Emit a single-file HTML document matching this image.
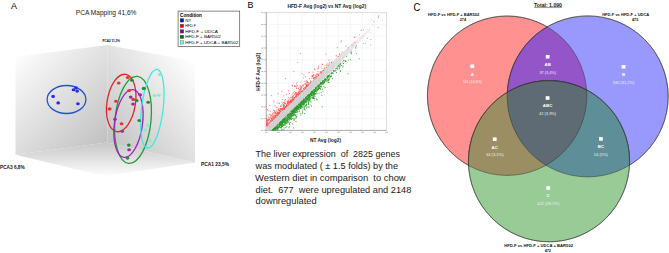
<!DOCTYPE html>
<html><head><meta charset="utf-8"><style>
html,body{margin:0;padding:0;background:#fff;width:669px;height:253px;overflow:hidden}
svg{display:block}
text{font-family:"Liberation Sans",sans-serif}
</style></head><body>
<svg width="669" height="253" viewBox="0 0 669 253" font-family="Liberation Sans, sans-serif">
<defs>
<linearGradient id="gl" x1="20" y1="50" x2="110" y2="140" gradientUnits="userSpaceOnUse"><stop offset="0" stop-color="#fefefe"/><stop offset="1" stop-color="#c1c1c1"/></linearGradient>
<linearGradient id="gr" x1="107" y1="142.5" x2="200.4" y2="68" gradientUnits="userSpaceOnUse"><stop offset="0" stop-color="#c3c3c3"/><stop offset="1" stop-color="#ffffff"/></linearGradient>
<linearGradient id="gf" x1="0" y1="142.5" x2="0" y2="176.3" gradientUnits="userSpaceOnUse"><stop offset="0" stop-color="#c6c6c6"/><stop offset="1" stop-color="#fefefe"/></linearGradient>
</defs>
<rect width="669" height="253" fill="#fff"/>
<text x="11" y="8.7" font-size="8.8" font-weight="normal" fill="#000" text-anchor="start" textLength="6.0" lengthAdjust="spacingAndGlyphs" >A</text>
<text x="75.8" y="14.9" font-size="7.5" font-weight="normal" fill="#222" text-anchor="start" textLength="60.6" lengthAdjust="spacingAndGlyphs" >PCA Mapping 41,6%</text>
<polygon points="15.5,57 107.3,45 107.3,142.5 15.5,154.7" fill="url(#gl)"/>
<polygon points="107.3,45 195,61.5 195,162.6 107.3,142.5" fill="url(#gr)"/>
<polygon points="15.5,154.7 107.3,142.5 195,162.6 105.3,176.3" fill="url(#gf)"/>
<text x="102.6" y="42.3" font-size="3.9" font-weight="bold" fill="#000" text-anchor="start" textLength="17.4" lengthAdjust="spacingAndGlyphs" >PCA2 11,3%</text>
<text x="201" y="166.2" font-size="5.4" font-weight="bold" fill="#111" text-anchor="start" textLength="28" lengthAdjust="spacingAndGlyphs" >PCA1 23,5%</text>
<text x="0" y="168.7" font-size="5.4" font-weight="bold" fill="#111" text-anchor="start" textLength="24.7" lengthAdjust="spacingAndGlyphs" >PCA3 6,8%</text>
<rect x="178.1" y="11.1" width="61.6" height="35.5" fill="#fff" stroke="#555" stroke-width="0.7"/>
<text x="180.1" y="16.6" font-size="4.6" font-weight="bold" fill="#000" text-anchor="start" textLength="21.9" lengthAdjust="spacingAndGlyphs" >Condition</text>
<rect x="180.2" y="18.70" width="3.5" height="3.4" fill="#0000ff" stroke="#333" stroke-width="0.3"/>
<text x="185.2" y="21.9" font-size="4.3" font-weight="normal" fill="#000" text-anchor="start" textLength="6.0" lengthAdjust="spacingAndGlyphs" >NT</text>
<rect x="180.2" y="24.20" width="3.5" height="3.4" fill="#ee0000" stroke="#333" stroke-width="0.3"/>
<text x="185.2" y="27.4" font-size="4.3" font-weight="normal" fill="#000" text-anchor="start" textLength="10.8" lengthAdjust="spacingAndGlyphs" >HFD-F</text>
<rect x="180.2" y="29.70" width="3.5" height="3.4" fill="#800080" stroke="#333" stroke-width="0.3"/>
<text x="185.2" y="32.9" font-size="4.3" font-weight="normal" fill="#000" text-anchor="start" textLength="32.6" lengthAdjust="spacingAndGlyphs" >HFD-F + UDCA</text>
<rect x="180.2" y="35.20" width="3.5" height="3.4" fill="#007000" stroke="#333" stroke-width="0.3"/>
<text x="185.2" y="38.400000000000006" font-size="4.3" font-weight="normal" fill="#000" text-anchor="start" textLength="35.7" lengthAdjust="spacingAndGlyphs" >HFD-F + BAR502</text>
<rect x="180.2" y="40.70" width="3.5" height="3.4" fill="#66ffd8" stroke="#333" stroke-width="0.3"/>
<text x="185.2" y="43.900000000000006" font-size="4.3" font-weight="normal" fill="#000" text-anchor="start" textLength="53" lengthAdjust="spacingAndGlyphs" >HFD-F + UDCA + BAR502</text>
<ellipse cx="66.5" cy="99.5" rx="19.4" ry="14.0" transform="rotate(0 66.5 99.5)" fill="none" stroke="#2255cc" stroke-width="1.3"/>
<ellipse cx="53.1" cy="96.4" rx="1.87" ry="1.53" fill="#2a2aee"/>
<ellipse cx="58.2" cy="102.9" rx="1.87" ry="1.53" fill="#2a2aee"/>
<ellipse cx="73.5" cy="89.8" rx="1.87" ry="1.53" fill="#2a2aee"/>
<ellipse cx="76" cy="87.9" rx="1.87" ry="1.53" fill="#2a2aee"/>
<ellipse cx="77.1" cy="91.1" rx="1.87" ry="1.53" fill="#2a2aee"/>
<ellipse cx="77.9" cy="103.7" rx="1.87" ry="1.53" fill="#2a2aee"/>
<ellipse cx="121.2" cy="103" rx="14.2" ry="29" transform="rotate(9 121.2 103)" fill="none" stroke="#ee2222" stroke-width="1.3"/>
<ellipse cx="133" cy="119.9" rx="18" ry="43.7" transform="rotate(5.7 133 119.9)" fill="none" stroke="#1e9e3e" stroke-width="1.3"/>
<ellipse cx="128.5" cy="123.5" rx="14" ry="34.1" transform="rotate(7.8 128.5 123.5)" fill="none" stroke="#a020c0" stroke-width="1.3"/>
<ellipse cx="152.3" cy="108.7" rx="10.8" ry="39.6" transform="rotate(7 152.3 108.7)" fill="none" stroke="#44e8e0" stroke-width="1.3"/>
<ellipse cx="118.7" cy="83" rx="1.87" ry="1.53" fill="#e83030"/>
<ellipse cx="127.7" cy="77.5" rx="1.87" ry="1.53" fill="#e83030"/>
<ellipse cx="129.1" cy="90.6" rx="1.87" ry="1.53" fill="#e83030"/>
<ellipse cx="133.2" cy="99.4" rx="1.87" ry="1.53" fill="#e83030"/>
<ellipse cx="109.7" cy="108.9" rx="1.87" ry="1.53" fill="#e83030"/>
<ellipse cx="121.5" cy="123.8" rx="1.87" ry="1.53" fill="#e83030"/>
<ellipse cx="115.9" cy="101.2" rx="1.87" ry="1.53" fill="#e83030"/>
<ellipse cx="131.9" cy="80.2" rx="1.87" ry="1.53" fill="#2a8a3a"/>
<ellipse cx="144" cy="88.5" rx="1.87" ry="1.53" fill="#2a8a3a"/>
<ellipse cx="143.6" cy="88.4" rx="1.87" ry="1.53" fill="#2a8a3a"/>
<ellipse cx="136.7" cy="100.5" rx="1.87" ry="1.53" fill="#2a8a3a"/>
<ellipse cx="139.2" cy="120.5" rx="1.87" ry="1.53" fill="#2a8a3a"/>
<ellipse cx="148.2" cy="102.2" rx="1.87" ry="1.53" fill="#2a8a3a"/>
<ellipse cx="128.8" cy="145.1" rx="1.87" ry="1.53" fill="#2a8a3a"/>
<ellipse cx="127.5" cy="158.1" rx="1.87" ry="1.53" fill="#2a8a3a"/>
<ellipse cx="130.7" cy="97.1" rx="1.87" ry="1.53" fill="#9a2aaa"/>
<ellipse cx="140.2" cy="94.8" rx="1.87" ry="1.53" fill="#9a2aaa"/>
<ellipse cx="133" cy="104" rx="1.87" ry="1.53" fill="#9a2aaa"/>
<ellipse cx="115" cy="119.2" rx="1.87" ry="1.53" fill="#9a2aaa"/>
<ellipse cx="122.2" cy="131.2" rx="1.87" ry="1.53" fill="#9a2aaa"/>
<ellipse cx="129.1" cy="149.7" rx="1.87" ry="1.53" fill="#9a2aaa"/>
<ellipse cx="159.7" cy="74.5" rx="1.87" ry="1.53" fill="#88eccc"/>
<ellipse cx="154.4" cy="95.5" rx="1.87" ry="1.53" fill="#88eccc"/>
<ellipse cx="158.8" cy="95.3" rx="1.87" ry="1.53" fill="#88eccc"/>
<ellipse cx="148.1" cy="125.4" rx="1.87" ry="1.53" fill="#88eccc"/>
<ellipse cx="145.4" cy="130" rx="1.87" ry="1.53" fill="#88eccc"/>
<ellipse cx="150.2" cy="140.6" rx="1.87" ry="1.53" fill="#88eccc"/>
<text x="247.5" y="8.0" font-size="9.4" font-weight="normal" fill="#000" text-anchor="start" textLength="5.9" lengthAdjust="spacingAndGlyphs" >B</text>
<line x1="266.10" y1="12.7" x2="266.10" y2="130.3" stroke="#efefef" stroke-width="0.5"/>
<line x1="266.1" y1="130.30" x2="386.6" y2="130.30" stroke="#efefef" stroke-width="0.5"/>
<line x1="278.15" y1="12.7" x2="278.15" y2="130.3" stroke="#efefef" stroke-width="0.5"/>
<line x1="266.1" y1="118.54" x2="386.6" y2="118.54" stroke="#efefef" stroke-width="0.5"/>
<line x1="290.20" y1="12.7" x2="290.20" y2="130.3" stroke="#efefef" stroke-width="0.5"/>
<line x1="266.1" y1="106.78" x2="386.6" y2="106.78" stroke="#efefef" stroke-width="0.5"/>
<line x1="302.25" y1="12.7" x2="302.25" y2="130.3" stroke="#efefef" stroke-width="0.5"/>
<line x1="266.1" y1="95.02" x2="386.6" y2="95.02" stroke="#efefef" stroke-width="0.5"/>
<line x1="314.30" y1="12.7" x2="314.30" y2="130.3" stroke="#efefef" stroke-width="0.5"/>
<line x1="266.1" y1="83.26" x2="386.6" y2="83.26" stroke="#efefef" stroke-width="0.5"/>
<line x1="326.35" y1="12.7" x2="326.35" y2="130.3" stroke="#efefef" stroke-width="0.5"/>
<line x1="266.1" y1="71.50" x2="386.6" y2="71.50" stroke="#efefef" stroke-width="0.5"/>
<line x1="338.40" y1="12.7" x2="338.40" y2="130.3" stroke="#efefef" stroke-width="0.5"/>
<line x1="266.1" y1="59.74" x2="386.6" y2="59.74" stroke="#efefef" stroke-width="0.5"/>
<line x1="350.45" y1="12.7" x2="350.45" y2="130.3" stroke="#efefef" stroke-width="0.5"/>
<line x1="266.1" y1="47.98" x2="386.6" y2="47.98" stroke="#efefef" stroke-width="0.5"/>
<line x1="362.50" y1="12.7" x2="362.50" y2="130.3" stroke="#efefef" stroke-width="0.5"/>
<line x1="266.1" y1="36.22" x2="386.6" y2="36.22" stroke="#efefef" stroke-width="0.5"/>
<line x1="374.55" y1="12.7" x2="374.55" y2="130.3" stroke="#efefef" stroke-width="0.5"/>
<line x1="266.1" y1="24.46" x2="386.6" y2="24.46" stroke="#efefef" stroke-width="0.5"/>
<line x1="386.60" y1="12.7" x2="386.60" y2="130.3" stroke="#efefef" stroke-width="0.5"/>
<line x1="266.1" y1="12.70" x2="386.6" y2="12.70" stroke="#efefef" stroke-width="0.5"/>
<rect x="266.1" y="12.7" width="120.50" height="117.60" fill="none" stroke="#d0d0d0" stroke-width="0.6"/>
<line x1="266.4" y1="12.7" x2="266.4" y2="130.4" stroke="#999" stroke-width="0.7"/>
<line x1="265.3" y1="130.4" x2="386.6" y2="130.4" stroke="#999" stroke-width="0.7"/>
<line x1="264.2" y1="130.40" x2="266.4" y2="130.40" stroke="#7a7a7a" stroke-width="0.5"/>
<rect x="261.4" y="129.90" width="2.0" height="1" fill="#b0b0b0"/>
<rect x="265.10" y="131.8" width="2.6" height="1" fill="#bcbcbc"/>
<line x1="264.2" y1="118.63" x2="266.4" y2="118.63" stroke="#7a7a7a" stroke-width="0.5"/>
<rect x="261.4" y="118.13" width="2.0" height="1" fill="#b0b0b0"/>
<rect x="277.12" y="131.8" width="2.6" height="1" fill="#bcbcbc"/>
<line x1="264.2" y1="106.86" x2="266.4" y2="106.86" stroke="#7a7a7a" stroke-width="0.5"/>
<rect x="261.4" y="106.36" width="2.0" height="1" fill="#b0b0b0"/>
<rect x="289.14" y="131.8" width="2.6" height="1" fill="#bcbcbc"/>
<line x1="264.2" y1="95.09" x2="266.4" y2="95.09" stroke="#7a7a7a" stroke-width="0.5"/>
<rect x="261.4" y="94.59" width="2.0" height="1" fill="#b0b0b0"/>
<rect x="301.16" y="131.8" width="2.6" height="1" fill="#bcbcbc"/>
<line x1="264.2" y1="83.32" x2="266.4" y2="83.32" stroke="#7a7a7a" stroke-width="0.5"/>
<rect x="261.4" y="82.82" width="2.0" height="1" fill="#b0b0b0"/>
<rect x="313.18" y="131.8" width="2.6" height="1" fill="#bcbcbc"/>
<line x1="264.2" y1="71.55" x2="266.4" y2="71.55" stroke="#7a7a7a" stroke-width="0.5"/>
<rect x="261.4" y="71.05" width="2.0" height="1" fill="#b0b0b0"/>
<rect x="325.20" y="131.8" width="2.6" height="1" fill="#bcbcbc"/>
<line x1="264.2" y1="59.78" x2="266.4" y2="59.78" stroke="#7a7a7a" stroke-width="0.5"/>
<rect x="261.4" y="59.28" width="2.0" height="1" fill="#b0b0b0"/>
<rect x="337.22" y="131.8" width="2.6" height="1" fill="#bcbcbc"/>
<line x1="264.2" y1="48.01" x2="266.4" y2="48.01" stroke="#7a7a7a" stroke-width="0.5"/>
<rect x="261.4" y="47.51" width="2.0" height="1" fill="#b0b0b0"/>
<rect x="349.24" y="131.8" width="2.6" height="1" fill="#bcbcbc"/>
<line x1="264.2" y1="36.24" x2="266.4" y2="36.24" stroke="#7a7a7a" stroke-width="0.5"/>
<rect x="261.4" y="35.74" width="2.0" height="1" fill="#b0b0b0"/>
<rect x="361.26" y="131.8" width="2.6" height="1" fill="#bcbcbc"/>
<line x1="264.2" y1="24.47" x2="266.4" y2="24.47" stroke="#7a7a7a" stroke-width="0.5"/>
<rect x="261.4" y="23.97" width="2.0" height="1" fill="#b0b0b0"/>
<rect x="373.28" y="131.8" width="2.6" height="1" fill="#bcbcbc"/>
<line x1="264.2" y1="12.70" x2="266.4" y2="12.70" stroke="#7a7a7a" stroke-width="0.5"/>
<rect x="261.4" y="12.20" width="2.0" height="1" fill="#b0b0b0"/>
<rect x="385.30" y="131.8" width="2.6" height="1" fill="#bcbcbc"/>
<clipPath id="pc"><rect x="266.1" y="12.7" width="120.50" height="117.60"/></clipPath>
<g clip-path="url(#pc)">
<linearGradient id="gb" gradientUnits="userSpaceOnUse" x1="316.9" y1="81.0" x2="360.2" y2="38.7"><stop offset="0" stop-color="#d2d2d2"/><stop offset="1" stop-color="#eeeeee"/></linearGradient>
<polygon points="260.29,131.64 261.89,130.07 263.49,128.51 265.10,126.95 266.70,125.39 268.30,123.82 269.90,122.26 271.50,120.70 273.10,119.14 274.70,117.57 276.30,116.01 277.90,114.45 279.50,112.89 281.11,111.32 282.71,109.76 284.31,108.20 285.91,106.64 287.51,105.08 289.11,103.51 290.71,101.95 292.31,100.39 293.91,98.83 295.51,97.26 297.11,95.70 298.72,94.14 300.32,92.58 301.92,91.01 303.52,89.45 305.12,87.89 306.72,86.33 308.32,84.76 309.92,83.20 311.52,81.64 313.12,80.08 314.72,78.51 316.33,76.95 317.93,75.39 319.53,73.83 321.13,72.26 322.73,70.70 324.33,69.14 325.93,67.58 327.53,66.02 329.13,64.45 330.76,62.91 332.42,61.42 334.09,59.92 335.76,58.42 337.42,56.92 339.09,55.43 340.75,53.93 342.42,52.43 344.09,50.94 345.75,49.44 347.42,47.94 349.09,46.45 350.75,44.95 352.42,43.45 354.08,41.95 355.75,40.46 357.42,38.96 359.09,37.47 360.85,36.06 362.61,34.66 364.37,33.26 366.13,31.86 367.89,30.45 369.65,29.05 371.41,27.65 373.09,26.16 374.69,24.60 374.69,24.60 373.09,26.16 371.57,27.81 370.13,29.53 368.69,31.25 367.24,32.97 365.80,34.69 364.36,36.42 362.92,38.14 361.48,39.86 359.95,41.49 358.41,43.12 356.88,44.75 355.34,46.37 353.81,48.00 352.27,49.63 350.73,51.26 349.20,52.89 347.66,54.51 346.13,56.14 344.59,57.77 343.06,59.40 341.52,61.02 339.98,62.65 338.45,64.28 336.91,65.91 335.38,67.53 333.80,69.12 332.20,70.68 330.60,72.24 329.00,73.81 327.40,75.37 325.80,76.93 324.19,78.49 322.59,80.06 320.99,81.62 319.39,83.18 317.79,84.74 316.19,86.31 314.59,87.87 312.99,89.43 311.39,90.99 309.79,92.56 308.18,94.12 306.58,95.68 304.98,97.24 303.38,98.81 301.78,100.37 300.18,101.93 298.58,103.49 296.98,105.05 295.38,106.62 293.78,108.18 292.18,109.74 290.57,111.30 288.97,112.87 287.37,114.43 285.77,115.99 284.17,117.55 282.57,119.12 280.97,120.68 279.37,122.24 277.77,123.80 276.17,125.37 274.57,126.93 272.96,128.49 271.36,130.05 269.76,131.62 268.16,133.18 266.56,134.74 264.96,136.30" fill="url(#gb)"/>
<rect x="299.05" y="93.29" width="0.85" height="0.85" fill="#ff5050"/>
<rect x="266.68" y="124.21" width="0.85" height="0.85" fill="#ff5050"/>
<rect x="266.85" y="121.56" width="0.85" height="0.85" fill="#ff5050"/>
<rect x="272.08" y="113.95" width="0.85" height="0.85" fill="#ff5050"/>
<rect x="275.88" y="112.88" width="0.85" height="0.85" fill="#ff5050"/>
<rect x="281.58" y="109.89" width="0.85" height="0.85" fill="#ff5050"/>
<rect x="326.05" y="66.98" width="0.85" height="0.85" fill="#ff5050"/>
<rect x="297.77" y="94.31" width="0.85" height="0.85" fill="#ff5050"/>
<rect x="287.50" y="100.72" width="0.85" height="0.85" fill="#ff5050"/>
<rect x="277.44" y="112.59" width="0.85" height="0.85" fill="#ff5050"/>
<rect x="262.33" y="119.22" width="0.85" height="0.85" fill="#ff5050"/>
<rect x="306.12" y="85.61" width="0.85" height="0.85" fill="#ff5050"/>
<rect x="278.99" y="110.32" width="0.85" height="0.85" fill="#ff5050"/>
<rect x="273.70" y="114.25" width="0.85" height="0.85" fill="#ff5050"/>
<rect x="267.72" y="119.88" width="0.85" height="0.85" fill="#ff5050"/>
<rect x="291.56" y="96.61" width="0.85" height="0.85" fill="#ff5050"/>
<rect x="280.82" y="110.21" width="0.85" height="0.85" fill="#ff5050"/>
<rect x="259.90" y="130.27" width="0.85" height="0.85" fill="#ff5050"/>
<rect x="336.90" y="47.24" width="0.85" height="0.85" fill="#ff5050"/>
<rect x="306.51" y="84.43" width="0.85" height="0.85" fill="#ff5050"/>
<rect x="267.61" y="124.13" width="0.85" height="0.85" fill="#ff5050"/>
<rect x="301.10" y="91.47" width="0.85" height="0.85" fill="#ff5050"/>
<rect x="270.32" y="117.50" width="0.85" height="0.85" fill="#ff5050"/>
<rect x="290.55" y="101.83" width="0.85" height="0.85" fill="#ff5050"/>
<rect x="270.32" y="121.21" width="0.85" height="0.85" fill="#ff5050"/>
<rect x="262.91" y="128.75" width="0.85" height="0.85" fill="#ff5050"/>
<rect x="321.67" y="63.69" width="0.85" height="0.85" fill="#ff5050"/>
<rect x="290.19" y="99.36" width="0.85" height="0.85" fill="#ff5050"/>
<rect x="285.19" y="78.04" width="0.85" height="0.85" fill="#ff5050"/>
<rect x="287.58" y="104.94" width="0.85" height="0.85" fill="#ff5050"/>
<rect x="262.41" y="127.10" width="0.85" height="0.85" fill="#ff5050"/>
<rect x="286.62" y="105.47" width="0.85" height="0.85" fill="#ff5050"/>
<rect x="265.12" y="116.28" width="0.85" height="0.85" fill="#ff5050"/>
<rect x="280.09" y="108.93" width="0.85" height="0.85" fill="#ff5050"/>
<rect x="269.79" y="110.89" width="0.85" height="0.85" fill="#ff5050"/>
<rect x="274.12" y="110.66" width="0.85" height="0.85" fill="#ff5050"/>
<rect x="302.50" y="90.41" width="0.85" height="0.85" fill="#ff5050"/>
<rect x="289.70" y="101.08" width="0.85" height="0.85" fill="#ff5050"/>
<rect x="288.99" y="98.58" width="0.85" height="0.85" fill="#ff5050"/>
<rect x="300.44" y="87.54" width="0.85" height="0.85" fill="#ff5050"/>
<rect x="323.16" y="69.86" width="0.85" height="0.85" fill="#ff5050"/>
<rect x="260.09" y="130.49" width="0.85" height="0.85" fill="#ff5050"/>
<rect x="297.95" y="91.67" width="0.85" height="0.85" fill="#ff5050"/>
<rect x="272.74" y="118.81" width="0.85" height="0.85" fill="#ff5050"/>
<rect x="274.66" y="117.04" width="0.85" height="0.85" fill="#ff5050"/>
<rect x="261.07" y="115.00" width="0.85" height="0.85" fill="#ff5050"/>
<rect x="278.36" y="112.93" width="0.85" height="0.85" fill="#ff5050"/>
<rect x="286.04" y="105.10" width="0.85" height="0.85" fill="#ff5050"/>
<rect x="279.31" y="112.21" width="0.85" height="0.85" fill="#ff5050"/>
<rect x="283.81" y="108.55" width="0.85" height="0.85" fill="#ff5050"/>
<rect x="261.71" y="128.75" width="0.85" height="0.85" fill="#ff5050"/>
<rect x="255.44" y="111.47" width="0.85" height="0.85" fill="#ff5050"/>
<rect x="271.32" y="117.71" width="0.85" height="0.85" fill="#ff5050"/>
<rect x="290.31" y="97.26" width="0.85" height="0.85" fill="#ff5050"/>
<rect x="277.01" y="112.79" width="0.85" height="0.85" fill="#ff5050"/>
<rect x="269.11" y="119.16" width="0.85" height="0.85" fill="#ff5050"/>
<rect x="267.30" y="121.40" width="0.85" height="0.85" fill="#ff5050"/>
<rect x="268.28" y="119.68" width="0.85" height="0.85" fill="#ff5050"/>
<rect x="312.20" y="75.50" width="0.85" height="0.85" fill="#ff5050"/>
<rect x="292.28" y="99.85" width="0.85" height="0.85" fill="#ff5050"/>
<rect x="273.24" y="118.53" width="0.85" height="0.85" fill="#ff5050"/>
<rect x="296.68" y="93.73" width="0.85" height="0.85" fill="#ff5050"/>
<rect x="320.53" y="72.81" width="0.85" height="0.85" fill="#ff5050"/>
<rect x="287.64" y="99.35" width="0.85" height="0.85" fill="#ff5050"/>
<rect x="282.73" y="108.96" width="0.85" height="0.85" fill="#ff5050"/>
<rect x="293.37" y="71.12" width="0.85" height="0.85" fill="#ff5050"/>
<rect x="298.02" y="87.76" width="0.85" height="0.85" fill="#ff5050"/>
<rect x="308.91" y="83.90" width="0.85" height="0.85" fill="#ff5050"/>
<rect x="268.63" y="123.13" width="0.85" height="0.85" fill="#ff5050"/>
<rect x="266.55" y="117.78" width="0.85" height="0.85" fill="#ff5050"/>
<rect x="293.61" y="97.83" width="0.85" height="0.85" fill="#ff5050"/>
<rect x="275.81" y="109.65" width="0.85" height="0.85" fill="#ff5050"/>
<rect x="289.28" y="102.42" width="0.85" height="0.85" fill="#ff5050"/>
<rect x="259.68" y="130.77" width="0.85" height="0.85" fill="#ff5050"/>
<rect x="284.19" y="107.68" width="0.85" height="0.85" fill="#ff5050"/>
<rect x="271.08" y="121.06" width="0.85" height="0.85" fill="#ff5050"/>
<rect x="296.16" y="95.06" width="0.85" height="0.85" fill="#ff5050"/>
<rect x="306.66" y="85.26" width="0.85" height="0.85" fill="#ff5050"/>
<rect x="262.08" y="123.00" width="0.85" height="0.85" fill="#ff5050"/>
<rect x="275.17" y="113.34" width="0.85" height="0.85" fill="#ff5050"/>
<rect x="287.53" y="104.12" width="0.85" height="0.85" fill="#ff5050"/>
<rect x="271.89" y="118.25" width="0.85" height="0.85" fill="#ff5050"/>
<rect x="314.38" y="69.22" width="0.85" height="0.85" fill="#ff5050"/>
<rect x="339.10" y="53.46" width="0.85" height="0.85" fill="#ff5050"/>
<rect x="268.45" y="122.07" width="0.85" height="0.85" fill="#ff5050"/>
<rect x="337.74" y="56.05" width="0.85" height="0.85" fill="#ff5050"/>
<rect x="328.38" y="64.54" width="0.85" height="0.85" fill="#ff5050"/>
<rect x="315.70" y="76.01" width="0.85" height="0.85" fill="#ff5050"/>
<rect x="250.22" y="117.40" width="0.85" height="0.85" fill="#ff5050"/>
<rect x="311.36" y="75.69" width="0.85" height="0.85" fill="#ff5050"/>
<rect x="284.90" y="106.07" width="0.85" height="0.85" fill="#ff5050"/>
<rect x="288.15" y="104.40" width="0.85" height="0.85" fill="#ff5050"/>
<rect x="260.34" y="130.83" width="0.85" height="0.85" fill="#ff5050"/>
<rect x="275.30" y="113.14" width="0.85" height="0.85" fill="#ff5050"/>
<rect x="260.05" y="130.98" width="0.85" height="0.85" fill="#ff5050"/>
<rect x="302.00" y="84.72" width="0.85" height="0.85" fill="#ff5050"/>
<rect x="303.71" y="89.16" width="0.85" height="0.85" fill="#ff5050"/>
<rect x="269.64" y="116.77" width="0.85" height="0.85" fill="#ff5050"/>
<rect x="290.11" y="102.09" width="0.85" height="0.85" fill="#ff5050"/>
<rect x="345.57" y="45.58" width="0.85" height="0.85" fill="#ff5050"/>
<rect x="294.30" y="97.50" width="0.85" height="0.85" fill="#ff5050"/>
<rect x="315.77" y="74.68" width="0.85" height="0.85" fill="#ff5050"/>
<rect x="277.95" y="109.45" width="0.85" height="0.85" fill="#ff5050"/>
<rect x="300.22" y="53.21" width="0.85" height="0.85" fill="#ff5050"/>
<rect x="314.41" y="78.62" width="0.85" height="0.85" fill="#ff5050"/>
<rect x="301.18" y="91.11" width="0.85" height="0.85" fill="#ff5050"/>
<rect x="309.73" y="82.53" width="0.85" height="0.85" fill="#ff5050"/>
<rect x="267.30" y="123.86" width="0.85" height="0.85" fill="#ff5050"/>
<rect x="292.32" y="99.14" width="0.85" height="0.85" fill="#ff5050"/>
<rect x="261.91" y="125.58" width="0.85" height="0.85" fill="#ff5050"/>
<rect x="328.31" y="59.85" width="0.85" height="0.85" fill="#ff5050"/>
<rect x="272.22" y="117.60" width="0.85" height="0.85" fill="#ff5050"/>
<rect x="262.38" y="124.31" width="0.85" height="0.85" fill="#ff5050"/>
<rect x="274.44" y="115.32" width="0.85" height="0.85" fill="#ff5050"/>
<rect x="272.88" y="117.52" width="0.85" height="0.85" fill="#ff5050"/>
<rect x="307.05" y="85.99" width="0.85" height="0.85" fill="#ff5050"/>
<rect x="292.97" y="92.52" width="0.85" height="0.85" fill="#ff5050"/>
<rect x="284.27" y="99.72" width="0.85" height="0.85" fill="#ff5050"/>
<rect x="296.14" y="94.30" width="0.85" height="0.85" fill="#ff5050"/>
<rect x="301.74" y="73.08" width="0.85" height="0.85" fill="#ff5050"/>
<rect x="287.04" y="104.39" width="0.85" height="0.85" fill="#ff5050"/>
<rect x="319.81" y="70.94" width="0.85" height="0.85" fill="#ff5050"/>
<rect x="283.76" y="102.38" width="0.85" height="0.85" fill="#ff5050"/>
<rect x="319.46" y="72.76" width="0.85" height="0.85" fill="#ff5050"/>
<rect x="274.06" y="110.55" width="0.85" height="0.85" fill="#ff5050"/>
<rect x="276.86" y="114.42" width="0.85" height="0.85" fill="#ff5050"/>
<rect x="282.53" y="109.71" width="0.85" height="0.85" fill="#ff5050"/>
<rect x="305.34" y="87.66" width="0.85" height="0.85" fill="#ff5050"/>
<rect x="293.54" y="98.26" width="0.85" height="0.85" fill="#ff5050"/>
<rect x="263.56" y="123.17" width="0.85" height="0.85" fill="#ff5050"/>
<rect x="283.44" y="108.83" width="0.85" height="0.85" fill="#ff5050"/>
<rect x="263.44" y="126.49" width="0.85" height="0.85" fill="#ff5050"/>
<rect x="297.76" y="88.37" width="0.85" height="0.85" fill="#ff5050"/>
<rect x="291.54" y="100.46" width="0.85" height="0.85" fill="#ff5050"/>
<rect x="257.19" y="127.64" width="0.85" height="0.85" fill="#ff5050"/>
<rect x="277.59" y="93.25" width="0.85" height="0.85" fill="#ff5050"/>
<rect x="306.15" y="85.46" width="0.85" height="0.85" fill="#ff5050"/>
<rect x="298.51" y="93.77" width="0.85" height="0.85" fill="#ff5050"/>
<rect x="284.00" y="108.36" width="0.85" height="0.85" fill="#ff5050"/>
<rect x="260.21" y="123.49" width="0.85" height="0.85" fill="#ff5050"/>
<rect x="291.48" y="99.75" width="0.85" height="0.85" fill="#ff5050"/>
<rect x="287.32" y="102.91" width="0.85" height="0.85" fill="#ff5050"/>
<rect x="287.82" y="100.25" width="0.85" height="0.85" fill="#ff5050"/>
<rect x="317.68" y="68.23" width="0.85" height="0.85" fill="#ff5050"/>
<rect x="264.93" y="126.67" width="0.85" height="0.85" fill="#ff5050"/>
<rect x="291.22" y="100.67" width="0.85" height="0.85" fill="#ff5050"/>
<rect x="286.28" y="105.80" width="0.85" height="0.85" fill="#ff5050"/>
<rect x="290.21" y="100.85" width="0.85" height="0.85" fill="#ff5050"/>
<rect x="260.94" y="129.57" width="0.85" height="0.85" fill="#ff5050"/>
<rect x="295.10" y="92.11" width="0.85" height="0.85" fill="#ff5050"/>
<rect x="267.07" y="123.35" width="0.85" height="0.85" fill="#ff5050"/>
<rect x="336.34" y="55.50" width="0.85" height="0.85" fill="#ff5050"/>
<rect x="306.43" y="80.20" width="0.85" height="0.85" fill="#ff5050"/>
<rect x="297.36" y="94.33" width="0.85" height="0.85" fill="#ff5050"/>
<rect x="303.32" y="88.05" width="0.85" height="0.85" fill="#ff5050"/>
<rect x="259.18" y="129.12" width="0.85" height="0.85" fill="#ff5050"/>
<rect x="314.98" y="76.58" width="0.85" height="0.85" fill="#ff5050"/>
<rect x="270.28" y="120.42" width="0.85" height="0.85" fill="#ff5050"/>
<rect x="275.12" y="111.73" width="0.85" height="0.85" fill="#ff5050"/>
<rect x="261.36" y="106.79" width="0.85" height="0.85" fill="#ff5050"/>
<rect x="270.95" y="95.31" width="0.85" height="0.85" fill="#ff5050"/>
<rect x="316.73" y="73.13" width="0.85" height="0.85" fill="#ff5050"/>
<rect x="286.07" y="105.47" width="0.85" height="0.85" fill="#ff5050"/>
<rect x="267.07" y="109.12" width="0.85" height="0.85" fill="#ff5050"/>
<rect x="265.11" y="126.67" width="0.85" height="0.85" fill="#ff5050"/>
<rect x="313.11" y="78.07" width="0.85" height="0.85" fill="#ff5050"/>
<rect x="313.93" y="68.72" width="0.85" height="0.85" fill="#ff5050"/>
<rect x="315.40" y="77.62" width="0.85" height="0.85" fill="#ff5050"/>
<rect x="275.15" y="115.91" width="0.85" height="0.85" fill="#ff5050"/>
<rect x="321.68" y="71.55" width="0.85" height="0.85" fill="#ff5050"/>
<rect x="321.42" y="70.98" width="0.85" height="0.85" fill="#ff5050"/>
<rect x="280.31" y="105.53" width="0.85" height="0.85" fill="#ff5050"/>
<rect x="267.58" y="123.32" width="0.85" height="0.85" fill="#ff5050"/>
<rect x="284.99" y="106.73" width="0.85" height="0.85" fill="#ff5050"/>
<rect x="261.81" y="124.38" width="0.85" height="0.85" fill="#ff5050"/>
<rect x="279.82" y="110.99" width="0.85" height="0.85" fill="#ff5050"/>
<rect x="272.37" y="118.80" width="0.85" height="0.85" fill="#ff5050"/>
<rect x="303.50" y="89.06" width="0.85" height="0.85" fill="#ff5050"/>
<rect x="297.80" y="94.70" width="0.85" height="0.85" fill="#ff5050"/>
<rect x="276.12" y="116.03" width="0.85" height="0.85" fill="#ff5050"/>
<rect x="260.14" y="130.86" width="0.85" height="0.85" fill="#ff5050"/>
<rect x="287.07" y="105.02" width="0.85" height="0.85" fill="#ff5050"/>
<rect x="276.36" y="115.62" width="0.85" height="0.85" fill="#ff5050"/>
<rect x="266.45" y="114.98" width="0.85" height="0.85" fill="#ff5050"/>
<rect x="307.63" y="83.27" width="0.85" height="0.85" fill="#ff5050"/>
<rect x="289.43" y="101.61" width="0.85" height="0.85" fill="#ff5050"/>
<rect x="307.61" y="82.29" width="0.85" height="0.85" fill="#ff5050"/>
<rect x="261.24" y="129.64" width="0.85" height="0.85" fill="#ff5050"/>
<rect x="283.25" y="107.08" width="0.85" height="0.85" fill="#ff5050"/>
<rect x="295.24" y="92.92" width="0.85" height="0.85" fill="#ff5050"/>
<rect x="258.84" y="128.68" width="0.85" height="0.85" fill="#ff5050"/>
<rect x="287.48" y="105.02" width="0.85" height="0.85" fill="#ff5050"/>
<rect x="294.12" y="85.58" width="0.85" height="0.85" fill="#ff5050"/>
<rect x="291.40" y="99.57" width="0.85" height="0.85" fill="#ff5050"/>
<rect x="281.43" y="90.78" width="0.85" height="0.85" fill="#ff5050"/>
<rect x="287.86" y="102.26" width="0.85" height="0.85" fill="#ff5050"/>
<rect x="283.27" y="104.15" width="0.85" height="0.85" fill="#ff5050"/>
<rect x="274.91" y="111.83" width="0.85" height="0.85" fill="#ff5050"/>
<rect x="301.80" y="91.03" width="0.85" height="0.85" fill="#ff5050"/>
<rect x="266.41" y="122.10" width="0.85" height="0.85" fill="#ff5050"/>
<rect x="258.03" y="113.67" width="0.85" height="0.85" fill="#ff5050"/>
<rect x="273.16" y="119.00" width="0.85" height="0.85" fill="#ff5050"/>
<rect x="271.52" y="119.08" width="0.85" height="0.85" fill="#ff5050"/>
<rect x="298.43" y="93.79" width="0.85" height="0.85" fill="#ff5050"/>
<rect x="293.94" y="97.99" width="0.85" height="0.85" fill="#ff5050"/>
<rect x="262.45" y="126.42" width="0.85" height="0.85" fill="#ff5050"/>
<rect x="301.82" y="90.60" width="0.85" height="0.85" fill="#ff5050"/>
<rect x="246.98" y="118.01" width="0.85" height="0.85" fill="#ff5050"/>
<rect x="259.13" y="129.43" width="0.85" height="0.85" fill="#ff5050"/>
<rect x="280.64" y="108.05" width="0.85" height="0.85" fill="#ff5050"/>
<rect x="291.44" y="100.74" width="0.85" height="0.85" fill="#ff5050"/>
<rect x="271.89" y="117.06" width="0.85" height="0.85" fill="#ff5050"/>
<rect x="308.33" y="84.13" width="0.85" height="0.85" fill="#ff5050"/>
<rect x="282.67" y="104.94" width="0.85" height="0.85" fill="#ff5050"/>
<rect x="286.95" y="102.68" width="0.85" height="0.85" fill="#ff5050"/>
<rect x="300.32" y="88.69" width="0.85" height="0.85" fill="#ff5050"/>
<rect x="277.66" y="108.64" width="0.85" height="0.85" fill="#ff5050"/>
<rect x="274.52" y="115.85" width="0.85" height="0.85" fill="#ff5050"/>
<rect x="276.82" y="102.55" width="0.85" height="0.85" fill="#ff5050"/>
<rect x="278.50" y="113.04" width="0.85" height="0.85" fill="#ff5050"/>
<rect x="322.99" y="70.01" width="0.85" height="0.85" fill="#ff5050"/>
<rect x="272.05" y="119.15" width="0.85" height="0.85" fill="#ff5050"/>
<rect x="283.69" y="108.32" width="0.85" height="0.85" fill="#ff5050"/>
<rect x="305.43" y="84.31" width="0.85" height="0.85" fill="#ff5050"/>
<rect x="275.95" y="113.53" width="0.85" height="0.85" fill="#ff5050"/>
<rect x="303.54" y="74.61" width="0.85" height="0.85" fill="#ff5050"/>
<rect x="297.43" y="94.25" width="0.85" height="0.85" fill="#ff5050"/>
<rect x="310.78" y="81.26" width="0.85" height="0.85" fill="#ff5050"/>
<rect x="280.61" y="108.37" width="0.85" height="0.85" fill="#ff5050"/>
<rect x="263.27" y="125.54" width="0.85" height="0.85" fill="#ff5050"/>
<rect x="271.13" y="118.41" width="0.85" height="0.85" fill="#ff5050"/>
<rect x="284.08" y="105.40" width="0.85" height="0.85" fill="#ff5050"/>
<rect x="274.98" y="117.18" width="0.85" height="0.85" fill="#ff5050"/>
<rect x="292.78" y="98.80" width="0.85" height="0.85" fill="#ff5050"/>
<rect x="301.29" y="88.79" width="0.85" height="0.85" fill="#ff5050"/>
<rect x="286.42" y="105.64" width="0.85" height="0.85" fill="#ff5050"/>
<rect x="272.32" y="112.87" width="0.85" height="0.85" fill="#ff5050"/>
<rect x="286.44" y="103.98" width="0.85" height="0.85" fill="#ff5050"/>
<rect x="316.56" y="76.45" width="0.85" height="0.85" fill="#ff5050"/>
<rect x="305.40" y="87.18" width="0.85" height="0.85" fill="#ff5050"/>
<rect x="260.32" y="131.02" width="0.85" height="0.85" fill="#ff5050"/>
<rect x="295.59" y="95.07" width="0.85" height="0.85" fill="#ff5050"/>
<rect x="261.75" y="119.51" width="0.85" height="0.85" fill="#ff5050"/>
<rect x="277.20" y="115.11" width="0.85" height="0.85" fill="#ff5050"/>
<rect x="260.66" y="129.27" width="0.85" height="0.85" fill="#ff5050"/>
<rect x="270.94" y="118.11" width="0.85" height="0.85" fill="#ff5050"/>
<rect x="296.49" y="85.35" width="0.85" height="0.85" fill="#ff5050"/>
<rect x="278.91" y="110.28" width="0.85" height="0.85" fill="#ff5050"/>
<rect x="282.64" y="106.99" width="0.85" height="0.85" fill="#ff5050"/>
<rect x="288.45" y="104.03" width="0.85" height="0.85" fill="#ff5050"/>
<rect x="315.85" y="75.97" width="0.85" height="0.85" fill="#ff5050"/>
<rect x="260.21" y="129.98" width="0.85" height="0.85" fill="#ff5050"/>
<rect x="305.20" y="87.26" width="0.85" height="0.85" fill="#ff5050"/>
<rect x="254.25" y="118.80" width="0.85" height="0.85" fill="#ff5050"/>
<rect x="300.41" y="91.13" width="0.85" height="0.85" fill="#ff5050"/>
<rect x="284.83" y="106.00" width="0.85" height="0.85" fill="#ff5050"/>
<rect x="317.08" y="68.48" width="0.85" height="0.85" fill="#ff5050"/>
<rect x="299.23" y="91.79" width="0.85" height="0.85" fill="#ff5050"/>
<rect x="262.33" y="124.14" width="0.85" height="0.85" fill="#ff5050"/>
<rect x="266.06" y="125.57" width="0.85" height="0.85" fill="#ff5050"/>
<rect x="273.46" y="101.64" width="0.85" height="0.85" fill="#ff5050"/>
<rect x="296.09" y="95.52" width="0.85" height="0.85" fill="#ff5050"/>
<rect x="266.74" y="125.08" width="0.85" height="0.85" fill="#ff5050"/>
<rect x="259.05" y="127.03" width="0.85" height="0.85" fill="#ff5050"/>
<rect x="309.74" y="82.88" width="0.85" height="0.85" fill="#ff5050"/>
<rect x="277.36" y="112.57" width="0.85" height="0.85" fill="#ff5050"/>
<rect x="272.79" y="115.17" width="0.85" height="0.85" fill="#ff5050"/>
<rect x="274.85" y="115.49" width="0.85" height="0.85" fill="#ff5050"/>
<rect x="259.50" y="118.90" width="0.85" height="0.85" fill="#ff5050"/>
<rect x="290.87" y="101.72" width="0.85" height="0.85" fill="#ff5050"/>
<rect x="261.77" y="129.61" width="0.85" height="0.85" fill="#ff5050"/>
<rect x="295.68" y="92.96" width="0.85" height="0.85" fill="#ff5050"/>
<rect x="317.99" y="73.54" width="0.85" height="0.85" fill="#ff5050"/>
<rect x="276.66" y="113.50" width="0.85" height="0.85" fill="#ff5050"/>
<rect x="261.39" y="118.29" width="0.85" height="0.85" fill="#ff5050"/>
<rect x="294.01" y="86.30" width="0.85" height="0.85" fill="#ff5050"/>
<rect x="303.28" y="84.94" width="0.85" height="0.85" fill="#ff5050"/>
<rect x="259.56" y="130.50" width="0.85" height="0.85" fill="#ff5050"/>
<rect x="258.25" y="119.52" width="0.85" height="0.85" fill="#ff5050"/>
<rect x="300.40" y="89.15" width="0.85" height="0.85" fill="#ff5050"/>
<rect x="283.50" y="107.12" width="0.85" height="0.85" fill="#ff5050"/>
<rect x="314.89" y="75.44" width="0.85" height="0.85" fill="#ff5050"/>
<rect x="269.92" y="120.39" width="0.85" height="0.85" fill="#ff5050"/>
<rect x="281.80" y="108.11" width="0.85" height="0.85" fill="#ff5050"/>
<rect x="303.24" y="88.20" width="0.85" height="0.85" fill="#ff5050"/>
<rect x="276.59" y="112.46" width="0.85" height="0.85" fill="#ff5050"/>
<rect x="272.48" y="118.56" width="0.85" height="0.85" fill="#ff5050"/>
<rect x="317.96" y="65.62" width="0.85" height="0.85" fill="#ff5050"/>
<rect x="290.69" y="101.55" width="0.85" height="0.85" fill="#ff5050"/>
<rect x="268.20" y="119.63" width="0.85" height="0.85" fill="#ff5050"/>
<rect x="273.86" y="116.65" width="0.85" height="0.85" fill="#ff5050"/>
<rect x="297.37" y="61.96" width="0.85" height="0.85" fill="#ff5050"/>
<rect x="286.55" y="105.10" width="0.85" height="0.85" fill="#ff5050"/>
<rect x="257.10" y="115.17" width="0.85" height="0.85" fill="#ff5050"/>
<rect x="272.86" y="119.10" width="0.85" height="0.85" fill="#ff5050"/>
<rect x="318.13" y="74.87" width="0.85" height="0.85" fill="#ff5050"/>
<rect x="341.66" y="51.66" width="0.85" height="0.85" fill="#ff5050"/>
<rect x="261.75" y="124.52" width="0.85" height="0.85" fill="#ff5050"/>
<rect x="274.33" y="112.40" width="0.85" height="0.85" fill="#ff5050"/>
<rect x="312.50" y="76.15" width="0.85" height="0.85" fill="#ff5050"/>
<rect x="284.15" y="102.72" width="0.85" height="0.85" fill="#ff5050"/>
<rect x="277.17" y="114.06" width="0.85" height="0.85" fill="#ff5050"/>
<rect x="277.61" y="111.89" width="0.85" height="0.85" fill="#ff5050"/>
<rect x="278.04" y="109.43" width="0.85" height="0.85" fill="#ff5050"/>
<rect x="271.66" y="115.82" width="0.85" height="0.85" fill="#ff5050"/>
<rect x="317.59" y="75.25" width="0.85" height="0.85" fill="#ff5050"/>
<rect x="271.84" y="119.95" width="0.85" height="0.85" fill="#ff5050"/>
<rect x="274.54" y="112.51" width="0.85" height="0.85" fill="#ff5050"/>
<rect x="281.81" y="108.91" width="0.85" height="0.85" fill="#ff5050"/>
<rect x="327.58" y="62.89" width="0.85" height="0.85" fill="#ff5050"/>
<rect x="269.12" y="121.59" width="0.85" height="0.85" fill="#ff5050"/>
<rect x="291.99" y="98.12" width="0.85" height="0.85" fill="#ff5050"/>
<rect x="282.81" y="105.99" width="0.85" height="0.85" fill="#ff5050"/>
<rect x="317.41" y="71.37" width="0.85" height="0.85" fill="#ff5050"/>
<rect x="282.52" y="109.57" width="0.85" height="0.85" fill="#ff5050"/>
<rect x="304.24" y="87.21" width="0.85" height="0.85" fill="#ff5050"/>
<rect x="267.75" y="110.34" width="0.85" height="0.85" fill="#ff5050"/>
<rect x="297.49" y="92.41" width="0.85" height="0.85" fill="#ff5050"/>
<rect x="265.25" y="122.02" width="0.85" height="0.85" fill="#ff5050"/>
<rect x="324.15" y="67.55" width="0.85" height="0.85" fill="#ff5050"/>
<rect x="280.47" y="108.38" width="0.85" height="0.85" fill="#ff5050"/>
<rect x="263.15" y="127.33" width="0.85" height="0.85" fill="#ff5050"/>
<rect x="261.64" y="128.77" width="0.85" height="0.85" fill="#ff5050"/>
<rect x="265.00" y="125.59" width="0.85" height="0.85" fill="#ff5050"/>
<rect x="293.83" y="98.60" width="0.85" height="0.85" fill="#ff5050"/>
<rect x="277.40" y="113.69" width="0.85" height="0.85" fill="#ff5050"/>
<rect x="304.50" y="83.28" width="0.85" height="0.85" fill="#ff5050"/>
<rect x="285.04" y="99.15" width="0.85" height="0.85" fill="#ff5050"/>
<rect x="257.12" y="115.71" width="0.85" height="0.85" fill="#ff5050"/>
<rect x="289.85" y="101.84" width="0.85" height="0.85" fill="#ff5050"/>
<rect x="323.51" y="68.47" width="0.85" height="0.85" fill="#ff5050"/>
<rect x="257.50" y="123.89" width="0.85" height="0.85" fill="#ff5050"/>
<rect x="296.14" y="94.76" width="0.85" height="0.85" fill="#ff5050"/>
<rect x="292.47" y="99.90" width="0.85" height="0.85" fill="#ff5050"/>
<rect x="274.67" y="116.51" width="0.85" height="0.85" fill="#ff5050"/>
<rect x="294.20" y="96.89" width="0.85" height="0.85" fill="#ff5050"/>
<rect x="283.69" y="107.13" width="0.85" height="0.85" fill="#ff5050"/>
<rect x="296.95" y="94.36" width="0.85" height="0.85" fill="#ff5050"/>
<rect x="306.00" y="86.11" width="0.85" height="0.85" fill="#ff5050"/>
<rect x="293.05" y="96.57" width="0.85" height="0.85" fill="#ff5050"/>
<rect x="277.35" y="110.94" width="0.85" height="0.85" fill="#ff5050"/>
<rect x="266.36" y="122.93" width="0.85" height="0.85" fill="#ff5050"/>
<rect x="268.71" y="114.04" width="0.85" height="0.85" fill="#ff5050"/>
<rect x="277.72" y="112.27" width="0.85" height="0.85" fill="#ff5050"/>
<rect x="313.57" y="77.22" width="0.85" height="0.85" fill="#ff5050"/>
<rect x="306.96" y="85.28" width="0.85" height="0.85" fill="#ff5050"/>
<rect x="281.58" y="109.06" width="0.85" height="0.85" fill="#ff5050"/>
<rect x="329.00" y="61.87" width="0.85" height="0.85" fill="#ff5050"/>
<rect x="260.85" y="129.65" width="0.85" height="0.85" fill="#ff5050"/>
<rect x="300.26" y="86.44" width="0.85" height="0.85" fill="#ff5050"/>
<rect x="271.34" y="119.12" width="0.85" height="0.85" fill="#ff5050"/>
<rect x="274.68" y="105.38" width="0.85" height="0.85" fill="#ff5050"/>
<rect x="317.92" y="67.22" width="0.85" height="0.85" fill="#ff5050"/>
<rect x="278.39" y="112.50" width="0.85" height="0.85" fill="#ff5050"/>
<rect x="281.98" y="108.53" width="0.85" height="0.85" fill="#ff5050"/>
<rect x="335.63" y="55.42" width="0.85" height="0.85" fill="#ff5050"/>
<rect x="296.87" y="95.18" width="0.85" height="0.85" fill="#ff5050"/>
<rect x="286.15" y="94.15" width="0.85" height="0.85" fill="#ff5050"/>
<rect x="274.54" y="116.95" width="0.85" height="0.85" fill="#ff5050"/>
<rect x="270.52" y="118.03" width="0.85" height="0.85" fill="#ff5050"/>
<rect x="266.40" y="122.95" width="0.85" height="0.85" fill="#ff5050"/>
<rect x="278.22" y="109.23" width="0.85" height="0.85" fill="#ff5050"/>
<rect x="312.15" y="76.39" width="0.85" height="0.85" fill="#ff5050"/>
<rect x="283.52" y="95.49" width="0.85" height="0.85" fill="#ff5050"/>
<rect x="296.95" y="93.34" width="0.85" height="0.85" fill="#ff5050"/>
<rect x="288.68" y="102.18" width="0.85" height="0.85" fill="#ff5050"/>
<rect x="295.88" y="93.61" width="0.85" height="0.85" fill="#ff5050"/>
<rect x="289.40" y="102.79" width="0.85" height="0.85" fill="#ff5050"/>
<rect x="327.44" y="65.08" width="0.85" height="0.85" fill="#ff5050"/>
<rect x="307.02" y="82.37" width="0.85" height="0.85" fill="#ff5050"/>
<rect x="302.26" y="89.98" width="0.85" height="0.85" fill="#ff5050"/>
<rect x="287.40" y="102.27" width="0.85" height="0.85" fill="#ff5050"/>
<rect x="278.74" y="112.97" width="0.85" height="0.85" fill="#ff5050"/>
<rect x="299.45" y="86.76" width="0.85" height="0.85" fill="#ff5050"/>
<rect x="285.09" y="106.89" width="0.85" height="0.85" fill="#ff5050"/>
<rect x="313.77" y="77.33" width="0.85" height="0.85" fill="#ff5050"/>
<rect x="304.38" y="88.11" width="0.85" height="0.85" fill="#ff5050"/>
<rect x="291.74" y="98.70" width="0.85" height="0.85" fill="#ff5050"/>
<rect x="305.26" y="83.76" width="0.85" height="0.85" fill="#ff5050"/>
<rect x="298.10" y="93.01" width="0.85" height="0.85" fill="#ff5050"/>
<rect x="303.78" y="89.05" width="0.85" height="0.85" fill="#ff5050"/>
<rect x="296.46" y="93.69" width="0.85" height="0.85" fill="#ff5050"/>
<rect x="289.04" y="93.16" width="0.85" height="0.85" fill="#ff5050"/>
<rect x="275.01" y="114.89" width="0.85" height="0.85" fill="#ff5050"/>
<rect x="269.77" y="113.68" width="0.85" height="0.85" fill="#ff5050"/>
<rect x="264.93" y="126.64" width="0.85" height="0.85" fill="#ff5050"/>
<rect x="296.42" y="95.60" width="0.85" height="0.85" fill="#ff5050"/>
<rect x="297.06" y="85.29" width="0.85" height="0.85" fill="#ff5050"/>
<rect x="291.49" y="94.66" width="0.85" height="0.85" fill="#ff5050"/>
<rect x="264.34" y="124.41" width="0.85" height="0.85" fill="#ff5050"/>
<rect x="285.30" y="106.61" width="0.85" height="0.85" fill="#ff5050"/>
<rect x="292.22" y="96.62" width="0.85" height="0.85" fill="#ff5050"/>
<rect x="266.08" y="124.49" width="0.85" height="0.85" fill="#ff5050"/>
<rect x="288.18" y="97.33" width="0.85" height="0.85" fill="#ff5050"/>
<rect x="267.21" y="124.41" width="0.85" height="0.85" fill="#ff5050"/>
<rect x="293.79" y="91.19" width="0.85" height="0.85" fill="#ff5050"/>
<rect x="288.33" y="103.04" width="0.85" height="0.85" fill="#ff5050"/>
<rect x="295.49" y="95.55" width="0.85" height="0.85" fill="#ff5050"/>
<rect x="298.97" y="90.89" width="0.85" height="0.85" fill="#ff5050"/>
<rect x="280.03" y="111.08" width="0.85" height="0.85" fill="#ff5050"/>
<rect x="273.84" y="117.93" width="0.85" height="0.85" fill="#ff5050"/>
<rect x="266.28" y="123.26" width="0.85" height="0.85" fill="#ff5050"/>
<rect x="313.61" y="78.28" width="0.85" height="0.85" fill="#ff5050"/>
<rect x="304.02" y="88.94" width="0.85" height="0.85" fill="#ff5050"/>
<rect x="267.48" y="118.83" width="0.85" height="0.85" fill="#ff5050"/>
<rect x="273.18" y="118.62" width="0.85" height="0.85" fill="#ff5050"/>
<rect x="322.08" y="64.11" width="0.85" height="0.85" fill="#ff5050"/>
<rect x="288.36" y="101.13" width="0.85" height="0.85" fill="#ff5050"/>
<rect x="273.43" y="100.55" width="0.85" height="0.85" fill="#ff5050"/>
<rect x="275.80" y="107.03" width="0.85" height="0.85" fill="#ff5050"/>
<rect x="298.29" y="91.85" width="0.85" height="0.85" fill="#ff5050"/>
<rect x="302.81" y="86.41" width="0.85" height="0.85" fill="#ff5050"/>
<rect x="288.09" y="102.44" width="0.85" height="0.85" fill="#ff5050"/>
<rect x="279.18" y="113.03" width="0.85" height="0.85" fill="#ff5050"/>
<rect x="270.87" y="120.87" width="0.85" height="0.85" fill="#ff5050"/>
<rect x="341.28" y="40.48" width="0.85" height="0.85" fill="#ff5050"/>
<rect x="293.85" y="97.74" width="0.85" height="0.85" fill="#ff5050"/>
<rect x="294.92" y="85.62" width="0.85" height="0.85" fill="#ff5050"/>
<rect x="295.48" y="96.40" width="0.85" height="0.85" fill="#ff5050"/>
<rect x="283.19" y="108.00" width="0.85" height="0.85" fill="#ff5050"/>
<rect x="293.77" y="94.39" width="0.85" height="0.85" fill="#ff5050"/>
<rect x="261.55" y="126.27" width="0.85" height="0.85" fill="#ff5050"/>
<rect x="269.64" y="120.69" width="0.85" height="0.85" fill="#ff5050"/>
<rect x="309.93" y="82.13" width="0.85" height="0.85" fill="#ff5050"/>
<rect x="271.25" y="115.39" width="0.85" height="0.85" fill="#ff5050"/>
<rect x="273.72" y="118.33" width="0.85" height="0.85" fill="#ff5050"/>
<rect x="286.83" y="104.23" width="0.85" height="0.85" fill="#ff5050"/>
<rect x="331.16" y="62.39" width="0.85" height="0.85" fill="#ff5050"/>
<rect x="272.40" y="119.43" width="0.85" height="0.85" fill="#ff5050"/>
<rect x="287.88" y="102.82" width="0.85" height="0.85" fill="#ff5050"/>
<rect x="284.01" y="104.61" width="0.85" height="0.85" fill="#ff5050"/>
<rect x="279.01" y="110.35" width="0.85" height="0.85" fill="#ff5050"/>
<rect x="264.63" y="106.75" width="0.85" height="0.85" fill="#ff5050"/>
<rect x="347.85" y="47.34" width="0.85" height="0.85" fill="#ff5050"/>
<rect x="272.87" y="117.31" width="0.85" height="0.85" fill="#ff5050"/>
<rect x="280.49" y="105.84" width="0.85" height="0.85" fill="#ff5050"/>
<rect x="272.27" y="116.57" width="0.85" height="0.85" fill="#ff5050"/>
<rect x="281.39" y="108.62" width="0.85" height="0.85" fill="#ff5050"/>
<rect x="303.45" y="84.12" width="0.85" height="0.85" fill="#ff5050"/>
<rect x="299.36" y="89.18" width="0.85" height="0.85" fill="#ff5050"/>
<rect x="280.50" y="108.44" width="0.85" height="0.85" fill="#ff5050"/>
<rect x="315.85" y="73.92" width="0.85" height="0.85" fill="#ff5050"/>
<rect x="267.06" y="120.33" width="0.85" height="0.85" fill="#ff5050"/>
<rect x="330.86" y="61.91" width="0.85" height="0.85" fill="#ff5050"/>
<rect x="306.11" y="85.10" width="0.85" height="0.85" fill="#ff5050"/>
<rect x="295.96" y="87.83" width="0.85" height="0.85" fill="#ff5050"/>
<rect x="264.64" y="125.17" width="0.85" height="0.85" fill="#ff5050"/>
<rect x="292.34" y="98.60" width="0.85" height="0.85" fill="#ff5050"/>
<rect x="296.73" y="81.67" width="0.85" height="0.85" fill="#ff5050"/>
<rect x="294.41" y="93.37" width="0.85" height="0.85" fill="#ff5050"/>
<rect x="262.85" y="119.80" width="0.85" height="0.85" fill="#ff5050"/>
<rect x="318.03" y="74.73" width="0.85" height="0.85" fill="#ff5050"/>
<rect x="300.20" y="88.39" width="0.85" height="0.85" fill="#ff5050"/>
<rect x="314.51" y="77.97" width="0.85" height="0.85" fill="#ff5050"/>
<rect x="280.26" y="111.38" width="0.85" height="0.85" fill="#ff5050"/>
<rect x="265.29" y="117.58" width="0.85" height="0.85" fill="#ff5050"/>
<rect x="301.16" y="87.51" width="0.85" height="0.85" fill="#ff5050"/>
<rect x="267.32" y="122.53" width="0.85" height="0.85" fill="#ff5050"/>
<rect x="291.00" y="101.02" width="0.85" height="0.85" fill="#ff5050"/>
<rect x="306.32" y="82.53" width="0.85" height="0.85" fill="#ff5050"/>
<rect x="325.45" y="53.69" width="0.85" height="0.85" fill="#ff5050"/>
<rect x="300.59" y="90.70" width="0.85" height="0.85" fill="#ff5050"/>
<rect x="299.12" y="92.66" width="0.85" height="0.85" fill="#ff5050"/>
<rect x="266.17" y="123.84" width="0.85" height="0.85" fill="#ff5050"/>
<rect x="300.29" y="91.98" width="0.85" height="0.85" fill="#ff5050"/>
<rect x="313.19" y="74.21" width="0.85" height="0.85" fill="#ff5050"/>
<rect x="299.79" y="92.76" width="0.85" height="0.85" fill="#ff5050"/>
<rect x="311.90" y="75.34" width="0.85" height="0.85" fill="#ff5050"/>
<rect x="275.05" y="115.00" width="0.85" height="0.85" fill="#ff5050"/>
<rect x="262.92" y="127.61" width="0.85" height="0.85" fill="#ff5050"/>
<rect x="325.59" y="64.73" width="0.85" height="0.85" fill="#ff5050"/>
<rect x="269.29" y="105.08" width="0.85" height="0.85" fill="#ff5050"/>
<rect x="278.84" y="111.59" width="0.85" height="0.85" fill="#ff5050"/>
<rect x="297.91" y="92.15" width="0.85" height="0.85" fill="#ff5050"/>
<rect x="266.06" y="121.82" width="0.85" height="0.85" fill="#ff5050"/>
<rect x="264.85" y="121.91" width="0.85" height="0.85" fill="#ff5050"/>
<rect x="286.69" y="104.68" width="0.85" height="0.85" fill="#ff5050"/>
<rect x="284.54" y="100.79" width="0.85" height="0.85" fill="#ff5050"/>
<rect x="295.36" y="95.64" width="0.85" height="0.85" fill="#ff5050"/>
<rect x="278.08" y="112.11" width="0.85" height="0.85" fill="#ff5050"/>
<rect x="291.99" y="96.06" width="0.85" height="0.85" fill="#ff5050"/>
<rect x="279.13" y="111.99" width="0.85" height="0.85" fill="#ff5050"/>
<rect x="283.97" y="105.36" width="0.85" height="0.85" fill="#ff5050"/>
<rect x="292.27" y="92.75" width="0.85" height="0.85" fill="#ff5050"/>
<rect x="260.02" y="129.11" width="0.85" height="0.85" fill="#ff5050"/>
<rect x="271.71" y="119.83" width="0.85" height="0.85" fill="#ff5050"/>
<rect x="288.43" y="103.91" width="0.85" height="0.85" fill="#ff5050"/>
<rect x="321.00" y="72.16" width="0.85" height="0.85" fill="#ff5050"/>
<rect x="260.46" y="127.06" width="0.85" height="0.85" fill="#ff5050"/>
<rect x="274.22" y="116.88" width="0.85" height="0.85" fill="#ff5050"/>
<rect x="280.44" y="109.17" width="0.85" height="0.85" fill="#ff5050"/>
<rect x="319.90" y="72.02" width="0.85" height="0.85" fill="#ff5050"/>
<rect x="281.57" y="101.69" width="0.85" height="0.85" fill="#ff5050"/>
<rect x="293.11" y="99.46" width="0.85" height="0.85" fill="#ff5050"/>
<rect x="264.64" y="125.69" width="0.85" height="0.85" fill="#ff5050"/>
<rect x="300.24" y="85.25" width="0.85" height="0.85" fill="#ff5050"/>
<rect x="304.58" y="80.85" width="0.85" height="0.85" fill="#ff5050"/>
<rect x="306.77" y="85.95" width="0.85" height="0.85" fill="#ff5050"/>
<rect x="290.69" y="101.40" width="0.85" height="0.85" fill="#ff5050"/>
<rect x="278.79" y="102.88" width="0.85" height="0.85" fill="#ff5050"/>
<rect x="296.87" y="93.07" width="0.85" height="0.85" fill="#ff5050"/>
<rect x="286.86" y="102.38" width="0.85" height="0.85" fill="#ff5050"/>
<rect x="284.66" y="102.84" width="0.85" height="0.85" fill="#ff5050"/>
<rect x="284.29" y="102.96" width="0.85" height="0.85" fill="#ff5050"/>
<rect x="279.98" y="110.28" width="0.85" height="0.85" fill="#ff5050"/>
<rect x="278.36" y="113.08" width="0.85" height="0.85" fill="#ff5050"/>
<rect x="308.71" y="72.24" width="0.85" height="0.85" fill="#ff5050"/>
<rect x="322.60" y="69.96" width="0.85" height="0.85" fill="#ff5050"/>
<rect x="305.32" y="85.92" width="0.85" height="0.85" fill="#ff5050"/>
<rect x="266.11" y="123.71" width="0.85" height="0.85" fill="#ff5050"/>
<rect x="299.00" y="93.19" width="0.85" height="0.85" fill="#ff5050"/>
<rect x="281.19" y="104.52" width="0.85" height="0.85" fill="#ff5050"/>
<rect x="304.59" y="87.45" width="0.85" height="0.85" fill="#ff5050"/>
<rect x="305.98" y="85.57" width="0.85" height="0.85" fill="#ff5050"/>
<rect x="305.08" y="87.77" width="0.85" height="0.85" fill="#ff5050"/>
<rect x="262.72" y="127.97" width="0.85" height="0.85" fill="#ff5050"/>
<rect x="311.45" y="78.06" width="0.85" height="0.85" fill="#ff5050"/>
<rect x="305.84" y="81.55" width="0.85" height="0.85" fill="#ff5050"/>
<rect x="272.72" y="115.94" width="0.85" height="0.85" fill="#ff5050"/>
<rect x="269.61" y="116.74" width="0.85" height="0.85" fill="#ff5050"/>
<rect x="264.59" y="122.84" width="0.85" height="0.85" fill="#ff5050"/>
<rect x="265.96" y="124.26" width="0.85" height="0.85" fill="#ff5050"/>
<rect x="295.83" y="87.56" width="0.85" height="0.85" fill="#ff5050"/>
<rect x="293.08" y="99.02" width="0.85" height="0.85" fill="#ff5050"/>
<rect x="260.73" y="119.90" width="0.85" height="0.85" fill="#ff5050"/>
<rect x="284.14" y="107.38" width="0.85" height="0.85" fill="#ff5050"/>
<rect x="265.90" y="125.06" width="0.85" height="0.85" fill="#ff5050"/>
<rect x="291.94" y="98.15" width="0.85" height="0.85" fill="#ff5050"/>
<rect x="267.19" y="124.80" width="0.85" height="0.85" fill="#ff5050"/>
<rect x="295.27" y="96.40" width="0.85" height="0.85" fill="#ff5050"/>
<rect x="261.79" y="109.12" width="0.85" height="0.85" fill="#ff5050"/>
<rect x="290.74" y="100.75" width="0.85" height="0.85" fill="#ff5050"/>
<rect x="265.20" y="123.05" width="0.85" height="0.85" fill="#ff5050"/>
<rect x="295.27" y="96.70" width="0.85" height="0.85" fill="#ff5050"/>
<rect x="326.46" y="64.33" width="0.85" height="0.85" fill="#ff5050"/>
<rect x="306.38" y="84.51" width="0.85" height="0.85" fill="#ff5050"/>
<rect x="286.55" y="104.71" width="0.85" height="0.85" fill="#ff5050"/>
<rect x="292.90" y="95.02" width="0.85" height="0.85" fill="#ff5050"/>
<rect x="268.58" y="118.86" width="0.85" height="0.85" fill="#ff5050"/>
<rect x="339.15" y="54.17" width="0.85" height="0.85" fill="#ff5050"/>
<rect x="288.46" y="100.90" width="0.85" height="0.85" fill="#ff5050"/>
<rect x="296.12" y="96.46" width="0.85" height="0.85" fill="#ff5050"/>
<rect x="263.25" y="126.57" width="0.85" height="0.85" fill="#ff5050"/>
<rect x="275.70" y="115.62" width="0.85" height="0.85" fill="#ff5050"/>
<rect x="278.78" y="109.72" width="0.85" height="0.85" fill="#ff5050"/>
<rect x="277.81" y="113.67" width="0.85" height="0.85" fill="#ff5050"/>
<rect x="273.65" y="117.00" width="0.85" height="0.85" fill="#ff5050"/>
<rect x="283.97" y="108.24" width="0.85" height="0.85" fill="#ff5050"/>
<rect x="286.85" y="101.08" width="0.85" height="0.85" fill="#ff5050"/>
<rect x="260.45" y="128.20" width="0.85" height="0.85" fill="#ff5050"/>
<rect x="287.59" y="104.35" width="0.85" height="0.85" fill="#ff5050"/>
<rect x="263.65" y="127.63" width="0.85" height="0.85" fill="#ff5050"/>
<rect x="289.76" y="102.59" width="0.85" height="0.85" fill="#ff5050"/>
<rect x="307.95" y="82.36" width="0.85" height="0.85" fill="#ff5050"/>
<rect x="301.52" y="90.88" width="0.85" height="0.85" fill="#ff5050"/>
<rect x="278.82" y="102.77" width="0.85" height="0.85" fill="#ff5050"/>
<rect x="271.24" y="120.58" width="0.85" height="0.85" fill="#ff5050"/>
<rect x="290.43" y="101.77" width="0.85" height="0.85" fill="#ff5050"/>
<rect x="312.94" y="75.25" width="0.85" height="0.85" fill="#ff5050"/>
<rect x="302.85" y="77.46" width="0.85" height="0.85" fill="#ff5050"/>
<rect x="295.65" y="86.13" width="0.85" height="0.85" fill="#ff5050"/>
<rect x="260.71" y="130.98" width="0.85" height="0.85" fill="#ff5050"/>
<rect x="298.74" y="90.22" width="0.85" height="0.85" fill="#ff5050"/>
<rect x="268.83" y="119.23" width="0.85" height="0.85" fill="#ff5050"/>
<rect x="273.00" y="115.60" width="0.85" height="0.85" fill="#ff5050"/>
<rect x="280.89" y="108.39" width="0.85" height="0.85" fill="#ff5050"/>
<rect x="284.93" y="102.89" width="0.85" height="0.85" fill="#ff5050"/>
<rect x="305.31" y="82.76" width="0.85" height="0.85" fill="#ff5050"/>
<rect x="320.74" y="66.56" width="0.85" height="0.85" fill="#ff5050"/>
<rect x="289.66" y="101.29" width="0.85" height="0.85" fill="#ff5050"/>
<rect x="266.08" y="119.35" width="0.85" height="0.85" fill="#ff5050"/>
<rect x="303.39" y="88.59" width="0.85" height="0.85" fill="#ff5050"/>
<rect x="264.28" y="122.05" width="0.85" height="0.85" fill="#ff5050"/>
<rect x="291.63" y="85.54" width="0.85" height="0.85" fill="#ff5050"/>
<rect x="277.66" y="114.59" width="0.85" height="0.85" fill="#ff5050"/>
<rect x="291.88" y="97.15" width="0.85" height="0.85" fill="#ff5050"/>
<rect x="276.52" y="114.56" width="0.85" height="0.85" fill="#ff5050"/>
<rect x="297.37" y="94.44" width="0.85" height="0.85" fill="#ff5050"/>
<rect x="282.07" y="108.85" width="0.85" height="0.85" fill="#ff5050"/>
<rect x="298.64" y="93.58" width="0.85" height="0.85" fill="#ff5050"/>
<rect x="306.67" y="84.21" width="0.85" height="0.85" fill="#ff5050"/>
<rect x="282.95" y="105.72" width="0.85" height="0.85" fill="#ff5050"/>
<rect x="295.98" y="92.37" width="0.85" height="0.85" fill="#ff5050"/>
<rect x="291.44" y="99.57" width="0.85" height="0.85" fill="#ff5050"/>
<rect x="270.07" y="114.92" width="0.85" height="0.85" fill="#ff5050"/>
<rect x="299.95" y="89.93" width="0.85" height="0.85" fill="#ff5050"/>
<rect x="281.89" y="109.01" width="0.85" height="0.85" fill="#ff5050"/>
<rect x="275.82" y="115.36" width="0.85" height="0.85" fill="#ff5050"/>
<rect x="306.96" y="82.19" width="0.85" height="0.85" fill="#ff5050"/>
<rect x="276.05" y="111.41" width="0.85" height="0.85" fill="#ff5050"/>
<rect x="272.76" y="112.85" width="0.85" height="0.85" fill="#ff5050"/>
<rect x="291.60" y="97.44" width="0.85" height="0.85" fill="#ff5050"/>
<rect x="293.09" y="99.42" width="0.85" height="0.85" fill="#ff5050"/>
<rect x="260.37" y="130.89" width="0.85" height="0.85" fill="#ff5050"/>
<rect x="265.67" y="122.94" width="0.85" height="0.85" fill="#ff5050"/>
<rect x="264.80" y="126.71" width="0.85" height="0.85" fill="#ff5050"/>
<rect x="298.51" y="91.03" width="0.85" height="0.85" fill="#ff5050"/>
<rect x="282.75" y="104.34" width="0.85" height="0.85" fill="#ff5050"/>
<rect x="263.22" y="127.31" width="0.85" height="0.85" fill="#ff5050"/>
<rect x="310.01" y="80.42" width="0.85" height="0.85" fill="#ff5050"/>
<rect x="281.80" y="99.26" width="0.85" height="0.85" fill="#ff5050"/>
<rect x="316.66" y="74.22" width="0.85" height="0.85" fill="#ff5050"/>
<rect x="301.11" y="91.10" width="0.85" height="0.85" fill="#ff5050"/>
<rect x="283.08" y="108.18" width="0.85" height="0.85" fill="#ff5050"/>
<rect x="283.79" y="108.06" width="0.85" height="0.85" fill="#ff5050"/>
<rect x="265.74" y="122.15" width="0.85" height="0.85" fill="#ff5050"/>
<rect x="291.02" y="99.55" width="0.85" height="0.85" fill="#ff5050"/>
<rect x="263.19" y="124.00" width="0.85" height="0.85" fill="#ff5050"/>
<rect x="271.01" y="118.03" width="0.85" height="0.85" fill="#ff5050"/>
<rect x="275.00" y="115.79" width="0.85" height="0.85" fill="#ff5050"/>
<rect x="282.97" y="104.48" width="0.85" height="0.85" fill="#ff5050"/>
<rect x="275.49" y="114.96" width="0.85" height="0.85" fill="#ff5050"/>
<rect x="300.50" y="81.62" width="0.85" height="0.85" fill="#ff5050"/>
<rect x="313.47" y="74.40" width="0.85" height="0.85" fill="#ff5050"/>
<rect x="266.55" y="120.99" width="0.85" height="0.85" fill="#ff5050"/>
<rect x="283.38" y="105.74" width="0.85" height="0.85" fill="#ff5050"/>
<rect x="272.59" y="119.17" width="0.85" height="0.85" fill="#ff5050"/>
<rect x="313.07" y="79.74" width="0.85" height="0.85" fill="#ff5050"/>
<rect x="312.58" y="71.86" width="0.85" height="0.85" fill="#ff5050"/>
<rect x="286.93" y="101.18" width="0.85" height="0.85" fill="#ff5050"/>
<rect x="277.31" y="114.89" width="0.85" height="0.85" fill="#ff5050"/>
<rect x="288.52" y="103.05" width="0.85" height="0.85" fill="#ff5050"/>
<rect x="259.17" y="121.39" width="0.85" height="0.85" fill="#ff5050"/>
<rect x="262.05" y="124.33" width="0.85" height="0.85" fill="#ff5050"/>
<rect x="283.15" y="102.21" width="0.85" height="0.85" fill="#ff5050"/>
<rect x="278.39" y="113.21" width="0.85" height="0.85" fill="#ff5050"/>
<rect x="282.06" y="108.89" width="0.85" height="0.85" fill="#ff5050"/>
<rect x="264.27" y="110.42" width="0.85" height="0.85" fill="#ff5050"/>
<rect x="258.74" y="129.54" width="0.85" height="0.85" fill="#ff5050"/>
<rect x="269.28" y="122.14" width="0.85" height="0.85" fill="#ff5050"/>
<rect x="308.04" y="84.87" width="0.85" height="0.85" fill="#ff5050"/>
<rect x="314.66" y="76.96" width="0.85" height="0.85" fill="#ff5050"/>
<rect x="309.20" y="78.39" width="0.85" height="0.85" fill="#ff5050"/>
<rect x="296.07" y="83.48" width="0.85" height="0.85" fill="#ff5050"/>
<rect x="304.02" y="87.84" width="0.85" height="0.85" fill="#ff5050"/>
<rect x="353.73" y="42.03" width="0.85" height="0.85" fill="#ff5050"/>
<rect x="306.75" y="81.09" width="0.85" height="0.85" fill="#ff5050"/>
<rect x="340.62" y="41.32" width="0.85" height="0.85" fill="#ff5050"/>
<rect x="280.66" y="109.19" width="0.85" height="0.85" fill="#ff5050"/>
<rect x="290.32" y="101.51" width="0.85" height="0.85" fill="#ff5050"/>
<rect x="267.95" y="116.74" width="0.85" height="0.85" fill="#ff5050"/>
<rect x="290.11" y="101.99" width="0.85" height="0.85" fill="#ff5050"/>
<rect x="292.10" y="85.18" width="0.85" height="0.85" fill="#ff5050"/>
<rect x="271.88" y="118.26" width="0.85" height="0.85" fill="#ff5050"/>
<rect x="303.91" y="87.84" width="0.85" height="0.85" fill="#ff5050"/>
<rect x="268.58" y="118.58" width="0.85" height="0.85" fill="#ff5050"/>
<rect x="245.76" y="113.85" width="0.85" height="0.85" fill="#ff5050"/>
<rect x="277.39" y="106.76" width="0.85" height="0.85" fill="#ff5050"/>
<rect x="288.99" y="101.17" width="0.85" height="0.85" fill="#ff5050"/>
<rect x="281.86" y="103.39" width="0.85" height="0.85" fill="#ff5050"/>
<rect x="296.90" y="95.88" width="0.85" height="0.85" fill="#ff5050"/>
<rect x="303.13" y="88.40" width="0.85" height="0.85" fill="#ff5050"/>
<rect x="293.13" y="99.37" width="0.85" height="0.85" fill="#ff5050"/>
<rect x="294.74" y="93.90" width="0.85" height="0.85" fill="#ff5050"/>
<rect x="260.87" y="129.87" width="0.85" height="0.85" fill="#ff5050"/>
<rect x="275.90" y="113.03" width="0.85" height="0.85" fill="#ff5050"/>
<rect x="285.17" y="103.35" width="0.85" height="0.85" fill="#ff5050"/>
<rect x="274.61" y="114.98" width="0.85" height="0.85" fill="#ff5050"/>
<rect x="276.48" y="114.88" width="0.85" height="0.85" fill="#ff5050"/>
<rect x="321.63" y="68.44" width="0.85" height="0.85" fill="#ff5050"/>
<rect x="293.77" y="97.19" width="0.85" height="0.85" fill="#ff5050"/>
<rect x="283.18" y="108.35" width="0.85" height="0.85" fill="#ff5050"/>
<rect x="288.46" y="103.89" width="0.85" height="0.85" fill="#ff5050"/>
<rect x="271.39" y="120.41" width="0.85" height="0.85" fill="#ff5050"/>
<rect x="288.02" y="104.43" width="0.85" height="0.85" fill="#ff5050"/>
<rect x="300.95" y="86.30" width="0.85" height="0.85" fill="#ff5050"/>
<rect x="265.99" y="120.30" width="0.85" height="0.85" fill="#ff5050"/>
<rect x="288.34" y="102.60" width="0.85" height="0.85" fill="#ff5050"/>
<rect x="268.12" y="119.68" width="0.85" height="0.85" fill="#ff5050"/>
<rect x="313.73" y="77.21" width="0.85" height="0.85" fill="#ff5050"/>
<rect x="301.50" y="86.83" width="0.85" height="0.85" fill="#ff5050"/>
<rect x="279.42" y="107.92" width="0.85" height="0.85" fill="#ff5050"/>
<rect x="260.52" y="126.03" width="0.85" height="0.85" fill="#ff5050"/>
<rect x="287.38" y="102.99" width="0.85" height="0.85" fill="#ff5050"/>
<rect x="273.00" y="109.81" width="0.85" height="0.85" fill="#ff5050"/>
<rect x="287.33" y="104.65" width="0.85" height="0.85" fill="#ff5050"/>
<rect x="286.28" y="105.96" width="0.85" height="0.85" fill="#ff5050"/>
<rect x="280.40" y="106.14" width="0.85" height="0.85" fill="#ff5050"/>
<rect x="261.12" y="129.47" width="0.85" height="0.85" fill="#ff5050"/>
<rect x="287.01" y="104.47" width="0.85" height="0.85" fill="#ff5050"/>
<rect x="301.15" y="90.78" width="0.85" height="0.85" fill="#ff5050"/>
<rect x="278.83" y="111.58" width="0.85" height="0.85" fill="#ff5050"/>
<rect x="290.04" y="99.99" width="0.85" height="0.85" fill="#ff5050"/>
<rect x="273.46" y="112.02" width="0.85" height="0.85" fill="#ff5050"/>
<rect x="277.34" y="113.17" width="0.85" height="0.85" fill="#ff5050"/>
<rect x="287.89" y="103.44" width="0.85" height="0.85" fill="#ff5050"/>
<rect x="266.49" y="125.55" width="0.85" height="0.85" fill="#ff5050"/>
<rect x="287.97" y="90.35" width="0.85" height="0.85" fill="#ff5050"/>
<rect x="305.10" y="76.42" width="0.85" height="0.85" fill="#ff5050"/>
<rect x="271.22" y="114.80" width="0.85" height="0.85" fill="#ff5050"/>
<rect x="269.24" y="122.48" width="0.85" height="0.85" fill="#ff5050"/>
<rect x="287.60" y="102.62" width="0.85" height="0.85" fill="#ff5050"/>
<rect x="268.46" y="122.32" width="0.85" height="0.85" fill="#ff5050"/>
<rect x="257.09" y="126.14" width="0.85" height="0.85" fill="#ff5050"/>
<rect x="287.54" y="103.43" width="0.85" height="0.85" fill="#ff5050"/>
<rect x="275.34" y="116.31" width="0.85" height="0.85" fill="#ff5050"/>
<rect x="264.01" y="126.86" width="0.85" height="0.85" fill="#ff5050"/>
<rect x="266.63" y="119.45" width="0.85" height="0.85" fill="#ff5050"/>
<rect x="302.95" y="89.60" width="0.85" height="0.85" fill="#ff5050"/>
<rect x="317.72" y="74.37" width="0.85" height="0.85" fill="#ff5050"/>
<rect x="288.95" y="113.55" width="0.9" height="0.9" fill="#2c9c2c"/>
<rect x="267.13" y="134.90" width="0.9" height="0.9" fill="#2c9c2c"/>
<rect x="274.75" y="129.41" width="0.9" height="0.9" fill="#2c9c2c"/>
<rect x="266.84" y="137.24" width="0.9" height="0.9" fill="#2c9c2c"/>
<rect x="279.13" y="123.28" width="0.9" height="0.9" fill="#2c9c2c"/>
<rect x="305.98" y="97.48" width="0.9" height="0.9" fill="#2c9c2c"/>
<rect x="322.76" y="80.09" width="0.9" height="0.9" fill="#2c9c2c"/>
<rect x="285.89" y="118.55" width="0.9" height="0.9" fill="#2c9c2c"/>
<rect x="297.12" y="105.85" width="0.9" height="0.9" fill="#2c9c2c"/>
<rect x="326.31" y="80.56" width="0.9" height="0.9" fill="#2c9c2c"/>
<rect x="271.69" y="130.83" width="0.9" height="0.9" fill="#2c9c2c"/>
<rect x="277.70" y="126.62" width="0.9" height="0.9" fill="#2c9c2c"/>
<rect x="293.77" y="110.05" width="0.9" height="0.9" fill="#2c9c2c"/>
<rect x="281.74" y="120.18" width="0.9" height="0.9" fill="#2c9c2c"/>
<rect x="297.57" y="107.36" width="0.9" height="0.9" fill="#2c9c2c"/>
<rect x="269.07" y="133.06" width="0.9" height="0.9" fill="#2c9c2c"/>
<rect x="289.96" y="112.58" width="0.9" height="0.9" fill="#2c9c2c"/>
<rect x="285.90" y="119.78" width="0.9" height="0.9" fill="#2c9c2c"/>
<rect x="304.04" y="100.27" width="0.9" height="0.9" fill="#2c9c2c"/>
<rect x="275.89" y="126.01" width="0.9" height="0.9" fill="#2c9c2c"/>
<rect x="321.40" y="82.80" width="0.9" height="0.9" fill="#2c9c2c"/>
<rect x="273.73" y="128.39" width="0.9" height="0.9" fill="#2c9c2c"/>
<rect x="304.97" y="100.54" width="0.9" height="0.9" fill="#2c9c2c"/>
<rect x="316.66" y="99.51" width="0.9" height="0.9" fill="#2c9c2c"/>
<rect x="304.65" y="109.66" width="0.9" height="0.9" fill="#2c9c2c"/>
<rect x="280.90" y="121.54" width="0.9" height="0.9" fill="#2c9c2c"/>
<rect x="273.87" y="128.89" width="0.9" height="0.9" fill="#2c9c2c"/>
<rect x="279.03" y="129.97" width="0.9" height="0.9" fill="#2c9c2c"/>
<rect x="271.30" y="130.44" width="0.9" height="0.9" fill="#2c9c2c"/>
<rect x="278.66" y="124.63" width="0.9" height="0.9" fill="#2c9c2c"/>
<rect x="286.36" y="116.34" width="0.9" height="0.9" fill="#2c9c2c"/>
<rect x="280.13" y="122.12" width="0.9" height="0.9" fill="#2c9c2c"/>
<rect x="302.21" y="111.75" width="0.9" height="0.9" fill="#2c9c2c"/>
<rect x="290.20" y="115.43" width="0.9" height="0.9" fill="#2c9c2c"/>
<rect x="306.51" y="97.17" width="0.9" height="0.9" fill="#2c9c2c"/>
<rect x="286.02" y="116.22" width="0.9" height="0.9" fill="#2c9c2c"/>
<rect x="268.81" y="137.68" width="0.9" height="0.9" fill="#2c9c2c"/>
<rect x="297.50" y="105.52" width="0.9" height="0.9" fill="#2c9c2c"/>
<rect x="313.26" y="94.54" width="0.9" height="0.9" fill="#2c9c2c"/>
<rect x="299.69" y="112.85" width="0.9" height="0.9" fill="#2c9c2c"/>
<rect x="271.43" y="131.35" width="0.9" height="0.9" fill="#2c9c2c"/>
<rect x="308.15" y="98.71" width="0.9" height="0.9" fill="#2c9c2c"/>
<rect x="290.88" y="111.24" width="0.9" height="0.9" fill="#2c9c2c"/>
<rect x="304.67" y="98.12" width="0.9" height="0.9" fill="#2c9c2c"/>
<rect x="273.72" y="128.24" width="0.9" height="0.9" fill="#2c9c2c"/>
<rect x="303.92" y="101.48" width="0.9" height="0.9" fill="#2c9c2c"/>
<rect x="302.63" y="99.79" width="0.9" height="0.9" fill="#2c9c2c"/>
<rect x="311.65" y="96.72" width="0.9" height="0.9" fill="#2c9c2c"/>
<rect x="281.02" y="122.63" width="0.9" height="0.9" fill="#2c9c2c"/>
<rect x="318.64" y="87.76" width="0.9" height="0.9" fill="#2c9c2c"/>
<rect x="292.03" y="110.44" width="0.9" height="0.9" fill="#2c9c2c"/>
<rect x="320.20" y="88.33" width="0.9" height="0.9" fill="#2c9c2c"/>
<rect x="290.76" y="114.07" width="0.9" height="0.9" fill="#2c9c2c"/>
<rect x="288.72" y="115.58" width="0.9" height="0.9" fill="#2c9c2c"/>
<rect x="284.32" y="121.55" width="0.9" height="0.9" fill="#2c9c2c"/>
<rect x="292.54" y="114.50" width="0.9" height="0.9" fill="#2c9c2c"/>
<rect x="297.00" y="106.64" width="0.9" height="0.9" fill="#2c9c2c"/>
<rect x="321.86" y="81.70" width="0.9" height="0.9" fill="#2c9c2c"/>
<rect x="293.74" y="108.64" width="0.9" height="0.9" fill="#2c9c2c"/>
<rect x="290.87" y="114.11" width="0.9" height="0.9" fill="#2c9c2c"/>
<rect x="297.94" y="104.39" width="0.9" height="0.9" fill="#2c9c2c"/>
<rect x="276.64" y="127.43" width="0.9" height="0.9" fill="#2c9c2c"/>
<rect x="288.91" y="126.42" width="0.9" height="0.9" fill="#2c9c2c"/>
<rect x="305.70" y="97.03" width="0.9" height="0.9" fill="#2c9c2c"/>
<rect x="284.80" y="117.75" width="0.9" height="0.9" fill="#2c9c2c"/>
<rect x="284.71" y="117.50" width="0.9" height="0.9" fill="#2c9c2c"/>
<rect x="303.75" y="99.91" width="0.9" height="0.9" fill="#2c9c2c"/>
<rect x="321.94" y="81.04" width="0.9" height="0.9" fill="#2c9c2c"/>
<rect x="289.21" y="120.27" width="0.9" height="0.9" fill="#2c9c2c"/>
<rect x="314.06" y="89.35" width="0.9" height="0.9" fill="#2c9c2c"/>
<rect x="283.32" y="118.40" width="0.9" height="0.9" fill="#2c9c2c"/>
<rect x="308.98" y="95.92" width="0.9" height="0.9" fill="#2c9c2c"/>
<rect x="318.31" y="86.66" width="0.9" height="0.9" fill="#2c9c2c"/>
<rect x="284.24" y="120.98" width="0.9" height="0.9" fill="#2c9c2c"/>
<rect x="291.04" y="118.95" width="0.9" height="0.9" fill="#2c9c2c"/>
<rect x="268.96" y="133.93" width="0.9" height="0.9" fill="#2c9c2c"/>
<rect x="309.71" y="97.76" width="0.9" height="0.9" fill="#2c9c2c"/>
<rect x="311.95" y="91.12" width="0.9" height="0.9" fill="#2c9c2c"/>
<rect x="312.37" y="95.50" width="0.9" height="0.9" fill="#2c9c2c"/>
<rect x="306.34" y="98.54" width="0.9" height="0.9" fill="#2c9c2c"/>
<rect x="269.43" y="135.60" width="0.9" height="0.9" fill="#2c9c2c"/>
<rect x="283.01" y="119.38" width="0.9" height="0.9" fill="#2c9c2c"/>
<rect x="276.00" y="126.01" width="0.9" height="0.9" fill="#2c9c2c"/>
<rect x="313.03" y="92.52" width="0.9" height="0.9" fill="#2c9c2c"/>
<rect x="269.58" y="131.85" width="0.9" height="0.9" fill="#2c9c2c"/>
<rect x="279.56" y="124.16" width="0.9" height="0.9" fill="#2c9c2c"/>
<rect x="317.61" y="85.51" width="0.9" height="0.9" fill="#2c9c2c"/>
<rect x="288.15" y="116.66" width="0.9" height="0.9" fill="#2c9c2c"/>
<rect x="272.10" y="129.41" width="0.9" height="0.9" fill="#2c9c2c"/>
<rect x="310.56" y="101.67" width="0.9" height="0.9" fill="#2c9c2c"/>
<rect x="283.46" y="120.88" width="0.9" height="0.9" fill="#2c9c2c"/>
<rect x="266.33" y="136.58" width="0.9" height="0.9" fill="#2c9c2c"/>
<rect x="266.89" y="136.90" width="0.9" height="0.9" fill="#2c9c2c"/>
<rect x="314.34" y="96.01" width="0.9" height="0.9" fill="#2c9c2c"/>
<rect x="304.38" y="99.94" width="0.9" height="0.9" fill="#2c9c2c"/>
<rect x="284.42" y="118.03" width="0.9" height="0.9" fill="#2c9c2c"/>
<rect x="285.61" y="121.46" width="0.9" height="0.9" fill="#2c9c2c"/>
<rect x="298.95" y="104.43" width="0.9" height="0.9" fill="#2c9c2c"/>
<rect x="276.99" y="125.10" width="0.9" height="0.9" fill="#2c9c2c"/>
<rect x="322.11" y="80.88" width="0.9" height="0.9" fill="#2c9c2c"/>
<rect x="295.71" y="107.74" width="0.9" height="0.9" fill="#2c9c2c"/>
<rect x="275.52" y="126.17" width="0.9" height="0.9" fill="#2c9c2c"/>
<rect x="287.43" y="114.66" width="0.9" height="0.9" fill="#2c9c2c"/>
<rect x="287.57" y="114.64" width="0.9" height="0.9" fill="#2c9c2c"/>
<rect x="278.11" y="126.03" width="0.9" height="0.9" fill="#2c9c2c"/>
<rect x="284.89" y="118.02" width="0.9" height="0.9" fill="#2c9c2c"/>
<rect x="285.94" y="117.34" width="0.9" height="0.9" fill="#2c9c2c"/>
<rect x="298.86" y="106.43" width="0.9" height="0.9" fill="#2c9c2c"/>
<rect x="283.11" y="121.04" width="0.9" height="0.9" fill="#2c9c2c"/>
<rect x="268.79" y="133.31" width="0.9" height="0.9" fill="#2c9c2c"/>
<rect x="312.32" y="97.87" width="0.9" height="0.9" fill="#2c9c2c"/>
<rect x="294.40" y="107.59" width="0.9" height="0.9" fill="#2c9c2c"/>
<rect x="327.36" y="77.88" width="0.9" height="0.9" fill="#2c9c2c"/>
<rect x="350.87" y="52.41" width="0.9" height="0.9" fill="#2c9c2c"/>
<rect x="336.10" y="72.08" width="0.9" height="0.9" fill="#2c9c2c"/>
<rect x="268.55" y="136.79" width="0.9" height="0.9" fill="#2c9c2c"/>
<rect x="279.61" y="126.75" width="0.9" height="0.9" fill="#2c9c2c"/>
<rect x="278.46" y="123.49" width="0.9" height="0.9" fill="#2c9c2c"/>
<rect x="321.85" y="106.47" width="0.9" height="0.9" fill="#2c9c2c"/>
<rect x="295.88" y="106.49" width="0.9" height="0.9" fill="#2c9c2c"/>
<rect x="285.17" y="118.41" width="0.9" height="0.9" fill="#2c9c2c"/>
<rect x="267.09" y="134.83" width="0.9" height="0.9" fill="#2c9c2c"/>
<rect x="276.58" y="125.88" width="0.9" height="0.9" fill="#2c9c2c"/>
<rect x="287.22" y="115.48" width="0.9" height="0.9" fill="#2c9c2c"/>
<rect x="276.08" y="126.27" width="0.9" height="0.9" fill="#2c9c2c"/>
<rect x="294.85" y="108.01" width="0.9" height="0.9" fill="#2c9c2c"/>
<rect x="316.78" y="86.02" width="0.9" height="0.9" fill="#2c9c2c"/>
<rect x="284.63" y="118.69" width="0.9" height="0.9" fill="#2c9c2c"/>
<rect x="306.80" y="98.29" width="0.9" height="0.9" fill="#2c9c2c"/>
<rect x="327.13" y="76.89" width="0.9" height="0.9" fill="#2c9c2c"/>
<rect x="291.90" y="110.21" width="0.9" height="0.9" fill="#2c9c2c"/>
<rect x="305.61" y="97.20" width="0.9" height="0.9" fill="#2c9c2c"/>
<rect x="317.75" y="86.54" width="0.9" height="0.9" fill="#2c9c2c"/>
<rect x="277.24" y="124.80" width="0.9" height="0.9" fill="#2c9c2c"/>
<rect x="322.17" y="80.77" width="0.9" height="0.9" fill="#2c9c2c"/>
<rect x="270.55" y="131.12" width="0.9" height="0.9" fill="#2c9c2c"/>
<rect x="305.22" y="99.88" width="0.9" height="0.9" fill="#2c9c2c"/>
<rect x="308.30" y="96.79" width="0.9" height="0.9" fill="#2c9c2c"/>
<rect x="298.33" y="103.74" width="0.9" height="0.9" fill="#2c9c2c"/>
<rect x="277.13" y="126.69" width="0.9" height="0.9" fill="#2c9c2c"/>
<rect x="283.82" y="118.17" width="0.9" height="0.9" fill="#2c9c2c"/>
<rect x="310.87" y="91.59" width="0.9" height="0.9" fill="#2c9c2c"/>
<rect x="289.11" y="113.66" width="0.9" height="0.9" fill="#2c9c2c"/>
<rect x="310.28" y="92.64" width="0.9" height="0.9" fill="#2c9c2c"/>
<rect x="299.00" y="104.29" width="0.9" height="0.9" fill="#2c9c2c"/>
<rect x="295.49" y="107.56" width="0.9" height="0.9" fill="#2c9c2c"/>
<rect x="301.88" y="104.08" width="0.9" height="0.9" fill="#2c9c2c"/>
<rect x="291.03" y="111.68" width="0.9" height="0.9" fill="#2c9c2c"/>
<rect x="308.54" y="94.29" width="0.9" height="0.9" fill="#2c9c2c"/>
<rect x="294.41" y="110.08" width="0.9" height="0.9" fill="#2c9c2c"/>
<rect x="297.87" y="104.26" width="0.9" height="0.9" fill="#2c9c2c"/>
<rect x="307.07" y="98.19" width="0.9" height="0.9" fill="#2c9c2c"/>
<rect x="300.03" y="107.12" width="0.9" height="0.9" fill="#2c9c2c"/>
<rect x="322.03" y="88.78" width="0.9" height="0.9" fill="#2c9c2c"/>
<rect x="289.94" y="117.63" width="0.9" height="0.9" fill="#2c9c2c"/>
<rect x="316.97" y="86.59" width="0.9" height="0.9" fill="#2c9c2c"/>
<rect x="279.91" y="122.84" width="0.9" height="0.9" fill="#2c9c2c"/>
<rect x="267.41" y="133.93" width="0.9" height="0.9" fill="#2c9c2c"/>
<rect x="305.32" y="97.38" width="0.9" height="0.9" fill="#2c9c2c"/>
<rect x="267.81" y="134.30" width="0.9" height="0.9" fill="#2c9c2c"/>
<rect x="289.76" y="113.44" width="0.9" height="0.9" fill="#2c9c2c"/>
<rect x="304.93" y="99.61" width="0.9" height="0.9" fill="#2c9c2c"/>
<rect x="280.31" y="122.52" width="0.9" height="0.9" fill="#2c9c2c"/>
<rect x="281.14" y="124.86" width="0.9" height="0.9" fill="#2c9c2c"/>
<rect x="294.35" y="107.70" width="0.9" height="0.9" fill="#2c9c2c"/>
<rect x="302.31" y="109.56" width="0.9" height="0.9" fill="#2c9c2c"/>
<rect x="272.62" y="131.02" width="0.9" height="0.9" fill="#2c9c2c"/>
<rect x="301.90" y="111.34" width="0.9" height="0.9" fill="#2c9c2c"/>
<rect x="275.92" y="125.61" width="0.9" height="0.9" fill="#2c9c2c"/>
<rect x="276.87" y="125.95" width="0.9" height="0.9" fill="#2c9c2c"/>
<rect x="290.67" y="112.13" width="0.9" height="0.9" fill="#2c9c2c"/>
<rect x="300.35" y="104.08" width="0.9" height="0.9" fill="#2c9c2c"/>
<rect x="279.19" y="123.30" width="0.9" height="0.9" fill="#2c9c2c"/>
<rect x="305.15" y="98.29" width="0.9" height="0.9" fill="#2c9c2c"/>
<rect x="314.64" y="90.26" width="0.9" height="0.9" fill="#2c9c2c"/>
<rect x="320.51" y="85.58" width="0.9" height="0.9" fill="#2c9c2c"/>
<rect x="271.34" y="135.84" width="0.9" height="0.9" fill="#2c9c2c"/>
<rect x="323.05" y="81.93" width="0.9" height="0.9" fill="#2c9c2c"/>
<rect x="332.40" y="72.63" width="0.9" height="0.9" fill="#2c9c2c"/>
<rect x="282.09" y="121.35" width="0.9" height="0.9" fill="#2c9c2c"/>
<rect x="313.22" y="97.89" width="0.9" height="0.9" fill="#2c9c2c"/>
<rect x="347.64" y="73.30" width="0.9" height="0.9" fill="#2c9c2c"/>
<rect x="268.86" y="136.46" width="0.9" height="0.9" fill="#2c9c2c"/>
<rect x="268.18" y="133.33" width="0.9" height="0.9" fill="#2c9c2c"/>
<rect x="287.06" y="120.38" width="0.9" height="0.9" fill="#2c9c2c"/>
<rect x="277.06" y="126.62" width="0.9" height="0.9" fill="#2c9c2c"/>
<rect x="290.21" y="114.72" width="0.9" height="0.9" fill="#2c9c2c"/>
<rect x="293.13" y="111.12" width="0.9" height="0.9" fill="#2c9c2c"/>
<rect x="270.52" y="135.54" width="0.9" height="0.9" fill="#2c9c2c"/>
<rect x="309.46" y="95.82" width="0.9" height="0.9" fill="#2c9c2c"/>
<rect x="329.81" y="76.23" width="0.9" height="0.9" fill="#2c9c2c"/>
<rect x="290.70" y="114.93" width="0.9" height="0.9" fill="#2c9c2c"/>
<rect x="277.07" y="125.95" width="0.9" height="0.9" fill="#2c9c2c"/>
<rect x="311.02" y="92.63" width="0.9" height="0.9" fill="#2c9c2c"/>
<rect x="267.20" y="138.09" width="0.9" height="0.9" fill="#2c9c2c"/>
<rect x="277.28" y="124.64" width="0.9" height="0.9" fill="#2c9c2c"/>
<rect x="291.80" y="110.47" width="0.9" height="0.9" fill="#2c9c2c"/>
<rect x="287.74" y="115.52" width="0.9" height="0.9" fill="#2c9c2c"/>
<rect x="267.02" y="134.38" width="0.9" height="0.9" fill="#2c9c2c"/>
<rect x="310.91" y="93.76" width="0.9" height="0.9" fill="#2c9c2c"/>
<rect x="277.20" y="124.47" width="0.9" height="0.9" fill="#2c9c2c"/>
<rect x="295.00" y="107.19" width="0.9" height="0.9" fill="#2c9c2c"/>
<rect x="324.63" y="79.45" width="0.9" height="0.9" fill="#2c9c2c"/>
<rect x="292.02" y="110.15" width="0.9" height="0.9" fill="#2c9c2c"/>
<rect x="272.40" y="135.02" width="0.9" height="0.9" fill="#2c9c2c"/>
<rect x="315.59" y="93.49" width="0.9" height="0.9" fill="#2c9c2c"/>
<rect x="287.76" y="116.68" width="0.9" height="0.9" fill="#2c9c2c"/>
<rect x="294.59" y="107.57" width="0.9" height="0.9" fill="#2c9c2c"/>
<rect x="282.22" y="122.38" width="0.9" height="0.9" fill="#2c9c2c"/>
<rect x="290.82" y="113.46" width="0.9" height="0.9" fill="#2c9c2c"/>
<rect x="268.63" y="134.76" width="0.9" height="0.9" fill="#2c9c2c"/>
<rect x="305.92" y="97.09" width="0.9" height="0.9" fill="#2c9c2c"/>
<rect x="282.00" y="125.83" width="0.9" height="0.9" fill="#2c9c2c"/>
<rect x="268.22" y="133.57" width="0.9" height="0.9" fill="#2c9c2c"/>
<rect x="312.70" y="90.00" width="0.9" height="0.9" fill="#2c9c2c"/>
<rect x="318.40" y="86.10" width="0.9" height="0.9" fill="#2c9c2c"/>
<rect x="299.23" y="104.19" width="0.9" height="0.9" fill="#2c9c2c"/>
<rect x="298.87" y="104.45" width="0.9" height="0.9" fill="#2c9c2c"/>
<rect x="293.68" y="108.35" width="0.9" height="0.9" fill="#2c9c2c"/>
<rect x="301.52" y="100.77" width="0.9" height="0.9" fill="#2c9c2c"/>
<rect x="301.83" y="101.37" width="0.9" height="0.9" fill="#2c9c2c"/>
<rect x="280.41" y="121.59" width="0.9" height="0.9" fill="#2c9c2c"/>
<rect x="292.01" y="110.39" width="0.9" height="0.9" fill="#2c9c2c"/>
<rect x="327.95" y="76.04" width="0.9" height="0.9" fill="#2c9c2c"/>
<rect x="295.37" y="106.74" width="0.9" height="0.9" fill="#2c9c2c"/>
<rect x="278.06" y="125.49" width="0.9" height="0.9" fill="#2c9c2c"/>
<rect x="325.21" y="78.24" width="0.9" height="0.9" fill="#2c9c2c"/>
<rect x="299.90" y="105.81" width="0.9" height="0.9" fill="#2c9c2c"/>
<rect x="325.50" y="78.81" width="0.9" height="0.9" fill="#2c9c2c"/>
<rect x="310.83" y="93.15" width="0.9" height="0.9" fill="#2c9c2c"/>
<rect x="296.21" y="106.32" width="0.9" height="0.9" fill="#2c9c2c"/>
<rect x="274.88" y="127.29" width="0.9" height="0.9" fill="#2c9c2c"/>
<rect x="277.26" y="125.75" width="0.9" height="0.9" fill="#2c9c2c"/>
<rect x="271.42" y="132.49" width="0.9" height="0.9" fill="#2c9c2c"/>
<rect x="317.68" y="87.87" width="0.9" height="0.9" fill="#2c9c2c"/>
<rect x="291.43" y="118.03" width="0.9" height="0.9" fill="#2c9c2c"/>
<rect x="304.71" y="101.65" width="0.9" height="0.9" fill="#2c9c2c"/>
<rect x="285.75" y="116.55" width="0.9" height="0.9" fill="#2c9c2c"/>
<rect x="306.94" y="98.15" width="0.9" height="0.9" fill="#2c9c2c"/>
<rect x="294.05" y="112.14" width="0.9" height="0.9" fill="#2c9c2c"/>
<rect x="301.44" y="100.73" width="0.9" height="0.9" fill="#2c9c2c"/>
<rect x="319.68" y="87.32" width="0.9" height="0.9" fill="#2c9c2c"/>
<rect x="310.83" y="92.84" width="0.9" height="0.9" fill="#2c9c2c"/>
<rect x="296.84" y="107.95" width="0.9" height="0.9" fill="#2c9c2c"/>
<rect x="295.81" y="108.54" width="0.9" height="0.9" fill="#2c9c2c"/>
<rect x="281.38" y="123.05" width="0.9" height="0.9" fill="#2c9c2c"/>
<rect x="284.14" y="118.72" width="0.9" height="0.9" fill="#2c9c2c"/>
<rect x="289.72" y="115.52" width="0.9" height="0.9" fill="#2c9c2c"/>
<rect x="280.29" y="127.32" width="0.9" height="0.9" fill="#2c9c2c"/>
<rect x="278.51" y="123.71" width="0.9" height="0.9" fill="#2c9c2c"/>
<rect x="280.80" y="121.75" width="0.9" height="0.9" fill="#2c9c2c"/>
<rect x="274.86" y="128.11" width="0.9" height="0.9" fill="#2c9c2c"/>
<rect x="294.18" y="108.91" width="0.9" height="0.9" fill="#2c9c2c"/>
<rect x="304.46" y="98.89" width="0.9" height="0.9" fill="#2c9c2c"/>
<rect x="305.47" y="96.89" width="0.9" height="0.9" fill="#2c9c2c"/>
<rect x="335.24" y="68.39" width="0.9" height="0.9" fill="#2c9c2c"/>
<rect x="340.09" y="63.64" width="0.9" height="0.9" fill="#2c9c2c"/>
<rect x="278.30" y="125.32" width="0.9" height="0.9" fill="#2c9c2c"/>
<rect x="283.79" y="127.57" width="0.9" height="0.9" fill="#2c9c2c"/>
<rect x="300.84" y="106.33" width="0.9" height="0.9" fill="#2c9c2c"/>
<rect x="295.18" y="107.59" width="0.9" height="0.9" fill="#2c9c2c"/>
<rect x="307.07" y="99.41" width="0.9" height="0.9" fill="#2c9c2c"/>
<rect x="266.71" y="134.74" width="0.9" height="0.9" fill="#2c9c2c"/>
<rect x="295.03" y="109.68" width="0.9" height="0.9" fill="#2c9c2c"/>
<rect x="308.03" y="101.87" width="0.9" height="0.9" fill="#2c9c2c"/>
<rect x="307.59" y="96.53" width="0.9" height="0.9" fill="#2c9c2c"/>
<rect x="270.32" y="137.23" width="0.9" height="0.9" fill="#2c9c2c"/>
<rect x="285.52" y="118.01" width="0.9" height="0.9" fill="#2c9c2c"/>
<rect x="305.08" y="97.96" width="0.9" height="0.9" fill="#2c9c2c"/>
<rect x="279.81" y="122.15" width="0.9" height="0.9" fill="#2c9c2c"/>
<rect x="291.37" y="111.11" width="0.9" height="0.9" fill="#2c9c2c"/>
<rect x="265.20" y="136.30" width="0.9" height="0.9" fill="#2c9c2c"/>
<rect x="304.88" y="101.57" width="0.9" height="0.9" fill="#2c9c2c"/>
<rect x="297.50" y="108.93" width="0.9" height="0.9" fill="#2c9c2c"/>
<rect x="280.06" y="122.39" width="0.9" height="0.9" fill="#2c9c2c"/>
<rect x="277.50" y="125.47" width="0.9" height="0.9" fill="#2c9c2c"/>
<rect x="277.99" y="123.98" width="0.9" height="0.9" fill="#2c9c2c"/>
<rect x="275.05" y="128.92" width="0.9" height="0.9" fill="#2c9c2c"/>
<rect x="277.36" y="128.83" width="0.9" height="0.9" fill="#2c9c2c"/>
<rect x="314.74" y="88.65" width="0.9" height="0.9" fill="#2c9c2c"/>
<rect x="295.86" y="109.57" width="0.9" height="0.9" fill="#2c9c2c"/>
<rect x="280.67" y="121.72" width="0.9" height="0.9" fill="#2c9c2c"/>
<rect x="305.32" y="99.19" width="0.9" height="0.9" fill="#2c9c2c"/>
<rect x="297.78" y="107.54" width="0.9" height="0.9" fill="#2c9c2c"/>
<rect x="285.49" y="119.56" width="0.9" height="0.9" fill="#2c9c2c"/>
<rect x="282.75" y="124.68" width="0.9" height="0.9" fill="#2c9c2c"/>
<rect x="291.30" y="111.78" width="0.9" height="0.9" fill="#2c9c2c"/>
<rect x="288.75" y="113.29" width="0.9" height="0.9" fill="#2c9c2c"/>
<rect x="312.68" y="94.68" width="0.9" height="0.9" fill="#2c9c2c"/>
<rect x="309.84" y="94.14" width="0.9" height="0.9" fill="#2c9c2c"/>
<rect x="310.42" y="98.19" width="0.9" height="0.9" fill="#2c9c2c"/>
<rect x="317.04" y="86.99" width="0.9" height="0.9" fill="#2c9c2c"/>
<rect x="273.16" y="131.71" width="0.9" height="0.9" fill="#2c9c2c"/>
<rect x="271.41" y="132.62" width="0.9" height="0.9" fill="#2c9c2c"/>
<rect x="273.31" y="128.72" width="0.9" height="0.9" fill="#2c9c2c"/>
<rect x="271.75" y="132.66" width="0.9" height="0.9" fill="#2c9c2c"/>
<rect x="318.89" y="84.12" width="0.9" height="0.9" fill="#2c9c2c"/>
<rect x="279.12" y="126.62" width="0.9" height="0.9" fill="#2c9c2c"/>
<rect x="268.24" y="136.51" width="0.9" height="0.9" fill="#2c9c2c"/>
<rect x="294.41" y="110.44" width="0.9" height="0.9" fill="#2c9c2c"/>
<rect x="309.05" y="97.06" width="0.9" height="0.9" fill="#2c9c2c"/>
<rect x="291.65" y="113.41" width="0.9" height="0.9" fill="#2c9c2c"/>
<rect x="324.20" y="79.04" width="0.9" height="0.9" fill="#2c9c2c"/>
<rect x="323.05" y="82.06" width="0.9" height="0.9" fill="#2c9c2c"/>
<rect x="302.89" y="100.24" width="0.9" height="0.9" fill="#2c9c2c"/>
<rect x="287.37" y="117.54" width="0.9" height="0.9" fill="#2c9c2c"/>
<rect x="283.58" y="119.75" width="0.9" height="0.9" fill="#2c9c2c"/>
<rect x="298.35" y="105.39" width="0.9" height="0.9" fill="#2c9c2c"/>
<rect x="266.79" y="135.01" width="0.9" height="0.9" fill="#2c9c2c"/>
<rect x="267.85" y="133.51" width="0.9" height="0.9" fill="#2c9c2c"/>
<rect x="290.66" y="111.50" width="0.9" height="0.9" fill="#2c9c2c"/>
<rect x="287.28" y="115.84" width="0.9" height="0.9" fill="#2c9c2c"/>
<rect x="303.17" y="101.89" width="0.9" height="0.9" fill="#2c9c2c"/>
<rect x="281.24" y="120.65" width="0.9" height="0.9" fill="#2c9c2c"/>
<rect x="269.88" y="133.22" width="0.9" height="0.9" fill="#2c9c2c"/>
<rect x="292.71" y="118.26" width="0.9" height="0.9" fill="#2c9c2c"/>
<rect x="287.94" y="114.60" width="0.9" height="0.9" fill="#2c9c2c"/>
<rect x="279.36" y="122.67" width="0.9" height="0.9" fill="#2c9c2c"/>
<rect x="280.93" y="122.14" width="0.9" height="0.9" fill="#2c9c2c"/>
<rect x="280.67" y="124.07" width="0.9" height="0.9" fill="#2c9c2c"/>
<rect x="337.53" y="65.82" width="0.9" height="0.9" fill="#2c9c2c"/>
<rect x="304.78" y="100.55" width="0.9" height="0.9" fill="#2c9c2c"/>
<rect x="272.02" y="133.04" width="0.9" height="0.9" fill="#2c9c2c"/>
<rect x="302.01" y="101.65" width="0.9" height="0.9" fill="#2c9c2c"/>
<rect x="275.13" y="127.62" width="0.9" height="0.9" fill="#2c9c2c"/>
<rect x="339.32" y="66.39" width="0.9" height="0.9" fill="#2c9c2c"/>
<rect x="298.93" y="104.74" width="0.9" height="0.9" fill="#2c9c2c"/>
<rect x="273.34" y="134.89" width="0.9" height="0.9" fill="#2c9c2c"/>
<rect x="293.04" y="114.40" width="0.9" height="0.9" fill="#2c9c2c"/>
<rect x="272.25" y="142.81" width="0.9" height="0.9" fill="#2c9c2c"/>
<rect x="279.03" y="125.52" width="0.9" height="0.9" fill="#2c9c2c"/>
<rect x="270.82" y="132.10" width="0.9" height="0.9" fill="#2c9c2c"/>
<rect x="282.62" y="119.39" width="0.9" height="0.9" fill="#2c9c2c"/>
<rect x="298.21" y="106.18" width="0.9" height="0.9" fill="#2c9c2c"/>
<rect x="267.11" y="134.50" width="0.9" height="0.9" fill="#2c9c2c"/>
<rect x="317.03" y="88.81" width="0.9" height="0.9" fill="#2c9c2c"/>
<rect x="302.22" y="101.75" width="0.9" height="0.9" fill="#2c9c2c"/>
<rect x="287.02" y="118.42" width="0.9" height="0.9" fill="#2c9c2c"/>
<rect x="291.83" y="113.14" width="0.9" height="0.9" fill="#2c9c2c"/>
<rect x="317.21" y="87.15" width="0.9" height="0.9" fill="#2c9c2c"/>
<rect x="309.07" y="94.29" width="0.9" height="0.9" fill="#2c9c2c"/>
<rect x="267.67" y="134.99" width="0.9" height="0.9" fill="#2c9c2c"/>
<rect x="296.95" y="111.34" width="0.9" height="0.9" fill="#2c9c2c"/>
<rect x="299.48" y="102.75" width="0.9" height="0.9" fill="#2c9c2c"/>
<rect x="295.81" y="109.76" width="0.9" height="0.9" fill="#2c9c2c"/>
<rect x="295.31" y="111.05" width="0.9" height="0.9" fill="#2c9c2c"/>
<rect x="281.94" y="126.05" width="0.9" height="0.9" fill="#2c9c2c"/>
<rect x="321.79" y="83.79" width="0.9" height="0.9" fill="#2c9c2c"/>
<rect x="273.95" y="128.96" width="0.9" height="0.9" fill="#2c9c2c"/>
<rect x="295.18" y="107.10" width="0.9" height="0.9" fill="#2c9c2c"/>
<rect x="292.99" y="109.82" width="0.9" height="0.9" fill="#2c9c2c"/>
<rect x="290.14" y="118.20" width="0.9" height="0.9" fill="#2c9c2c"/>
<rect x="269.26" y="132.53" width="0.9" height="0.9" fill="#2c9c2c"/>
<rect x="303.69" y="102.15" width="0.9" height="0.9" fill="#2c9c2c"/>
<rect x="297.37" y="108.08" width="0.9" height="0.9" fill="#2c9c2c"/>
<rect x="286.46" y="120.66" width="0.9" height="0.9" fill="#2c9c2c"/>
<rect x="285.16" y="117.12" width="0.9" height="0.9" fill="#2c9c2c"/>
<rect x="305.58" y="97.82" width="0.9" height="0.9" fill="#2c9c2c"/>
<rect x="296.46" y="108.12" width="0.9" height="0.9" fill="#2c9c2c"/>
<rect x="313.36" y="93.91" width="0.9" height="0.9" fill="#2c9c2c"/>
<rect x="309.13" y="94.86" width="0.9" height="0.9" fill="#2c9c2c"/>
<rect x="291.18" y="113.27" width="0.9" height="0.9" fill="#2c9c2c"/>
<rect x="331.08" y="73.05" width="0.9" height="0.9" fill="#2c9c2c"/>
<rect x="275.23" y="130.15" width="0.9" height="0.9" fill="#2c9c2c"/>
<rect x="295.39" y="107.55" width="0.9" height="0.9" fill="#2c9c2c"/>
<rect x="271.17" y="131.92" width="0.9" height="0.9" fill="#2c9c2c"/>
<rect x="320.30" y="89.33" width="0.9" height="0.9" fill="#2c9c2c"/>
<rect x="306.83" y="96.93" width="0.9" height="0.9" fill="#2c9c2c"/>
<rect x="281.45" y="128.80" width="0.9" height="0.9" fill="#2c9c2c"/>
<rect x="303.69" y="107.86" width="0.9" height="0.9" fill="#2c9c2c"/>
<rect x="270.42" y="131.43" width="0.9" height="0.9" fill="#2c9c2c"/>
<rect x="296.02" y="108.38" width="0.9" height="0.9" fill="#2c9c2c"/>
<rect x="326.63" y="76.38" width="0.9" height="0.9" fill="#2c9c2c"/>
<rect x="286.67" y="116.56" width="0.9" height="0.9" fill="#2c9c2c"/>
<rect x="270.45" y="131.80" width="0.9" height="0.9" fill="#2c9c2c"/>
<rect x="282.36" y="119.63" width="0.9" height="0.9" fill="#2c9c2c"/>
<rect x="300.56" y="101.82" width="0.9" height="0.9" fill="#2c9c2c"/>
<rect x="314.63" y="88.69" width="0.9" height="0.9" fill="#2c9c2c"/>
<rect x="281.24" y="120.72" width="0.9" height="0.9" fill="#2c9c2c"/>
<rect x="311.95" y="91.60" width="0.9" height="0.9" fill="#2c9c2c"/>
<rect x="281.48" y="124.83" width="0.9" height="0.9" fill="#2c9c2c"/>
<rect x="303.88" y="98.55" width="0.9" height="0.9" fill="#2c9c2c"/>
<rect x="304.53" y="100.32" width="0.9" height="0.9" fill="#2c9c2c"/>
<rect x="311.75" y="94.62" width="0.9" height="0.9" fill="#2c9c2c"/>
<rect x="307.45" y="97.90" width="0.9" height="0.9" fill="#2c9c2c"/>
<rect x="298.36" y="104.52" width="0.9" height="0.9" fill="#2c9c2c"/>
<rect x="275.27" y="126.44" width="0.9" height="0.9" fill="#2c9c2c"/>
<rect x="275.97" y="125.89" width="0.9" height="0.9" fill="#2c9c2c"/>
<rect x="266.43" y="135.24" width="0.9" height="0.9" fill="#2c9c2c"/>
<rect x="287.29" y="121.43" width="0.9" height="0.9" fill="#2c9c2c"/>
<rect x="316.57" y="93.16" width="0.9" height="0.9" fill="#2c9c2c"/>
<rect x="303.43" y="102.34" width="0.9" height="0.9" fill="#2c9c2c"/>
<rect x="266.59" y="136.22" width="0.9" height="0.9" fill="#2c9c2c"/>
<rect x="306.17" y="97.12" width="0.9" height="0.9" fill="#2c9c2c"/>
<rect x="271.37" y="131.93" width="0.9" height="0.9" fill="#2c9c2c"/>
<rect x="303.84" y="98.54" width="0.9" height="0.9" fill="#2c9c2c"/>
<rect x="306.32" y="104.23" width="0.9" height="0.9" fill="#2c9c2c"/>
<rect x="280.48" y="122.38" width="0.9" height="0.9" fill="#2c9c2c"/>
<rect x="291.76" y="110.28" width="0.9" height="0.9" fill="#2c9c2c"/>
<rect x="321.57" y="82.46" width="0.9" height="0.9" fill="#2c9c2c"/>
<rect x="325.32" y="80.39" width="0.9" height="0.9" fill="#2c9c2c"/>
<rect x="266.74" y="136.60" width="0.9" height="0.9" fill="#2c9c2c"/>
<rect x="281.20" y="125.80" width="0.9" height="0.9" fill="#2c9c2c"/>
<rect x="308.45" y="101.40" width="0.9" height="0.9" fill="#2c9c2c"/>
<rect x="277.22" y="133.56" width="0.9" height="0.9" fill="#2c9c2c"/>
<rect x="296.28" y="107.27" width="0.9" height="0.9" fill="#2c9c2c"/>
<rect x="296.51" y="106.72" width="0.9" height="0.9" fill="#2c9c2c"/>
<rect x="310.60" y="94.51" width="0.9" height="0.9" fill="#2c9c2c"/>
<rect x="286.35" y="123.51" width="0.9" height="0.9" fill="#2c9c2c"/>
<rect x="289.83" y="113.75" width="0.9" height="0.9" fill="#2c9c2c"/>
<rect x="287.89" y="115.17" width="0.9" height="0.9" fill="#2c9c2c"/>
<rect x="265.47" y="136.12" width="0.9" height="0.9" fill="#2c9c2c"/>
<rect x="298.16" y="108.67" width="0.9" height="0.9" fill="#2c9c2c"/>
<rect x="287.02" y="116.82" width="0.9" height="0.9" fill="#2c9c2c"/>
<rect x="309.19" y="93.74" width="0.9" height="0.9" fill="#2c9c2c"/>
<rect x="290.32" y="111.81" width="0.9" height="0.9" fill="#2c9c2c"/>
<rect x="292.82" y="111.08" width="0.9" height="0.9" fill="#2c9c2c"/>
<rect x="303.60" y="99.74" width="0.9" height="0.9" fill="#2c9c2c"/>
<rect x="280.03" y="127.19" width="0.9" height="0.9" fill="#2c9c2c"/>
<rect x="278.15" y="124.46" width="0.9" height="0.9" fill="#2c9c2c"/>
<rect x="281.14" y="121.94" width="0.9" height="0.9" fill="#2c9c2c"/>
<rect x="289.95" y="116.98" width="0.9" height="0.9" fill="#2c9c2c"/>
<rect x="306.07" y="99.18" width="0.9" height="0.9" fill="#2c9c2c"/>
<rect x="296.08" y="108.43" width="0.9" height="0.9" fill="#2c9c2c"/>
<rect x="289.64" y="112.56" width="0.9" height="0.9" fill="#2c9c2c"/>
<rect x="302.98" y="101.42" width="0.9" height="0.9" fill="#2c9c2c"/>
<rect x="265.78" y="136.76" width="0.9" height="0.9" fill="#2c9c2c"/>
<rect x="268.47" y="133.38" width="0.9" height="0.9" fill="#2c9c2c"/>
<rect x="296.98" y="105.70" width="0.9" height="0.9" fill="#2c9c2c"/>
<rect x="303.65" y="98.63" width="0.9" height="0.9" fill="#2c9c2c"/>
<rect x="301.13" y="101.27" width="0.9" height="0.9" fill="#2c9c2c"/>
<rect x="283.28" y="120.92" width="0.9" height="0.9" fill="#2c9c2c"/>
<rect x="297.17" y="104.91" width="0.9" height="0.9" fill="#2c9c2c"/>
<rect x="310.31" y="100.58" width="0.9" height="0.9" fill="#2c9c2c"/>
<rect x="266.93" y="137.27" width="0.9" height="0.9" fill="#2c9c2c"/>
<rect x="268.57" y="136.73" width="0.9" height="0.9" fill="#2c9c2c"/>
<rect x="305.48" y="99.45" width="0.9" height="0.9" fill="#2c9c2c"/>
<rect x="304.23" y="98.29" width="0.9" height="0.9" fill="#2c9c2c"/>
<rect x="319.11" y="86.90" width="0.9" height="0.9" fill="#2c9c2c"/>
<rect x="303.19" y="100.90" width="0.9" height="0.9" fill="#2c9c2c"/>
<rect x="274.37" y="127.42" width="0.9" height="0.9" fill="#2c9c2c"/>
<rect x="271.91" y="131.65" width="0.9" height="0.9" fill="#2c9c2c"/>
<rect x="290.87" y="113.18" width="0.9" height="0.9" fill="#2c9c2c"/>
<rect x="292.72" y="109.91" width="0.9" height="0.9" fill="#2c9c2c"/>
<rect x="285.91" y="121.88" width="0.9" height="0.9" fill="#2c9c2c"/>
<rect x="285.76" y="116.14" width="0.9" height="0.9" fill="#2c9c2c"/>
<rect x="304.10" y="103.48" width="0.9" height="0.9" fill="#2c9c2c"/>
<rect x="313.11" y="97.22" width="0.9" height="0.9" fill="#2c9c2c"/>
<rect x="281.44" y="122.62" width="0.9" height="0.9" fill="#2c9c2c"/>
<rect x="280.76" y="120.90" width="0.9" height="0.9" fill="#2c9c2c"/>
<rect x="296.16" y="105.86" width="0.9" height="0.9" fill="#2c9c2c"/>
<rect x="296.89" y="106.33" width="0.9" height="0.9" fill="#2c9c2c"/>
<rect x="310.38" y="96.04" width="0.9" height="0.9" fill="#2c9c2c"/>
<rect x="266.86" y="137.53" width="0.9" height="0.9" fill="#2c9c2c"/>
<rect x="290.03" y="112.49" width="0.9" height="0.9" fill="#2c9c2c"/>
<rect x="280.36" y="123.77" width="0.9" height="0.9" fill="#2c9c2c"/>
<rect x="312.56" y="93.91" width="0.9" height="0.9" fill="#2c9c2c"/>
<rect x="274.60" y="127.85" width="0.9" height="0.9" fill="#2c9c2c"/>
<rect x="291.12" y="114.77" width="0.9" height="0.9" fill="#2c9c2c"/>
<rect x="296.60" y="106.02" width="0.9" height="0.9" fill="#2c9c2c"/>
<rect x="311.19" y="91.64" width="0.9" height="0.9" fill="#2c9c2c"/>
<rect x="282.50" y="121.46" width="0.9" height="0.9" fill="#2c9c2c"/>
<rect x="294.58" y="108.36" width="0.9" height="0.9" fill="#2c9c2c"/>
<rect x="276.38" y="126.84" width="0.9" height="0.9" fill="#2c9c2c"/>
<rect x="269.21" y="134.21" width="0.9" height="0.9" fill="#2c9c2c"/>
<rect x="275.65" y="127.86" width="0.9" height="0.9" fill="#2c9c2c"/>
<rect x="294.22" y="110.51" width="0.9" height="0.9" fill="#2c9c2c"/>
<rect x="308.89" y="95.13" width="0.9" height="0.9" fill="#2c9c2c"/>
<rect x="302.19" y="100.13" width="0.9" height="0.9" fill="#2c9c2c"/>
<rect x="286.43" y="116.90" width="0.9" height="0.9" fill="#2c9c2c"/>
<rect x="285.02" y="124.57" width="0.9" height="0.9" fill="#2c9c2c"/>
<rect x="300.39" y="104.76" width="0.9" height="0.9" fill="#2c9c2c"/>
<rect x="266.11" y="136.21" width="0.9" height="0.9" fill="#2c9c2c"/>
<rect x="314.56" y="90.80" width="0.9" height="0.9" fill="#2c9c2c"/>
<rect x="270.28" y="133.06" width="0.9" height="0.9" fill="#2c9c2c"/>
<rect x="274.16" y="129.63" width="0.9" height="0.9" fill="#2c9c2c"/>
<rect x="299.50" y="103.31" width="0.9" height="0.9" fill="#2c9c2c"/>
<rect x="297.92" y="104.75" width="0.9" height="0.9" fill="#2c9c2c"/>
<rect x="290.92" y="112.17" width="0.9" height="0.9" fill="#2c9c2c"/>
<rect x="296.08" y="106.04" width="0.9" height="0.9" fill="#2c9c2c"/>
<rect x="286.97" y="119.26" width="0.9" height="0.9" fill="#2c9c2c"/>
<rect x="283.27" y="118.69" width="0.9" height="0.9" fill="#2c9c2c"/>
<rect x="297.51" y="106.13" width="0.9" height="0.9" fill="#2c9c2c"/>
<rect x="271.34" y="130.69" width="0.9" height="0.9" fill="#2c9c2c"/>
<rect x="282.17" y="120.89" width="0.9" height="0.9" fill="#2c9c2c"/>
<rect x="322.47" y="81.90" width="0.9" height="0.9" fill="#2c9c2c"/>
<rect x="308.70" y="106.48" width="0.9" height="0.9" fill="#2c9c2c"/>
<rect x="313.33" y="92.14" width="0.9" height="0.9" fill="#2c9c2c"/>
<rect x="279.32" y="125.73" width="0.9" height="0.9" fill="#2c9c2c"/>
<rect x="287.41" y="114.45" width="0.9" height="0.9" fill="#2c9c2c"/>
<rect x="339.06" y="64.92" width="0.9" height="0.9" fill="#2c9c2c"/>
<rect x="271.26" y="131.25" width="0.9" height="0.9" fill="#2c9c2c"/>
<rect x="277.22" y="125.23" width="0.9" height="0.9" fill="#2c9c2c"/>
<rect x="279.81" y="122.50" width="0.9" height="0.9" fill="#2c9c2c"/>
<rect x="280.67" y="122.40" width="0.9" height="0.9" fill="#2c9c2c"/>
<rect x="280.29" y="123.45" width="0.9" height="0.9" fill="#2c9c2c"/>
<rect x="266.97" y="135.87" width="0.9" height="0.9" fill="#2c9c2c"/>
<rect x="298.58" y="107.01" width="0.9" height="0.9" fill="#2c9c2c"/>
<rect x="339.22" y="65.68" width="0.9" height="0.9" fill="#2c9c2c"/>
<rect x="278.78" y="123.00" width="0.9" height="0.9" fill="#2c9c2c"/>
<rect x="278.73" y="124.63" width="0.9" height="0.9" fill="#2c9c2c"/>
<rect x="314.30" y="97.90" width="0.9" height="0.9" fill="#2c9c2c"/>
<rect x="268.43" y="134.96" width="0.9" height="0.9" fill="#2c9c2c"/>
<rect x="296.09" y="106.48" width="0.9" height="0.9" fill="#2c9c2c"/>
<rect x="310.43" y="97.12" width="0.9" height="0.9" fill="#2c9c2c"/>
<rect x="275.73" y="130.12" width="0.9" height="0.9" fill="#2c9c2c"/>
<rect x="285.56" y="118.76" width="0.9" height="0.9" fill="#2c9c2c"/>
<rect x="335.80" y="67.78" width="0.9" height="0.9" fill="#2c9c2c"/>
<rect x="271.67" y="135.52" width="0.9" height="0.9" fill="#2c9c2c"/>
<rect x="300.56" y="104.92" width="0.9" height="0.9" fill="#2c9c2c"/>
<rect x="266.32" y="137.16" width="0.9" height="0.9" fill="#2c9c2c"/>
<rect x="276.51" y="127.07" width="0.9" height="0.9" fill="#2c9c2c"/>
<rect x="270.32" y="133.13" width="0.9" height="0.9" fill="#2c9c2c"/>
<rect x="272.29" y="133.11" width="0.9" height="0.9" fill="#2c9c2c"/>
<rect x="289.88" y="122.06" width="0.9" height="0.9" fill="#2c9c2c"/>
<rect x="275.99" y="126.48" width="0.9" height="0.9" fill="#2c9c2c"/>
<rect x="282.31" y="119.39" width="0.9" height="0.9" fill="#2c9c2c"/>
<rect x="275.07" y="131.27" width="0.9" height="0.9" fill="#2c9c2c"/>
<rect x="305.01" y="97.32" width="0.9" height="0.9" fill="#2c9c2c"/>
<rect x="277.18" y="130.53" width="0.9" height="0.9" fill="#2c9c2c"/>
<rect x="324.46" y="78.66" width="0.9" height="0.9" fill="#2c9c2c"/>
<rect x="305.00" y="98.61" width="0.9" height="0.9" fill="#2c9c2c"/>
<rect x="298.46" y="104.19" width="0.9" height="0.9" fill="#2c9c2c"/>
<rect x="284.06" y="117.82" width="0.9" height="0.9" fill="#2c9c2c"/>
<rect x="299.35" y="106.05" width="0.9" height="0.9" fill="#2c9c2c"/>
<rect x="304.10" y="102.66" width="0.9" height="0.9" fill="#2c9c2c"/>
<rect x="327.99" y="75.09" width="0.9" height="0.9" fill="#2c9c2c"/>
<rect x="303.11" y="100.67" width="0.9" height="0.9" fill="#2c9c2c"/>
<rect x="311.72" y="91.63" width="0.9" height="0.9" fill="#2c9c2c"/>
<rect x="272.41" y="134.36" width="0.9" height="0.9" fill="#2c9c2c"/>
<rect x="285.87" y="119.54" width="0.9" height="0.9" fill="#2c9c2c"/>
<rect x="295.72" y="106.46" width="0.9" height="0.9" fill="#2c9c2c"/>
<rect x="308.86" y="95.00" width="0.9" height="0.9" fill="#2c9c2c"/>
<rect x="296.61" y="106.35" width="0.9" height="0.9" fill="#2c9c2c"/>
<rect x="327.04" y="75.89" width="0.9" height="0.9" fill="#2c9c2c"/>
<rect x="300.35" y="105.93" width="0.9" height="0.9" fill="#2c9c2c"/>
<rect x="312.67" y="91.41" width="0.9" height="0.9" fill="#2c9c2c"/>
<rect x="305.49" y="99.08" width="0.9" height="0.9" fill="#2c9c2c"/>
<rect x="274.82" y="128.11" width="0.9" height="0.9" fill="#2c9c2c"/>
<rect x="342.74" y="62.86" width="0.9" height="0.9" fill="#2c9c2c"/>
<rect x="288.38" y="122.24" width="0.9" height="0.9" fill="#2c9c2c"/>
<rect x="288.67" y="117.54" width="0.9" height="0.9" fill="#2c9c2c"/>
<rect x="275.78" y="132.44" width="0.9" height="0.9" fill="#2c9c2c"/>
<rect x="309.04" y="94.98" width="0.9" height="0.9" fill="#2c9c2c"/>
<rect x="298.55" y="103.86" width="0.9" height="0.9" fill="#2c9c2c"/>
<rect x="283.23" y="119.74" width="0.9" height="0.9" fill="#2c9c2c"/>
<rect x="274.52" y="131.80" width="0.9" height="0.9" fill="#2c9c2c"/>
<rect x="270.75" y="131.33" width="0.9" height="0.9" fill="#2c9c2c"/>
<rect x="318.23" y="85.96" width="0.9" height="0.9" fill="#2c9c2c"/>
<rect x="298.95" y="103.45" width="0.9" height="0.9" fill="#2c9c2c"/>
<rect x="317.50" y="85.76" width="0.9" height="0.9" fill="#2c9c2c"/>
<rect x="316.84" y="86.02" width="0.9" height="0.9" fill="#2c9c2c"/>
<rect x="287.58" y="115.16" width="0.9" height="0.9" fill="#2c9c2c"/>
<rect x="295.87" y="108.70" width="0.9" height="0.9" fill="#2c9c2c"/>
<rect x="277.19" y="126.71" width="0.9" height="0.9" fill="#2c9c2c"/>
<rect x="310.25" y="92.75" width="0.9" height="0.9" fill="#2c9c2c"/>
<rect x="291.06" y="112.43" width="0.9" height="0.9" fill="#2c9c2c"/>
<rect x="281.66" y="122.14" width="0.9" height="0.9" fill="#2c9c2c"/>
<rect x="316.51" y="86.71" width="0.9" height="0.9" fill="#2c9c2c"/>
<rect x="282.01" y="124.33" width="0.9" height="0.9" fill="#2c9c2c"/>
<rect x="302.39" y="103.74" width="0.9" height="0.9" fill="#2c9c2c"/>
<rect x="290.59" y="112.17" width="0.9" height="0.9" fill="#2c9c2c"/>
<rect x="276.53" y="128.82" width="0.9" height="0.9" fill="#2c9c2c"/>
<rect x="291.27" y="114.25" width="0.9" height="0.9" fill="#2c9c2c"/>
<rect x="293.03" y="109.10" width="0.9" height="0.9" fill="#2c9c2c"/>
<rect x="279.80" y="124.31" width="0.9" height="0.9" fill="#2c9c2c"/>
<rect x="328.06" y="79.08" width="0.9" height="0.9" fill="#2c9c2c"/>
<rect x="309.86" y="98.55" width="0.9" height="0.9" fill="#2c9c2c"/>
<rect x="289.29" y="112.96" width="0.9" height="0.9" fill="#2c9c2c"/>
<rect x="333.24" y="70.06" width="0.9" height="0.9" fill="#2c9c2c"/>
<rect x="329.58" y="76.61" width="0.9" height="0.9" fill="#2c9c2c"/>
<rect x="292.07" y="111.79" width="0.9" height="0.9" fill="#2c9c2c"/>
<rect x="292.68" y="111.87" width="0.9" height="0.9" fill="#2c9c2c"/>
<rect x="304.10" y="113.17" width="0.9" height="0.9" fill="#2c9c2c"/>
<rect x="307.78" y="98.60" width="0.9" height="0.9" fill="#2c9c2c"/>
<rect x="268.66" y="136.82" width="0.9" height="0.9" fill="#2c9c2c"/>
<rect x="275.74" y="126.10" width="0.9" height="0.9" fill="#2c9c2c"/>
<rect x="308.43" y="95.61" width="0.9" height="0.9" fill="#2c9c2c"/>
<rect x="287.79" y="115.48" width="0.9" height="0.9" fill="#2c9c2c"/>
<rect x="306.07" y="97.52" width="0.9" height="0.9" fill="#2c9c2c"/>
<rect x="301.99" y="101.38" width="0.9" height="0.9" fill="#2c9c2c"/>
<rect x="292.41" y="110.51" width="0.9" height="0.9" fill="#2c9c2c"/>
<rect x="267.28" y="135.80" width="0.9" height="0.9" fill="#2c9c2c"/>
<rect x="274.82" y="130.94" width="0.9" height="0.9" fill="#2c9c2c"/>
<rect x="328.10" y="76.28" width="0.9" height="0.9" fill="#2c9c2c"/>
<rect x="287.46" y="117.30" width="0.9" height="0.9" fill="#2c9c2c"/>
<rect x="293.89" y="109.71" width="0.9" height="0.9" fill="#2c9c2c"/>
<rect x="288.89" y="116.66" width="0.9" height="0.9" fill="#2c9c2c"/>
<rect x="273.21" y="129.66" width="0.9" height="0.9" fill="#2c9c2c"/>
<rect x="299.15" y="104.38" width="0.9" height="0.9" fill="#2c9c2c"/>
<rect x="285.68" y="116.92" width="0.9" height="0.9" fill="#2c9c2c"/>
<rect x="269.51" y="131.94" width="0.9" height="0.9" fill="#2c9c2c"/>
<rect x="355.25" y="47.50" width="0.9" height="0.9" fill="#2c9c2c"/>
<rect x="276.65" y="127.89" width="0.9" height="0.9" fill="#2c9c2c"/>
<rect x="285.68" y="116.57" width="0.9" height="0.9" fill="#2c9c2c"/>
<rect x="281.86" y="119.84" width="0.9" height="0.9" fill="#2c9c2c"/>
<rect x="290.95" y="113.21" width="0.9" height="0.9" fill="#2c9c2c"/>
<rect x="300.42" y="107.74" width="0.9" height="0.9" fill="#2c9c2c"/>
<rect x="274.64" y="128.68" width="0.9" height="0.9" fill="#2c9c2c"/>
<rect x="313.46" y="89.51" width="0.9" height="0.9" fill="#2c9c2c"/>
<rect x="297.77" y="106.95" width="0.9" height="0.9" fill="#2c9c2c"/>
<rect x="266.43" y="136.03" width="0.9" height="0.9" fill="#2c9c2c"/>
<rect x="323.26" y="83.29" width="0.9" height="0.9" fill="#2c9c2c"/>
<rect x="271.20" y="134.74" width="0.9" height="0.9" fill="#2c9c2c"/>
<rect x="296.62" y="106.74" width="0.9" height="0.9" fill="#2c9c2c"/>
<rect x="267.50" y="137.71" width="0.9" height="0.9" fill="#2c9c2c"/>
<rect x="295.29" y="107.18" width="0.9" height="0.9" fill="#2c9c2c"/>
<rect x="330.21" y="76.08" width="0.9" height="0.9" fill="#2c9c2c"/>
<rect x="307.44" y="97.85" width="0.9" height="0.9" fill="#2c9c2c"/>
<rect x="333.54" y="70.81" width="0.9" height="0.9" fill="#2c9c2c"/>
<rect x="266.86" y="134.77" width="0.9" height="0.9" fill="#2c9c2c"/>
<rect x="305.41" y="101.65" width="0.9" height="0.9" fill="#2c9c2c"/>
<rect x="296.87" y="106.39" width="0.9" height="0.9" fill="#2c9c2c"/>
<rect x="305.97" y="102.16" width="0.9" height="0.9" fill="#2c9c2c"/>
<rect x="287.69" y="115.70" width="0.9" height="0.9" fill="#2c9c2c"/>
<rect x="273.56" y="130.00" width="0.9" height="0.9" fill="#2c9c2c"/>
<rect x="313.79" y="90.63" width="0.9" height="0.9" fill="#2c9c2c"/>
<rect x="300.22" y="106.12" width="0.9" height="0.9" fill="#2c9c2c"/>
<rect x="272.99" y="128.50" width="0.9" height="0.9" fill="#2c9c2c"/>
<rect x="295.71" y="106.67" width="0.9" height="0.9" fill="#2c9c2c"/>
<rect x="279.95" y="121.97" width="0.9" height="0.9" fill="#2c9c2c"/>
<rect x="277.44" y="124.22" width="0.9" height="0.9" fill="#2c9c2c"/>
<rect x="273.36" y="133.62" width="0.9" height="0.9" fill="#2c9c2c"/>
<rect x="277.58" y="126.44" width="0.9" height="0.9" fill="#2c9c2c"/>
<rect x="323.51" y="81.38" width="0.9" height="0.9" fill="#2c9c2c"/>
<rect x="273.12" y="129.96" width="0.9" height="0.9" fill="#2c9c2c"/>
<rect x="298.43" y="103.65" width="0.9" height="0.9" fill="#2c9c2c"/>
<rect x="279.86" y="122.74" width="0.9" height="0.9" fill="#2c9c2c"/>
<rect x="310.13" y="93.09" width="0.9" height="0.9" fill="#2c9c2c"/>
<rect x="282.84" y="119.81" width="0.9" height="0.9" fill="#2c9c2c"/>
<rect x="309.92" y="93.35" width="0.9" height="0.9" fill="#2c9c2c"/>
<rect x="287.52" y="116.66" width="0.9" height="0.9" fill="#2c9c2c"/>
<rect x="314.94" y="88.41" width="0.9" height="0.9" fill="#2c9c2c"/>
<rect x="270.22" y="135.88" width="0.9" height="0.9" fill="#2c9c2c"/>
<rect x="300.55" y="101.93" width="0.9" height="0.9" fill="#2c9c2c"/>
<rect x="331.67" y="72.43" width="0.9" height="0.9" fill="#2c9c2c"/>
<rect x="339.71" y="70.15" width="0.9" height="0.9" fill="#2c9c2c"/>
<rect x="287.52" y="116.07" width="0.9" height="0.9" fill="#2c9c2c"/>
<rect x="277.59" y="129.62" width="0.9" height="0.9" fill="#2c9c2c"/>
<rect x="282.01" y="119.90" width="0.9" height="0.9" fill="#2c9c2c"/>
<rect x="270.84" y="132.15" width="0.9" height="0.9" fill="#2c9c2c"/>
<rect x="299.99" y="104.83" width="0.9" height="0.9" fill="#2c9c2c"/>
<rect x="284.33" y="118.80" width="0.9" height="0.9" fill="#2c9c2c"/>
<rect x="297.25" y="107.36" width="0.9" height="0.9" fill="#2c9c2c"/>
<rect x="290.07" y="114.44" width="0.9" height="0.9" fill="#2c9c2c"/>
<rect x="267.22" y="136.35" width="0.9" height="0.9" fill="#2c9c2c"/>
<rect x="324.59" y="79.30" width="0.9" height="0.9" fill="#2c9c2c"/>
<rect x="305.77" y="97.31" width="0.9" height="0.9" fill="#2c9c2c"/>
<rect x="281.80" y="123.26" width="0.9" height="0.9" fill="#2c9c2c"/>
<rect x="314.01" y="93.16" width="0.9" height="0.9" fill="#2c9c2c"/>
<rect x="281.09" y="125.50" width="0.9" height="0.9" fill="#2c9c2c"/>
<rect x="282.13" y="121.58" width="0.9" height="0.9" fill="#2c9c2c"/>
<rect x="289.28" y="115.46" width="0.9" height="0.9" fill="#2c9c2c"/>
<rect x="276.83" y="126.91" width="0.9" height="0.9" fill="#2c9c2c"/>
<rect x="330.58" y="74.73" width="0.9" height="0.9" fill="#2c9c2c"/>
<rect x="280.11" y="123.63" width="0.9" height="0.9" fill="#2c9c2c"/>
<rect x="290.74" y="112.35" width="0.9" height="0.9" fill="#2c9c2c"/>
<rect x="265.14" y="136.45" width="0.9" height="0.9" fill="#2c9c2c"/>
<rect x="301.11" y="101.09" width="0.9" height="0.9" fill="#2c9c2c"/>
<rect x="278.38" y="123.42" width="0.9" height="0.9" fill="#2c9c2c"/>
<rect x="290.33" y="118.77" width="0.9" height="0.9" fill="#2c9c2c"/>
<rect x="311.20" y="92.39" width="0.9" height="0.9" fill="#2c9c2c"/>
<rect x="289.26" y="113.07" width="0.9" height="0.9" fill="#2c9c2c"/>
<rect x="286.08" y="115.74" width="0.9" height="0.9" fill="#2c9c2c"/>
<rect x="276.32" y="127.82" width="0.9" height="0.9" fill="#2c9c2c"/>
<rect x="287.29" y="115.98" width="0.9" height="0.9" fill="#2c9c2c"/>
<rect x="315.45" y="87.20" width="0.9" height="0.9" fill="#2c9c2c"/>
<rect x="299.81" y="104.55" width="0.9" height="0.9" fill="#2c9c2c"/>
<rect x="296.32" y="109.63" width="0.9" height="0.9" fill="#2c9c2c"/>
<rect x="270.72" y="131.89" width="0.9" height="0.9" fill="#2c9c2c"/>
<rect x="290.38" y="114.70" width="0.9" height="0.9" fill="#2c9c2c"/>
<rect x="280.97" y="121.12" width="0.9" height="0.9" fill="#2c9c2c"/>
<rect x="282.30" y="121.47" width="0.9" height="0.9" fill="#2c9c2c"/>
<rect x="295.41" y="112.39" width="0.9" height="0.9" fill="#2c9c2c"/>
<rect x="267.35" y="135.46" width="0.9" height="0.9" fill="#2c9c2c"/>
<rect x="316.57" y="87.59" width="0.9" height="0.9" fill="#2c9c2c"/>
<rect x="307.74" y="98.09" width="0.9" height="0.9" fill="#2c9c2c"/>
<rect x="292.73" y="110.55" width="0.9" height="0.9" fill="#2c9c2c"/>
<rect x="315.46" y="90.15" width="0.9" height="0.9" fill="#2c9c2c"/>
<rect x="327.56" y="75.31" width="0.9" height="0.9" fill="#2c9c2c"/>
<rect x="288.54" y="114.04" width="0.9" height="0.9" fill="#2c9c2c"/>
<rect x="300.07" y="107.95" width="0.9" height="0.9" fill="#2c9c2c"/>
<rect x="269.36" y="136.22" width="0.9" height="0.9" fill="#2c9c2c"/>
<rect x="286.59" y="133.60" width="0.9" height="0.9" fill="#2c9c2c"/>
<rect x="323.49" y="79.81" width="0.9" height="0.9" fill="#2c9c2c"/>
<rect x="283.62" y="123.91" width="0.9" height="0.9" fill="#2c9c2c"/>
<rect x="290.98" y="113.12" width="0.9" height="0.9" fill="#2c9c2c"/>
<rect x="303.01" y="99.42" width="0.9" height="0.9" fill="#2c9c2c"/>
<rect x="324.18" y="79.77" width="0.9" height="0.9" fill="#2c9c2c"/>
<rect x="280.33" y="127.04" width="0.9" height="0.9" fill="#2c9c2c"/>
<rect x="292.44" y="110.83" width="0.9" height="0.9" fill="#2c9c2c"/>
<rect x="280.33" y="121.98" width="0.9" height="0.9" fill="#2c9c2c"/>
<rect x="319.47" y="87.93" width="0.9" height="0.9" fill="#2c9c2c"/>
<rect x="300.88" y="101.27" width="0.9" height="0.9" fill="#2c9c2c"/>
<rect x="282.23" y="120.17" width="0.9" height="0.9" fill="#2c9c2c"/>
<rect x="310.87" y="92.28" width="0.9" height="0.9" fill="#2c9c2c"/>
<rect x="273.55" y="130.58" width="0.9" height="0.9" fill="#2c9c2c"/>
<rect x="267.96" y="135.18" width="0.9" height="0.9" fill="#2c9c2c"/>
<rect x="332.00" y="78.21" width="0.9" height="0.9" fill="#2c9c2c"/>
<rect x="281.86" y="125.48" width="0.9" height="0.9" fill="#2c9c2c"/>
<rect x="273.38" y="130.92" width="0.9" height="0.9" fill="#2c9c2c"/>
<rect x="306.72" y="96.62" width="0.9" height="0.9" fill="#2c9c2c"/>
<rect x="311.53" y="94.93" width="0.9" height="0.9" fill="#2c9c2c"/>
<rect x="298.68" y="105.75" width="0.9" height="0.9" fill="#2c9c2c"/>
<rect x="285.06" y="119.62" width="0.9" height="0.9" fill="#2c9c2c"/>
<rect x="315.61" y="88.77" width="0.9" height="0.9" fill="#2c9c2c"/>
<rect x="276.55" y="126.37" width="0.9" height="0.9" fill="#2c9c2c"/>
<rect x="269.62" y="134.10" width="0.9" height="0.9" fill="#2c9c2c"/>
<rect x="286.88" y="116.77" width="0.9" height="0.9" fill="#2c9c2c"/>
<rect x="276.65" y="128.08" width="0.9" height="0.9" fill="#2c9c2c"/>
<rect x="343.62" y="60.17" width="0.9" height="0.9" fill="#2c9c2c"/>
<rect x="310.95" y="93.62" width="0.9" height="0.9" fill="#2c9c2c"/>
<rect x="272.37" y="130.75" width="0.9" height="0.9" fill="#2c9c2c"/>
<rect x="303.66" y="105.13" width="0.9" height="0.9" fill="#2c9c2c"/>
<rect x="292.44" y="110.23" width="0.9" height="0.9" fill="#2c9c2c"/>
<rect x="273.98" y="128.33" width="0.9" height="0.9" fill="#2c9c2c"/>
<rect x="282.56" y="122.03" width="0.9" height="0.9" fill="#2c9c2c"/>
<rect x="286.40" y="126.26" width="0.9" height="0.9" fill="#2c9c2c"/>
<rect x="284.89" y="122.87" width="0.9" height="0.9" fill="#2c9c2c"/>
<rect x="341.09" y="65.17" width="0.9" height="0.9" fill="#2c9c2c"/>
<rect x="311.01" y="105.68" width="0.9" height="0.9" fill="#2c9c2c"/>
<rect x="305.76" y="98.77" width="0.9" height="0.9" fill="#2c9c2c"/>
<rect x="292.25" y="110.98" width="0.9" height="0.9" fill="#2c9c2c"/>
<rect x="304.02" y="101.37" width="0.9" height="0.9" fill="#2c9c2c"/>
<rect x="265.81" y="135.48" width="0.9" height="0.9" fill="#2c9c2c"/>
<rect x="325.41" y="80.51" width="0.9" height="0.9" fill="#2c9c2c"/>
<rect x="306.57" y="98.20" width="0.9" height="0.9" fill="#2c9c2c"/>
<rect x="311.94" y="92.52" width="0.9" height="0.9" fill="#2c9c2c"/>
<rect x="269.20" y="132.50" width="0.9" height="0.9" fill="#2c9c2c"/>
<rect x="318.08" y="89.15" width="0.9" height="0.9" fill="#2c9c2c"/>
<rect x="313.28" y="97.95" width="0.9" height="0.9" fill="#2c9c2c"/>
<rect x="300.63" y="105.24" width="0.9" height="0.9" fill="#2c9c2c"/>
<rect x="309.15" y="94.11" width="0.9" height="0.9" fill="#2c9c2c"/>
<rect x="273.19" y="130.10" width="0.9" height="0.9" fill="#2c9c2c"/>
<rect x="311.31" y="91.72" width="0.9" height="0.9" fill="#2c9c2c"/>
<rect x="288.25" y="115.49" width="0.9" height="0.9" fill="#2c9c2c"/>
<rect x="287.55" y="114.93" width="0.9" height="0.9" fill="#2c9c2c"/>
<rect x="311.12" y="93.04" width="0.9" height="0.9" fill="#2c9c2c"/>
<rect x="266.61" y="135.86" width="0.9" height="0.9" fill="#2c9c2c"/>
<rect x="337.35" y="66.69" width="0.9" height="0.9" fill="#2c9c2c"/>
<rect x="281.17" y="121.13" width="0.9" height="0.9" fill="#2c9c2c"/>
<rect x="270.31" y="132.76" width="0.9" height="0.9" fill="#2c9c2c"/>
<rect x="300.28" y="102.81" width="0.9" height="0.9" fill="#2c9c2c"/>
<rect x="270.40" y="131.31" width="0.9" height="0.9" fill="#2c9c2c"/>
<rect x="273.69" y="133.59" width="0.9" height="0.9" fill="#2c9c2c"/>
<rect x="314.80" y="88.63" width="0.9" height="0.9" fill="#2c9c2c"/>
<rect x="304.99" y="104.67" width="0.9" height="0.9" fill="#2c9c2c"/>
<rect x="306.75" y="96.05" width="0.9" height="0.9" fill="#2c9c2c"/>
<rect x="288.57" y="115.19" width="0.9" height="0.9" fill="#2c9c2c"/>
<rect x="324.85" y="80.38" width="0.9" height="0.9" fill="#2c9c2c"/>
<rect x="292.07" y="110.74" width="0.9" height="0.9" fill="#2c9c2c"/>
<rect x="323.46" y="85.94" width="0.9" height="0.9" fill="#2c9c2c"/>
<rect x="278.07" y="127.68" width="0.9" height="0.9" fill="#2c9c2c"/>
<rect x="302.61" y="102.18" width="0.9" height="0.9" fill="#2c9c2c"/>
<rect x="296.68" y="105.46" width="0.9" height="0.9" fill="#2c9c2c"/>
<rect x="274.43" y="127.34" width="0.9" height="0.9" fill="#2c9c2c"/>
<rect x="278.67" y="126.43" width="0.9" height="0.9" fill="#2c9c2c"/>
<rect x="296.42" y="107.55" width="0.9" height="0.9" fill="#2c9c2c"/>
<rect x="267.09" y="134.61" width="0.9" height="0.9" fill="#2c9c2c"/>
<rect x="272.84" y="130.87" width="0.9" height="0.9" fill="#2c9c2c"/>
<rect x="291.63" y="110.71" width="0.9" height="0.9" fill="#2c9c2c"/>
<rect x="321.27" y="82.00" width="0.9" height="0.9" fill="#2c9c2c"/>
<rect x="276.56" y="126.13" width="0.9" height="0.9" fill="#2c9c2c"/>
<rect x="286.55" y="118.20" width="0.9" height="0.9" fill="#2c9c2c"/>
<rect x="274.80" y="129.05" width="0.9" height="0.9" fill="#2c9c2c"/>
<rect x="295.89" y="106.46" width="0.9" height="0.9" fill="#2c9c2c"/>
<rect x="281.02" y="127.26" width="0.9" height="0.9" fill="#2c9c2c"/>
<rect x="297.71" y="104.74" width="0.9" height="0.9" fill="#2c9c2c"/>
<rect x="303.81" y="107.57" width="0.9" height="0.9" fill="#2c9c2c"/>
<rect x="345.15" y="60.52" width="0.9" height="0.9" fill="#2c9c2c"/>
<rect x="289.18" y="114.42" width="0.9" height="0.9" fill="#2c9c2c"/>
<rect x="283.87" y="129.93" width="0.9" height="0.9" fill="#2c9c2c"/>
<rect x="289.20" y="117.06" width="0.9" height="0.9" fill="#2c9c2c"/>
<rect x="268.96" y="134.73" width="0.9" height="0.9" fill="#2c9c2c"/>
<rect x="280.15" y="121.70" width="0.9" height="0.9" fill="#2c9c2c"/>
<rect x="288.39" y="119.62" width="0.9" height="0.9" fill="#2c9c2c"/>
<rect x="301.76" y="106.68" width="0.9" height="0.9" fill="#2c9c2c"/>
<rect x="302.53" y="101.52" width="0.9" height="0.9" fill="#2c9c2c"/>
<rect x="270.38" y="131.29" width="0.9" height="0.9" fill="#2c9c2c"/>
<rect x="338.16" y="64.83" width="0.9" height="0.9" fill="#2c9c2c"/>
<rect x="280.66" y="124.11" width="0.9" height="0.9" fill="#2c9c2c"/>
<rect x="310.05" y="92.71" width="0.9" height="0.9" fill="#2c9c2c"/>
<rect x="320.05" y="82.77" width="0.9" height="0.9" fill="#2c9c2c"/>
<rect x="290.01" y="113.99" width="0.9" height="0.9" fill="#2c9c2c"/>
<rect x="288.35" y="115.63" width="0.9" height="0.9" fill="#2c9c2c"/>
<rect x="294.39" y="107.70" width="0.9" height="0.9" fill="#2c9c2c"/>
<rect x="318.88" y="87.81" width="0.9" height="0.9" fill="#2c9c2c"/>
<rect x="319.86" y="82.85" width="0.9" height="0.9" fill="#2c9c2c"/>
<rect x="275.00" y="126.99" width="0.9" height="0.9" fill="#2c9c2c"/>
<rect x="304.05" y="99.80" width="0.9" height="0.9" fill="#2c9c2c"/>
<rect x="334.59" y="70.84" width="0.9" height="0.9" fill="#2c9c2c"/>
<rect x="280.73" y="121.04" width="0.9" height="0.9" fill="#2c9c2c"/>
<rect x="280.75" y="123.89" width="0.9" height="0.9" fill="#2c9c2c"/>
<rect x="287.23" y="115.53" width="0.9" height="0.9" fill="#2c9c2c"/>
<rect x="307.07" y="95.34" width="0.9" height="0.9" fill="#2c9c2c"/>
<rect x="278.10" y="126.62" width="0.9" height="0.9" fill="#2c9c2c"/>
<rect x="284.22" y="119.36" width="0.9" height="0.9" fill="#2c9c2c"/>
<rect x="294.77" y="107.90" width="0.9" height="0.9" fill="#2c9c2c"/>
<rect x="328.11" y="75.44" width="0.9" height="0.9" fill="#2c9c2c"/>
<rect x="271.26" y="131.28" width="0.9" height="0.9" fill="#2c9c2c"/>
<rect x="306.83" y="99.68" width="0.9" height="0.9" fill="#2c9c2c"/>
<rect x="282.55" y="121.63" width="0.9" height="0.9" fill="#2c9c2c"/>
<rect x="304.64" y="97.81" width="0.9" height="0.9" fill="#2c9c2c"/>
<rect x="311.60" y="92.09" width="0.9" height="0.9" fill="#2c9c2c"/>
<rect x="275.98" y="126.63" width="0.9" height="0.9" fill="#2c9c2c"/>
<rect x="293.08" y="110.91" width="0.9" height="0.9" fill="#2c9c2c"/>
<rect x="273.92" y="132.31" width="0.9" height="0.9" fill="#2c9c2c"/>
<rect x="313.95" y="89.24" width="0.9" height="0.9" fill="#2c9c2c"/>
<rect x="308.39" y="95.17" width="0.9" height="0.9" fill="#2c9c2c"/>
<rect x="271.99" y="130.03" width="0.9" height="0.9" fill="#2c9c2c"/>
<rect x="311.90" y="90.94" width="0.9" height="0.9" fill="#2c9c2c"/>
<rect x="273.23" y="130.27" width="0.9" height="0.9" fill="#2c9c2c"/>
<rect x="306.75" y="100.99" width="0.9" height="0.9" fill="#2c9c2c"/>
<rect x="287.01" y="120.09" width="0.9" height="0.9" fill="#2c9c2c"/>
<rect x="279.49" y="124.76" width="0.9" height="0.9" fill="#2c9c2c"/>
<rect x="302.25" y="102.79" width="0.9" height="0.9" fill="#2c9c2c"/>
<rect x="315.16" y="87.97" width="0.9" height="0.9" fill="#2c9c2c"/>
<rect x="320.04" y="85.63" width="0.9" height="0.9" fill="#2c9c2c"/>
<rect x="315.59" y="91.47" width="0.9" height="0.9" fill="#2c9c2c"/>
<rect x="283.55" y="119.24" width="0.9" height="0.9" fill="#2c9c2c"/>
<rect x="322.29" y="82.81" width="0.9" height="0.9" fill="#2c9c2c"/>
<rect x="340.48" y="62.72" width="0.9" height="0.9" fill="#2c9c2c"/>
<rect x="292.60" y="110.83" width="0.9" height="0.9" fill="#2c9c2c"/>
<rect x="298.46" y="108.48" width="0.9" height="0.9" fill="#2c9c2c"/>
<rect x="273.92" y="128.84" width="0.9" height="0.9" fill="#2c9c2c"/>
<rect x="269.97" y="131.68" width="0.9" height="0.9" fill="#2c9c2c"/>
<rect x="297.48" y="106.36" width="0.9" height="0.9" fill="#2c9c2c"/>
<rect x="315.07" y="93.33" width="0.9" height="0.9" fill="#2c9c2c"/>
<rect x="309.07" y="99.20" width="0.9" height="0.9" fill="#2c9c2c"/>
<rect x="271.49" y="131.95" width="0.9" height="0.9" fill="#2c9c2c"/>
<rect x="268.59" y="134.86" width="0.9" height="0.9" fill="#2c9c2c"/>
<rect x="308.98" y="96.00" width="0.9" height="0.9" fill="#2c9c2c"/>
<rect x="279.53" y="123.50" width="0.9" height="0.9" fill="#2c9c2c"/>
<rect x="318.15" y="84.39" width="0.9" height="0.9" fill="#2c9c2c"/>
<rect x="304.02" y="98.75" width="0.9" height="0.9" fill="#2c9c2c"/>
<rect x="300.89" y="101.78" width="0.9" height="0.9" fill="#2c9c2c"/>
<rect x="270.16" y="134.28" width="0.9" height="0.9" fill="#2c9c2c"/>
<rect x="269.10" y="134.50" width="0.9" height="0.9" fill="#2c9c2c"/>
<rect x="307.59" y="95.16" width="0.9" height="0.9" fill="#2c9c2c"/>
<rect x="345.01" y="60.71" width="0.9" height="0.9" fill="#2c9c2c"/>
<rect x="281.62" y="121.75" width="0.9" height="0.9" fill="#2c9c2c"/>
<rect x="304.99" y="97.65" width="0.9" height="0.9" fill="#2c9c2c"/>
<rect x="280.54" y="122.39" width="0.9" height="0.9" fill="#2c9c2c"/>
<rect x="290.40" y="114.07" width="0.9" height="0.9" fill="#2c9c2c"/>
<rect x="281.24" y="120.61" width="0.9" height="0.9" fill="#2c9c2c"/>
<rect x="273.48" y="130.23" width="0.9" height="0.9" fill="#2c9c2c"/>
<rect x="284.38" y="122.42" width="0.9" height="0.9" fill="#2c9c2c"/>
<rect x="284.24" y="118.58" width="0.9" height="0.9" fill="#2c9c2c"/>
<rect x="300.63" y="104.38" width="0.9" height="0.9" fill="#2c9c2c"/>
<rect x="298.28" y="104.42" width="0.9" height="0.9" fill="#2c9c2c"/>
<rect x="268.96" y="134.17" width="0.9" height="0.9" fill="#2c9c2c"/>
<rect x="314.93" y="90.64" width="0.9" height="0.9" fill="#2c9c2c"/>
<rect x="305.63" y="101.67" width="0.9" height="0.9" fill="#2c9c2c"/>
<rect x="317.59" y="86.15" width="0.9" height="0.9" fill="#2c9c2c"/>
<rect x="301.67" y="102.32" width="0.9" height="0.9" fill="#2c9c2c"/>
<rect x="307.32" y="98.94" width="0.9" height="0.9" fill="#2c9c2c"/>
<rect x="312.40" y="90.89" width="0.9" height="0.9" fill="#2c9c2c"/>
<rect x="267.43" y="135.35" width="0.9" height="0.9" fill="#2c9c2c"/>
<rect x="282.40" y="123.83" width="0.9" height="0.9" fill="#2c9c2c"/>
<rect x="307.07" y="96.59" width="0.9" height="0.9" fill="#2c9c2c"/>
<rect x="278.09" y="124.88" width="0.9" height="0.9" fill="#2c9c2c"/>
<rect x="269.17" y="132.82" width="0.9" height="0.9" fill="#2c9c2c"/>
<rect x="302.21" y="100.39" width="0.9" height="0.9" fill="#2c9c2c"/>
<rect x="274.00" y="128.63" width="0.9" height="0.9" fill="#2c9c2c"/>
<rect x="310.34" y="94.11" width="0.9" height="0.9" fill="#2c9c2c"/>
<rect x="291.36" y="111.60" width="0.9" height="0.9" fill="#2c9c2c"/>
<rect x="288.17" y="114.00" width="0.9" height="0.9" fill="#2c9c2c"/>
<rect x="294.62" y="109.47" width="0.9" height="0.9" fill="#2c9c2c"/>
<rect x="296.16" y="105.89" width="0.9" height="0.9" fill="#2c9c2c"/>
<rect x="301.41" y="102.47" width="0.9" height="0.9" fill="#2c9c2c"/>
<rect x="283.87" y="121.74" width="0.9" height="0.9" fill="#2c9c2c"/>
<rect x="293.96" y="110.35" width="0.9" height="0.9" fill="#2c9c2c"/>
<rect x="283.58" y="121.73" width="0.9" height="0.9" fill="#2c9c2c"/>
<rect x="320.95" y="84.33" width="0.9" height="0.9" fill="#2c9c2c"/>
<rect x="309.99" y="93.05" width="0.9" height="0.9" fill="#2c9c2c"/>
<rect x="284.79" y="117.32" width="0.9" height="0.9" fill="#2c9c2c"/>
<rect x="294.28" y="111.05" width="0.9" height="0.9" fill="#2c9c2c"/>
<rect x="270.71" y="134.67" width="0.9" height="0.9" fill="#2c9c2c"/>
<rect x="316.14" y="87.04" width="0.9" height="0.9" fill="#2c9c2c"/>
<rect x="303.34" y="100.55" width="0.9" height="0.9" fill="#2c9c2c"/>
<rect x="297.92" y="107.59" width="0.9" height="0.9" fill="#2c9c2c"/>
<rect x="280.78" y="121.11" width="0.9" height="0.9" fill="#2c9c2c"/>
<rect x="300.48" y="107.20" width="0.9" height="0.9" fill="#2c9c2c"/>
<rect x="308.05" y="95.65" width="0.9" height="0.9" fill="#2c9c2c"/>
<rect x="270.38" y="131.37" width="0.9" height="0.9" fill="#2c9c2c"/>
<rect x="281.15" y="125.01" width="0.9" height="0.9" fill="#2c9c2c"/>
<rect x="318.73" y="86.62" width="0.9" height="0.9" fill="#2c9c2c"/>
<rect x="310.67" y="93.44" width="0.9" height="0.9" fill="#2c9c2c"/>
<rect x="270.16" y="135.49" width="0.9" height="0.9" fill="#2c9c2c"/>
<rect x="292.10" y="110.17" width="0.9" height="0.9" fill="#2c9c2c"/>
<rect x="289.71" y="113.11" width="0.9" height="0.9" fill="#2c9c2c"/>
<rect x="313.56" y="90.56" width="0.9" height="0.9" fill="#2c9c2c"/>
<rect x="299.61" y="103.29" width="0.9" height="0.9" fill="#2c9c2c"/>
<rect x="288.68" y="114.17" width="0.9" height="0.9" fill="#2c9c2c"/>
<rect x="280.04" y="123.37" width="0.9" height="0.9" fill="#2c9c2c"/>
<rect x="345.52" y="60.77" width="0.9" height="0.9" fill="#2c9c2c"/>
<rect x="292.26" y="110.49" width="0.9" height="0.9" fill="#2c9c2c"/>
<rect x="291.68" y="112.13" width="0.9" height="0.9" fill="#2c9c2c"/>
<rect x="321.30" y="85.97" width="0.9" height="0.9" fill="#2c9c2c"/>
<rect x="297.41" y="106.52" width="0.9" height="0.9" fill="#2c9c2c"/>
<rect x="303.32" y="102.80" width="0.9" height="0.9" fill="#2c9c2c"/>
<rect x="299.24" y="103.87" width="0.9" height="0.9" fill="#2c9c2c"/>
<rect x="278.10" y="123.95" width="0.9" height="0.9" fill="#2c9c2c"/>
<rect x="290.93" y="110.96" width="0.9" height="0.9" fill="#2c9c2c"/>
<rect x="267.02" y="136.12" width="0.9" height="0.9" fill="#2c9c2c"/>
<rect x="268.92" y="134.17" width="0.9" height="0.9" fill="#2c9c2c"/>
<rect x="295.29" y="115.16" width="0.9" height="0.9" fill="#2c9c2c"/>
<rect x="311.03" y="94.80" width="0.9" height="0.9" fill="#2c9c2c"/>
<rect x="286.10" y="117.42" width="0.9" height="0.9" fill="#2c9c2c"/>
<rect x="265.55" y="135.96" width="0.9" height="0.9" fill="#2c9c2c"/>
<rect x="307.03" y="97.79" width="0.9" height="0.9" fill="#2c9c2c"/>
<rect x="293.20" y="109.16" width="0.9" height="0.9" fill="#2c9c2c"/>
<rect x="299.57" y="103.73" width="0.9" height="0.9" fill="#2c9c2c"/>
<rect x="307.37" y="95.12" width="0.9" height="0.9" fill="#2c9c2c"/>
<rect x="300.20" y="103.81" width="0.9" height="0.9" fill="#2c9c2c"/>
<rect x="279.88" y="123.93" width="0.9" height="0.9" fill="#2c9c2c"/>
<rect x="292.28" y="110.28" width="0.9" height="0.9" fill="#2c9c2c"/>
<rect x="295.85" y="107.34" width="0.9" height="0.9" fill="#2c9c2c"/>
<rect x="303.37" y="98.83" width="0.9" height="0.9" fill="#2c9c2c"/>
<rect x="297.65" y="104.93" width="0.9" height="0.9" fill="#2c9c2c"/>
<rect x="297.84" y="105.36" width="0.9" height="0.9" fill="#2c9c2c"/>
<rect x="274.72" y="128.92" width="0.9" height="0.9" fill="#2c9c2c"/>
<rect x="271.95" y="129.49" width="0.9" height="0.9" fill="#2c9c2c"/>
<rect x="301.11" y="104.00" width="0.9" height="0.9" fill="#2c9c2c"/>
<rect x="308.69" y="99.54" width="0.9" height="0.9" fill="#2c9c2c"/>
<rect x="306.03" y="104.69" width="0.9" height="0.9" fill="#2c9c2c"/>
<rect x="287.12" y="115.94" width="0.9" height="0.9" fill="#2c9c2c"/>
<rect x="295.93" y="106.32" width="0.9" height="0.9" fill="#2c9c2c"/>
<rect x="289.22" y="114.06" width="0.9" height="0.9" fill="#2c9c2c"/>
<rect x="273.23" y="134.02" width="0.9" height="0.9" fill="#2c9c2c"/>
<rect x="297.89" y="107.40" width="0.9" height="0.9" fill="#2c9c2c"/>
<rect x="313.68" y="91.50" width="0.9" height="0.9" fill="#2c9c2c"/>
<rect x="270.91" y="136.64" width="0.9" height="0.9" fill="#2c9c2c"/>
<rect x="276.14" y="126.86" width="0.9" height="0.9" fill="#2c9c2c"/>
<rect x="268.36" y="133.67" width="0.9" height="0.9" fill="#2c9c2c"/>
<rect x="271.99" y="135.83" width="0.9" height="0.9" fill="#2c9c2c"/>
<rect x="302.72" y="100.00" width="0.9" height="0.9" fill="#2c9c2c"/>
<rect x="273.51" y="128.75" width="0.9" height="0.9" fill="#2c9c2c"/>
<rect x="284.98" y="122.02" width="0.9" height="0.9" fill="#2c9c2c"/>
<rect x="311.58" y="91.77" width="0.9" height="0.9" fill="#2c9c2c"/>
<rect x="299.39" y="103.11" width="0.9" height="0.9" fill="#2c9c2c"/>
<rect x="298.51" y="108.91" width="0.9" height="0.9" fill="#2c9c2c"/>
<rect x="328.14" y="75.58" width="0.9" height="0.9" fill="#2c9c2c"/>
<rect x="308.29" y="94.62" width="0.9" height="0.9" fill="#2c9c2c"/>
<rect x="290.32" y="115.22" width="0.9" height="0.9" fill="#2c9c2c"/>
<rect x="292.47" y="109.48" width="0.9" height="0.9" fill="#2c9c2c"/>
<rect x="294.98" y="108.33" width="0.9" height="0.9" fill="#2c9c2c"/>
<rect x="308.30" y="97.31" width="0.9" height="0.9" fill="#2c9c2c"/>
<rect x="271.46" y="133.32" width="0.9" height="0.9" fill="#2c9c2c"/>
<rect x="336.07" y="67.77" width="0.9" height="0.9" fill="#2c9c2c"/>
<rect x="311.48" y="93.19" width="0.9" height="0.9" fill="#2c9c2c"/>
<rect x="302.77" y="103.03" width="0.9" height="0.9" fill="#2c9c2c"/>
<rect x="301.28" y="104.67" width="0.9" height="0.9" fill="#2c9c2c"/>
<rect x="312.92" y="92.89" width="0.9" height="0.9" fill="#2c9c2c"/>
<rect x="317.28" y="86.77" width="0.9" height="0.9" fill="#2c9c2c"/>
<rect x="298.87" y="110.83" width="0.9" height="0.9" fill="#2c9c2c"/>
<rect x="306.33" y="96.39" width="0.9" height="0.9" fill="#2c9c2c"/>
<rect x="322.71" y="81.97" width="0.9" height="0.9" fill="#2c9c2c"/>
<rect x="312.63" y="90.30" width="0.9" height="0.9" fill="#2c9c2c"/>
<rect x="282.57" y="129.03" width="0.9" height="0.9" fill="#2c9c2c"/>
<rect x="314.65" y="94.24" width="0.9" height="0.9" fill="#2c9c2c"/>
<rect x="293.26" y="110.97" width="0.9" height="0.9" fill="#2c9c2c"/>
<rect x="278.76" y="124.89" width="0.9" height="0.9" fill="#2c9c2c"/>
<rect x="307.06" y="96.37" width="0.9" height="0.9" fill="#2c9c2c"/>
<rect x="312.17" y="92.41" width="0.9" height="0.9" fill="#2c9c2c"/>
<rect x="309.48" y="93.75" width="0.9" height="0.9" fill="#2c9c2c"/>
<rect x="309.75" y="93.87" width="0.9" height="0.9" fill="#2c9c2c"/>
<rect x="333.17" y="70.51" width="0.9" height="0.9" fill="#2c9c2c"/>
<rect x="285.96" y="117.48" width="0.9" height="0.9" fill="#2c9c2c"/>
<rect x="292.10" y="112.47" width="0.9" height="0.9" fill="#2c9c2c"/>
<rect x="311.36" y="91.64" width="0.9" height="0.9" fill="#2c9c2c"/>
<rect x="298.75" y="103.64" width="0.9" height="0.9" fill="#2c9c2c"/>
<rect x="279.50" y="124.72" width="0.9" height="0.9" fill="#2c9c2c"/>
<rect x="286.22" y="115.76" width="0.9" height="0.9" fill="#2c9c2c"/>
<rect x="321.27" y="82.15" width="0.9" height="0.9" fill="#2c9c2c"/>
<rect x="298.37" y="104.77" width="0.9" height="0.9" fill="#2c9c2c"/>
<rect x="269.61" y="133.52" width="0.9" height="0.9" fill="#2c9c2c"/>
<rect x="266.04" y="136.80" width="0.9" height="0.9" fill="#2c9c2c"/>
<rect x="319.86" y="86.18" width="0.9" height="0.9" fill="#2c9c2c"/>
<rect x="292.74" y="110.87" width="0.9" height="0.9" fill="#2c9c2c"/>
<rect x="268.01" y="134.95" width="0.9" height="0.9" fill="#2c9c2c"/>
<rect x="304.03" y="106.51" width="0.9" height="0.9" fill="#2c9c2c"/>
<rect x="269.43" y="134.19" width="0.9" height="0.9" fill="#2c9c2c"/>
<rect x="282.13" y="120.01" width="0.9" height="0.9" fill="#2c9c2c"/>
<rect x="271.93" y="130.25" width="0.9" height="0.9" fill="#2c9c2c"/>
<rect x="300.39" y="103.67" width="0.9" height="0.9" fill="#2c9c2c"/>
<rect x="281.01" y="126.37" width="0.9" height="0.9" fill="#2c9c2c"/>
<rect x="290.84" y="112.36" width="0.9" height="0.9" fill="#2c9c2c"/>
<rect x="298.94" y="107.30" width="0.9" height="0.9" fill="#2c9c2c"/>
<rect x="299.83" y="102.56" width="0.9" height="0.9" fill="#2c9c2c"/>
<rect x="302.44" y="99.95" width="0.9" height="0.9" fill="#2c9c2c"/>
<rect x="273.04" y="135.75" width="0.9" height="0.9" fill="#2c9c2c"/>
<rect x="339.16" y="66.75" width="0.9" height="0.9" fill="#2c9c2c"/>
<rect x="315.91" y="89.82" width="0.9" height="0.9" fill="#2c9c2c"/>
<rect x="277.47" y="124.49" width="0.9" height="0.9" fill="#2c9c2c"/>
<rect x="273.61" y="129.89" width="0.9" height="0.9" fill="#2c9c2c"/>
<rect x="296.30" y="112.13" width="0.9" height="0.9" fill="#2c9c2c"/>
<rect x="316.86" y="86.01" width="0.9" height="0.9" fill="#2c9c2c"/>
<rect x="272.25" y="137.78" width="0.9" height="0.9" fill="#2c9c2c"/>
<rect x="300.46" y="102.30" width="0.9" height="0.9" fill="#2c9c2c"/>
<rect x="282.38" y="119.92" width="0.9" height="0.9" fill="#2c9c2c"/>
<rect x="313.09" y="96.05" width="0.9" height="0.9" fill="#2c9c2c"/>
<rect x="281.14" y="129.86" width="0.9" height="0.9" fill="#2c9c2c"/>
<rect x="295.61" y="117.67" width="0.9" height="0.9" fill="#2c9c2c"/>
<rect x="278.26" y="131.91" width="0.9" height="0.9" fill="#2c9c2c"/>
<rect x="281.71" y="121.57" width="0.9" height="0.9" fill="#2c9c2c"/>
<rect x="287.92" y="115.71" width="0.9" height="0.9" fill="#2c9c2c"/>
<rect x="296.96" y="107.41" width="0.9" height="0.9" fill="#2c9c2c"/>
<rect x="324.55" y="79.34" width="0.9" height="0.9" fill="#2c9c2c"/>
<rect x="295.68" y="110.43" width="0.9" height="0.9" fill="#2c9c2c"/>
<rect x="265.29" y="136.40" width="0.9" height="0.9" fill="#2c9c2c"/>
<rect x="300.39" y="106.24" width="0.9" height="0.9" fill="#2c9c2c"/>
<rect x="317.64" y="86.55" width="0.9" height="0.9" fill="#2c9c2c"/>
<rect x="307.54" y="95.73" width="0.9" height="0.9" fill="#2c9c2c"/>
<rect x="327.95" y="78.94" width="0.9" height="0.9" fill="#2c9c2c"/>
<rect x="282.29" y="119.82" width="0.9" height="0.9" fill="#2c9c2c"/>
<rect x="298.95" y="103.92" width="0.9" height="0.9" fill="#2c9c2c"/>
<rect x="305.21" y="97.21" width="0.9" height="0.9" fill="#2c9c2c"/>
<rect x="324.12" y="80.94" width="0.9" height="0.9" fill="#2c9c2c"/>
<rect x="273.59" y="131.92" width="0.9" height="0.9" fill="#2c9c2c"/>
<rect x="299.09" y="107.42" width="0.9" height="0.9" fill="#2c9c2c"/>
<rect x="286.38" y="116.93" width="0.9" height="0.9" fill="#2c9c2c"/>
<rect x="299.32" y="105.02" width="0.9" height="0.9" fill="#2c9c2c"/>
<rect x="342.29" y="66.61" width="0.9" height="0.9" fill="#2c9c2c"/>
<rect x="271.90" y="133.73" width="0.9" height="0.9" fill="#2c9c2c"/>
<rect x="313.62" y="92.93" width="0.9" height="0.9" fill="#2c9c2c"/>
<rect x="289.58" y="112.92" width="0.9" height="0.9" fill="#2c9c2c"/>
<rect x="290.62" y="115.99" width="0.9" height="0.9" fill="#2c9c2c"/>
<rect x="267.79" y="133.63" width="0.9" height="0.9" fill="#2c9c2c"/>
<rect x="292.31" y="110.83" width="0.9" height="0.9" fill="#2c9c2c"/>
<rect x="303.42" y="106.60" width="0.9" height="0.9" fill="#2c9c2c"/>
<rect x="297.04" y="110.64" width="0.9" height="0.9" fill="#2c9c2c"/>
<rect x="306.59" y="106.51" width="0.9" height="0.9" fill="#2c9c2c"/>
<rect x="295.56" y="121.13" width="0.9" height="0.9" fill="#2c9c2c"/>
<rect x="272.12" y="133.44" width="0.9" height="0.9" fill="#2c9c2c"/>
<rect x="287.36" y="115.37" width="0.9" height="0.9" fill="#2c9c2c"/>
<rect x="347.73" y="59.71" width="0.9" height="0.9" fill="#2c9c2c"/>
<rect x="272.47" y="129.47" width="0.9" height="0.9" fill="#2c9c2c"/>
<rect x="307.10" y="95.31" width="0.9" height="0.9" fill="#2c9c2c"/>
<rect x="295.34" y="109.73" width="0.9" height="0.9" fill="#2c9c2c"/>
<rect x="299.01" y="106.66" width="0.9" height="0.9" fill="#2c9c2c"/>
<rect x="276.30" y="127.16" width="0.9" height="0.9" fill="#2c9c2c"/>
<rect x="300.52" y="105.09" width="0.9" height="0.9" fill="#2c9c2c"/>
<rect x="270.19" y="134.43" width="0.9" height="0.9" fill="#2c9c2c"/>
<rect x="290.37" y="111.57" width="0.9" height="0.9" fill="#2c9c2c"/>
<rect x="288.29" y="115.80" width="0.9" height="0.9" fill="#2c9c2c"/>
<rect x="268.33" y="133.04" width="0.9" height="0.9" fill="#2c9c2c"/>
<rect x="288.48" y="113.68" width="0.9" height="0.9" fill="#2c9c2c"/>
<rect x="306.92" y="98.22" width="0.9" height="0.9" fill="#2c9c2c"/>
<rect x="301.10" y="104.97" width="0.9" height="0.9" fill="#2c9c2c"/>
<rect x="283.50" y="121.47" width="0.9" height="0.9" fill="#2c9c2c"/>
<rect x="325.84" y="78.94" width="0.9" height="0.9" fill="#2c9c2c"/>
<rect x="297.00" y="106.34" width="0.9" height="0.9" fill="#2c9c2c"/>
<rect x="272.75" y="132.56" width="0.9" height="0.9" fill="#2c9c2c"/>
<rect x="329.10" y="73.91" width="0.9" height="0.9" fill="#2c9c2c"/>
<rect x="279.28" y="124.17" width="0.9" height="0.9" fill="#2c9c2c"/>
<rect x="288.18" y="113.79" width="0.9" height="0.9" fill="#2c9c2c"/>
<rect x="291.53" y="110.43" width="0.9" height="0.9" fill="#2c9c2c"/>
<rect x="268.27" y="134.02" width="0.9" height="0.9" fill="#2c9c2c"/>
<rect x="306.05" y="98.98" width="0.9" height="0.9" fill="#2c9c2c"/>
<rect x="292.63" y="110.80" width="0.9" height="0.9" fill="#2c9c2c"/>
<rect x="279.25" y="122.69" width="0.9" height="0.9" fill="#2c9c2c"/>
<rect x="280.89" y="120.98" width="0.9" height="0.9" fill="#2c9c2c"/>
<rect x="289.70" y="112.83" width="0.9" height="0.9" fill="#2c9c2c"/>
<rect x="280.10" y="124.26" width="0.9" height="0.9" fill="#2c9c2c"/>
<rect x="271.95" y="130.14" width="0.9" height="0.9" fill="#2c9c2c"/>
<rect x="295.08" y="107.15" width="0.9" height="0.9" fill="#2c9c2c"/>
<rect x="324.85" y="79.27" width="0.9" height="0.9" fill="#2c9c2c"/>
<rect x="297.95" y="104.86" width="0.9" height="0.9" fill="#2c9c2c"/>
<rect x="292.76" y="110.31" width="0.9" height="0.9" fill="#2c9c2c"/>
<rect x="318.95" y="83.90" width="0.9" height="0.9" fill="#2c9c2c"/>
<rect x="328.75" y="77.88" width="0.9" height="0.9" fill="#2c9c2c"/>
<rect x="324.64" y="86.91" width="0.9" height="0.9" fill="#2c9c2c"/>
<rect x="280.24" y="121.98" width="0.9" height="0.9" fill="#2c9c2c"/>
<rect x="302.14" y="101.19" width="0.9" height="0.9" fill="#2c9c2c"/>
<rect x="297.41" y="107.50" width="0.9" height="0.9" fill="#2c9c2c"/>
<rect x="303.34" y="103.75" width="0.9" height="0.9" fill="#2c9c2c"/>
<rect x="318.01" y="85.66" width="0.9" height="0.9" fill="#2c9c2c"/>
<rect x="285.62" y="117.35" width="0.9" height="0.9" fill="#2c9c2c"/>
<rect x="311.59" y="91.73" width="0.9" height="0.9" fill="#2c9c2c"/>
<rect x="328.86" y="79.21" width="0.9" height="0.9" fill="#2c9c2c"/>
<rect x="269.60" y="135.91" width="0.9" height="0.9" fill="#2c9c2c"/>
<rect x="305.80" y="98.17" width="0.9" height="0.9" fill="#2c9c2c"/>
<rect x="322.32" y="82.23" width="0.9" height="0.9" fill="#2c9c2c"/>
<rect x="274.70" y="127.99" width="0.9" height="0.9" fill="#2c9c2c"/>
<rect x="306.49" y="95.94" width="0.9" height="0.9" fill="#2c9c2c"/>
<rect x="322.15" y="80.61" width="0.9" height="0.9" fill="#2c9c2c"/>
<rect x="310.99" y="91.71" width="0.9" height="0.9" fill="#2c9c2c"/>
<rect x="313.41" y="92.54" width="0.9" height="0.9" fill="#2c9c2c"/>
<rect x="285.36" y="117.83" width="0.9" height="0.9" fill="#2c9c2c"/>
<rect x="293.01" y="114.81" width="0.9" height="0.9" fill="#2c9c2c"/>
<rect x="289.72" y="112.66" width="0.9" height="0.9" fill="#2c9c2c"/>
<rect x="293.37" y="111.00" width="0.9" height="0.9" fill="#2c9c2c"/>
<rect x="294.07" y="108.31" width="0.9" height="0.9" fill="#2c9c2c"/>
<rect x="272.39" y="131.56" width="0.9" height="0.9" fill="#2c9c2c"/>
<rect x="273.31" y="132.95" width="0.9" height="0.9" fill="#2c9c2c"/>
<rect x="302.30" y="100.73" width="0.9" height="0.9" fill="#2c9c2c"/>
<rect x="271.70" y="130.25" width="0.9" height="0.9" fill="#2c9c2c"/>
<rect x="305.08" y="97.64" width="0.9" height="0.9" fill="#2c9c2c"/>
<rect x="291.06" y="111.85" width="0.9" height="0.9" fill="#2c9c2c"/>
<rect x="302.52" y="104.61" width="0.9" height="0.9" fill="#2c9c2c"/>
<rect x="293.23" y="110.75" width="0.9" height="0.9" fill="#2c9c2c"/>
<rect x="272.74" y="132.64" width="0.9" height="0.9" fill="#2c9c2c"/>
<rect x="293.78" y="108.62" width="0.9" height="0.9" fill="#2c9c2c"/>
<rect x="298.85" y="105.41" width="0.9" height="0.9" fill="#2c9c2c"/>
<rect x="311.70" y="96.77" width="0.9" height="0.9" fill="#2c9c2c"/>
<rect x="290.76" y="115.38" width="0.9" height="0.9" fill="#2c9c2c"/>
<rect x="311.39" y="95.26" width="0.9" height="0.9" fill="#2c9c2c"/>
<rect x="295.77" y="109.87" width="0.9" height="0.9" fill="#2c9c2c"/>
<rect x="350.08" y="52.30" width="0.9" height="0.9" fill="#2c9c2c"/>
<rect x="307.48" y="96.93" width="0.9" height="0.9" fill="#2c9c2c"/>
<rect x="317.12" y="85.99" width="0.9" height="0.9" fill="#2c9c2c"/>
<rect x="294.83" y="111.60" width="0.9" height="0.9" fill="#2c9c2c"/>
<rect x="296.75" y="106.37" width="0.9" height="0.9" fill="#2c9c2c"/>
<rect x="311.28" y="93.00" width="0.9" height="0.9" fill="#2c9c2c"/>
<rect x="327.97" y="79.87" width="0.9" height="0.9" fill="#2c9c2c"/>
<rect x="303.79" y="98.44" width="0.9" height="0.9" fill="#2c9c2c"/>
<rect x="342.98" y="63.06" width="0.9" height="0.9" fill="#2c9c2c"/>
<rect x="288.55" y="115.80" width="0.9" height="0.9" fill="#2c9c2c"/>
<rect x="301.26" y="104.06" width="0.9" height="0.9" fill="#2c9c2c"/>
<rect x="280.00" y="123.38" width="0.9" height="0.9" fill="#2c9c2c"/>
<rect x="305.78" y="103.59" width="0.9" height="0.9" fill="#2c9c2c"/>
<rect x="273.32" y="129.06" width="0.9" height="0.9" fill="#2c9c2c"/>
<rect x="296.18" y="110.09" width="0.9" height="0.9" fill="#2c9c2c"/>
<rect x="309.27" y="99.81" width="0.9" height="0.9" fill="#2c9c2c"/>
<rect x="276.93" y="124.99" width="0.9" height="0.9" fill="#2c9c2c"/>
<rect x="274.35" y="130.15" width="0.9" height="0.9" fill="#2c9c2c"/>
<rect x="271.27" y="130.58" width="0.9" height="0.9" fill="#2c9c2c"/>
<rect x="274.57" y="127.08" width="0.9" height="0.9" fill="#2c9c2c"/>
<rect x="288.16" y="114.95" width="0.9" height="0.9" fill="#2c9c2c"/>
<rect x="283.91" y="119.55" width="0.9" height="0.9" fill="#2c9c2c"/>
<rect x="307.91" y="94.79" width="0.9" height="0.9" fill="#2c9c2c"/>
<rect x="275.98" y="126.05" width="0.9" height="0.9" fill="#2c9c2c"/>
<rect x="285.35" y="116.92" width="0.9" height="0.9" fill="#2c9c2c"/>
<rect x="268.26" y="133.49" width="0.9" height="0.9" fill="#2c9c2c"/>
<rect x="288.75" y="117.88" width="0.9" height="0.9" fill="#2c9c2c"/>
<rect x="282.80" y="119.21" width="0.9" height="0.9" fill="#2c9c2c"/>
<rect x="280.77" y="123.27" width="0.9" height="0.9" fill="#2c9c2c"/>
<rect x="311.42" y="91.62" width="0.9" height="0.9" fill="#2c9c2c"/>
<rect x="321.39" y="94.88" width="0.9" height="0.9" fill="#2c9c2c"/>
<rect x="302.97" y="104.32" width="0.9" height="0.9" fill="#2c9c2c"/>
<rect x="320.22" y="83.11" width="0.9" height="0.9" fill="#2c9c2c"/>
<rect x="323.67" y="80.38" width="0.9" height="0.9" fill="#2c9c2c"/>
<rect x="267.41" y="135.35" width="0.9" height="0.9" fill="#2c9c2c"/>
<rect x="302.00" y="101.11" width="0.9" height="0.9" fill="#2c9c2c"/>
<rect x="278.32" y="124.96" width="0.9" height="0.9" fill="#2c9c2c"/>
<rect x="351.00" y="53.34" width="0.9" height="0.9" fill="#2c9c2c"/>
<rect x="292.74" y="110.68" width="0.9" height="0.9" fill="#2c9c2c"/>
<rect x="285.14" y="116.69" width="0.9" height="0.9" fill="#2c9c2c"/>
<rect x="318.19" y="87.91" width="0.9" height="0.9" fill="#2c9c2c"/>
<rect x="322.17" y="83.22" width="0.9" height="0.9" fill="#2c9c2c"/>
<rect x="302.53" y="100.04" width="0.9" height="0.9" fill="#2c9c2c"/>
<rect x="278.90" y="122.74" width="0.9" height="0.9" fill="#2c9c2c"/>
<rect x="320.64" y="82.49" width="0.9" height="0.9" fill="#2c9c2c"/>
<rect x="281.14" y="122.67" width="0.9" height="0.9" fill="#2c9c2c"/>
<rect x="296.73" y="105.37" width="0.9" height="0.9" fill="#2c9c2c"/>
<rect x="290.83" y="114.25" width="0.9" height="0.9" fill="#2c9c2c"/>
<rect x="283.36" y="120.94" width="0.9" height="0.9" fill="#2c9c2c"/>
<rect x="303.36" y="99.84" width="0.9" height="0.9" fill="#2c9c2c"/>
<rect x="294.16" y="108.33" width="0.9" height="0.9" fill="#2c9c2c"/>
<rect x="270.58" y="132.73" width="0.9" height="0.9" fill="#2c9c2c"/>
<rect x="300.85" y="104.73" width="0.9" height="0.9" fill="#2c9c2c"/>
<rect x="300.38" y="101.91" width="0.9" height="0.9" fill="#2c9c2c"/>
<rect x="293.16" y="114.01" width="0.9" height="0.9" fill="#2c9c2c"/>
<rect x="286.16" y="116.67" width="0.9" height="0.9" fill="#2c9c2c"/>
<rect x="287.64" y="114.65" width="0.9" height="0.9" fill="#2c9c2c"/>
<rect x="305.26" y="100.28" width="0.9" height="0.9" fill="#2c9c2c"/>
<rect x="307.16" y="96.06" width="0.9" height="0.9" fill="#2c9c2c"/>
<rect x="279.40" y="123.18" width="0.9" height="0.9" fill="#2c9c2c"/>
<rect x="273.57" y="129.98" width="0.9" height="0.9" fill="#2c9c2c"/>
<rect x="307.31" y="96.66" width="0.9" height="0.9" fill="#2c9c2c"/>
<rect x="292.49" y="109.44" width="0.9" height="0.9" fill="#2c9c2c"/>
<rect x="297.42" y="105.50" width="0.9" height="0.9" fill="#2c9c2c"/>
<rect x="280.71" y="124.21" width="0.9" height="0.9" fill="#2c9c2c"/>
<rect x="283.50" y="118.52" width="0.9" height="0.9" fill="#2c9c2c"/>
<rect x="309.23" y="98.45" width="0.9" height="0.9" fill="#2c9c2c"/>
<rect x="302.67" y="100.07" width="0.9" height="0.9" fill="#2c9c2c"/>
<rect x="293.80" y="119.49" width="0.9" height="0.9" fill="#2c9c2c"/>
<rect x="303.17" y="100.69" width="0.9" height="0.9" fill="#2c9c2c"/>
<rect x="304.96" y="101.09" width="0.9" height="0.9" fill="#2c9c2c"/>
<rect x="295.26" y="110.59" width="0.9" height="0.9" fill="#2c9c2c"/>
<rect x="277.35" y="126.91" width="0.9" height="0.9" fill="#2c9c2c"/>
<rect x="284.99" y="118.41" width="0.9" height="0.9" fill="#2c9c2c"/>
<rect x="287.97" y="114.65" width="0.9" height="0.9" fill="#2c9c2c"/>
<rect x="328.58" y="75.41" width="0.9" height="0.9" fill="#2c9c2c"/>
<rect x="269.90" y="132.44" width="0.9" height="0.9" fill="#2c9c2c"/>
<rect x="305.15" y="98.84" width="0.9" height="0.9" fill="#2c9c2c"/>
<rect x="314.60" y="93.25" width="0.9" height="0.9" fill="#2c9c2c"/>
<rect x="320.63" y="82.52" width="0.9" height="0.9" fill="#2c9c2c"/>
<rect x="289.00" y="116.00" width="0.9" height="0.9" fill="#2c9c2c"/>
<rect x="301.33" y="101.48" width="0.9" height="0.9" fill="#2c9c2c"/>
<rect x="308.22" y="96.09" width="0.9" height="0.9" fill="#2c9c2c"/>
<rect x="319.47" y="84.58" width="0.9" height="0.9" fill="#2c9c2c"/>
<rect x="266.71" y="135.29" width="0.9" height="0.9" fill="#2c9c2c"/>
<rect x="278.81" y="122.91" width="0.9" height="0.9" fill="#2c9c2c"/>
<rect x="301.75" y="102.28" width="0.9" height="0.9" fill="#2c9c2c"/>
<rect x="273.16" y="128.77" width="0.9" height="0.9" fill="#2c9c2c"/>
<rect x="310.87" y="93.47" width="0.9" height="0.9" fill="#2c9c2c"/>
<rect x="307.80" y="95.79" width="0.9" height="0.9" fill="#2c9c2c"/>
<rect x="312.99" y="94.13" width="0.9" height="0.9" fill="#2c9c2c"/>
<rect x="289.59" y="114.53" width="0.9" height="0.9" fill="#2c9c2c"/>
<rect x="267.35" y="136.19" width="0.9" height="0.9" fill="#2c9c2c"/>
<rect x="279.78" y="122.41" width="0.9" height="0.9" fill="#2c9c2c"/>
<rect x="292.76" y="109.95" width="0.9" height="0.9" fill="#2c9c2c"/>
<rect x="309.07" y="93.58" width="0.9" height="0.9" fill="#2c9c2c"/>
<rect x="313.91" y="99.63" width="0.9" height="0.9" fill="#2c9c2c"/>
<rect x="281.15" y="129.88" width="0.9" height="0.9" fill="#2c9c2c"/>
<rect x="319.00" y="85.48" width="0.9" height="0.9" fill="#2c9c2c"/>
<rect x="296.15" y="110.66" width="0.9" height="0.9" fill="#2c9c2c"/>
<rect x="308.22" y="100.14" width="0.9" height="0.9" fill="#2c9c2c"/>
<rect x="297.04" y="105.79" width="0.9" height="0.9" fill="#2c9c2c"/>
<rect x="303.96" y="99.80" width="0.9" height="0.9" fill="#2c9c2c"/>
<rect x="326.39" y="76.87" width="0.9" height="0.9" fill="#2c9c2c"/>
<rect x="276.49" y="125.36" width="0.9" height="0.9" fill="#2c9c2c"/>
<rect x="303.36" y="99.95" width="0.9" height="0.9" fill="#2c9c2c"/>
<rect x="275.73" y="126.22" width="0.9" height="0.9" fill="#2c9c2c"/>
<rect x="288.39" y="116.00" width="0.9" height="0.9" fill="#2c9c2c"/>
<rect x="289.85" y="112.66" width="0.9" height="0.9" fill="#2c9c2c"/>
<rect x="270.15" y="133.60" width="0.9" height="0.9" fill="#2c9c2c"/>
<rect x="292.31" y="117.87" width="0.9" height="0.9" fill="#2c9c2c"/>
<rect x="266.85" y="134.64" width="0.9" height="0.9" fill="#2c9c2c"/>
<rect x="338.89" y="68.15" width="0.9" height="0.9" fill="#2c9c2c"/>
<rect x="301.00" y="104.22" width="0.9" height="0.9" fill="#2c9c2c"/>
<rect x="270.06" y="132.39" width="0.9" height="0.9" fill="#2c9c2c"/>
<rect x="285.24" y="117.31" width="0.9" height="0.9" fill="#2c9c2c"/>
<rect x="320.81" y="91.88" width="0.9" height="0.9" fill="#2c9c2c"/>
<rect x="302.52" y="101.20" width="0.9" height="0.9" fill="#2c9c2c"/>
<rect x="301.41" y="101.63" width="0.9" height="0.9" fill="#2c9c2c"/>
<rect x="306.00" y="100.79" width="0.9" height="0.9" fill="#2c9c2c"/>
<rect x="286.69" y="116.18" width="0.9" height="0.9" fill="#2c9c2c"/>
<rect x="308.62" y="100.04" width="0.9" height="0.9" fill="#2c9c2c"/>
<rect x="278.06" y="134.73" width="0.9" height="0.9" fill="#2c9c2c"/>
<rect x="276.75" y="132.78" width="0.9" height="0.9" fill="#2c9c2c"/>
<rect x="289.56" y="112.81" width="0.9" height="0.9" fill="#2c9c2c"/>
<rect x="287.89" y="116.67" width="0.9" height="0.9" fill="#2c9c2c"/>
<rect x="314.62" y="90.84" width="0.9" height="0.9" fill="#2c9c2c"/>
<rect x="310.51" y="91.88" width="0.9" height="0.9" fill="#2c9c2c"/>
<rect x="283.52" y="118.60" width="0.9" height="0.9" fill="#2c9c2c"/>
<rect x="269.71" y="136.45" width="0.9" height="0.9" fill="#2c9c2c"/>
<rect x="322.36" y="80.54" width="0.9" height="0.9" fill="#2c9c2c"/>
<rect x="271.63" y="130.17" width="0.9" height="0.9" fill="#2c9c2c"/>
<rect x="294.16" y="111.50" width="0.9" height="0.9" fill="#2c9c2c"/>
<rect x="295.87" y="107.56" width="0.9" height="0.9" fill="#2c9c2c"/>
<rect x="296.30" y="115.89" width="0.9" height="0.9" fill="#2c9c2c"/>
<rect x="277.01" y="125.10" width="0.9" height="0.9" fill="#2c9c2c"/>
<rect x="293.90" y="111.04" width="0.9" height="0.9" fill="#2c9c2c"/>
<rect x="304.84" y="99.16" width="0.9" height="0.9" fill="#2c9c2c"/>
<rect x="330.84" y="75.75" width="0.9" height="0.9" fill="#2c9c2c"/>
<rect x="294.22" y="109.89" width="0.9" height="0.9" fill="#2c9c2c"/>
<rect x="292.83" y="110.17" width="0.9" height="0.9" fill="#2c9c2c"/>
<rect x="268.75" y="134.93" width="0.9" height="0.9" fill="#2c9c2c"/>
<rect x="316.60" y="86.69" width="0.9" height="0.9" fill="#2c9c2c"/>
<rect x="267.36" y="134.62" width="0.9" height="0.9" fill="#2c9c2c"/>
<rect x="290.78" y="111.24" width="0.9" height="0.9" fill="#2c9c2c"/>
<rect x="318.11" y="85.67" width="0.9" height="0.9" fill="#2c9c2c"/>
<rect x="339.62" y="63.36" width="0.9" height="0.9" fill="#2c9c2c"/>
<rect x="284.76" y="118.48" width="0.9" height="0.9" fill="#2c9c2c"/>
<rect x="271.83" y="130.73" width="0.9" height="0.9" fill="#2c9c2c"/>
<rect x="311.74" y="93.00" width="0.9" height="0.9" fill="#2c9c2c"/>
<rect x="285.70" y="118.51" width="0.9" height="0.9" fill="#2c9c2c"/>
<rect x="308.38" y="94.59" width="0.9" height="0.9" fill="#2c9c2c"/>
<rect x="283.47" y="124.97" width="0.9" height="0.9" fill="#2c9c2c"/>
<rect x="301.42" y="102.20" width="0.9" height="0.9" fill="#2c9c2c"/>
<rect x="331.38" y="71.98" width="0.9" height="0.9" fill="#2c9c2c"/>
<rect x="275.96" y="126.48" width="0.9" height="0.9" fill="#2c9c2c"/>
<rect x="276.73" y="124.91" width="0.9" height="0.9" fill="#2c9c2c"/>
<rect x="272.99" y="128.70" width="0.9" height="0.9" fill="#2c9c2c"/>
<rect x="326.96" y="78.63" width="0.9" height="0.9" fill="#2c9c2c"/>
<rect x="299.85" y="102.71" width="0.9" height="0.9" fill="#2c9c2c"/>
<rect x="274.07" y="127.75" width="0.9" height="0.9" fill="#2c9c2c"/>
<rect x="273.32" y="128.28" width="0.9" height="0.9" fill="#2c9c2c"/>
<rect x="269.66" y="137.03" width="0.9" height="0.9" fill="#2c9c2c"/>
<rect x="267.11" y="135.37" width="0.9" height="0.9" fill="#2c9c2c"/>
<rect x="303.90" y="98.55" width="0.9" height="0.9" fill="#2c9c2c"/>
<rect x="289.37" y="113.82" width="0.9" height="0.9" fill="#2c9c2c"/>
<rect x="332.44" y="73.02" width="0.9" height="0.9" fill="#2c9c2c"/>
<rect x="294.35" y="108.68" width="0.9" height="0.9" fill="#2c9c2c"/>
<rect x="272.69" y="129.09" width="0.9" height="0.9" fill="#2c9c2c"/>
<rect x="283.74" y="118.73" width="0.9" height="0.9" fill="#2c9c2c"/>
<rect x="299.52" y="103.09" width="0.9" height="0.9" fill="#2c9c2c"/>
<rect x="294.99" y="111.92" width="0.9" height="0.9" fill="#2c9c2c"/>
<rect x="278.86" y="124.66" width="0.9" height="0.9" fill="#2c9c2c"/>
<rect x="288.19" y="114.79" width="0.9" height="0.9" fill="#2c9c2c"/>
<rect x="272.52" y="129.42" width="0.9" height="0.9" fill="#2c9c2c"/>
<rect x="290.76" y="117.21" width="0.9" height="0.9" fill="#2c9c2c"/>
<rect x="301.69" y="101.48" width="0.9" height="0.9" fill="#2c9c2c"/>
<rect x="281.82" y="119.98" width="0.9" height="0.9" fill="#2c9c2c"/>
<rect x="287.41" y="115.79" width="0.9" height="0.9" fill="#2c9c2c"/>
<rect x="340.10" y="71.02" width="0.9" height="0.9" fill="#2c9c2c"/>
<rect x="292.70" y="110.20" width="0.9" height="0.9" fill="#2c9c2c"/>
<rect x="316.18" y="91.24" width="0.9" height="0.9" fill="#2c9c2c"/>
<rect x="305.96" y="104.44" width="0.9" height="0.9" fill="#2c9c2c"/>
<rect x="278.74" y="124.29" width="0.9" height="0.9" fill="#2c9c2c"/>
<rect x="293.61" y="119.54" width="0.9" height="0.9" fill="#2c9c2c"/>
<rect x="278.70" y="122.98" width="0.9" height="0.9" fill="#2c9c2c"/>
<rect x="284.57" y="117.49" width="0.9" height="0.9" fill="#2c9c2c"/>
<rect x="316.14" y="98.57" width="0.9" height="0.9" fill="#2c9c2c"/>
<rect x="313.43" y="93.61" width="0.9" height="0.9" fill="#2c9c2c"/>
<rect x="345.17" y="61.12" width="0.9" height="0.9" fill="#2c9c2c"/>
<rect x="290.90" y="114.03" width="0.9" height="0.9" fill="#2c9c2c"/>
<rect x="301.21" y="101.03" width="0.9" height="0.9" fill="#2c9c2c"/>
<rect x="301.55" y="101.70" width="0.9" height="0.9" fill="#2c9c2c"/>
<rect x="285.12" y="116.97" width="0.9" height="0.9" fill="#2c9c2c"/>
<rect x="269.03" y="136.38" width="0.9" height="0.9" fill="#2c9c2c"/>
<rect x="337.51" y="65.75" width="0.9" height="0.9" fill="#2c9c2c"/>
<rect x="301.42" y="101.22" width="0.9" height="0.9" fill="#2c9c2c"/>
<rect x="271.19" y="139.50" width="0.9" height="0.9" fill="#2c9c2c"/>
<rect x="339.45" y="63.91" width="0.9" height="0.9" fill="#2c9c2c"/>
<rect x="296.33" y="106.90" width="0.9" height="0.9" fill="#2c9c2c"/>
<rect x="303.88" y="100.26" width="0.9" height="0.9" fill="#2c9c2c"/>
<rect x="279.68" y="124.87" width="0.9" height="0.9" fill="#2c9c2c"/>
<rect x="300.03" y="103.14" width="0.9" height="0.9" fill="#2c9c2c"/>
<rect x="288.50" y="113.44" width="0.9" height="0.9" fill="#2c9c2c"/>
<rect x="285.31" y="118.11" width="0.9" height="0.9" fill="#2c9c2c"/>
<rect x="314.11" y="91.33" width="0.9" height="0.9" fill="#2c9c2c"/>
<rect x="275.41" y="130.80" width="0.9" height="0.9" fill="#2c9c2c"/>
<rect x="291.78" y="110.52" width="0.9" height="0.9" fill="#2c9c2c"/>
<rect x="297.33" y="108.02" width="0.9" height="0.9" fill="#2c9c2c"/>
<rect x="270.10" y="131.98" width="0.9" height="0.9" fill="#2c9c2c"/>
<rect x="266.12" y="135.83" width="0.9" height="0.9" fill="#2c9c2c"/>
<rect x="307.90" y="106.83" width="0.9" height="0.9" fill="#2c9c2c"/>
<rect x="322.03" y="80.94" width="0.9" height="0.9" fill="#2c9c2c"/>
<rect x="278.98" y="122.74" width="0.9" height="0.9" fill="#2c9c2c"/>
<rect x="301.34" y="102.38" width="0.9" height="0.9" fill="#2c9c2c"/>
<rect x="268.72" y="132.87" width="0.9" height="0.9" fill="#2c9c2c"/>
<rect x="268.87" y="132.93" width="0.9" height="0.9" fill="#2c9c2c"/>
<rect x="269.54" y="132.78" width="0.9" height="0.9" fill="#2c9c2c"/>
<rect x="280.12" y="123.38" width="0.9" height="0.9" fill="#2c9c2c"/>
<rect x="343.33" y="59.94" width="0.9" height="0.9" fill="#2c9c2c"/>
<rect x="279.11" y="123.14" width="0.9" height="0.9" fill="#2c9c2c"/>
<rect x="337.32" y="69.33" width="0.9" height="0.9" fill="#2c9c2c"/>
<rect x="285.18" y="116.76" width="0.9" height="0.9" fill="#2c9c2c"/>
<rect x="302.69" y="103.20" width="0.9" height="0.9" fill="#2c9c2c"/>
<rect x="328.58" y="75.41" width="0.9" height="0.9" fill="#2c9c2c"/>
<rect x="291.21" y="115.46" width="0.9" height="0.9" fill="#2c9c2c"/>
<rect x="268.90" y="135.60" width="0.9" height="0.9" fill="#2c9c2c"/>
<rect x="307.49" y="94.81" width="0.9" height="0.9" fill="#2c9c2c"/>
<rect x="274.98" y="127.00" width="0.9" height="0.9" fill="#2c9c2c"/>
<rect x="300.54" y="103.92" width="0.9" height="0.9" fill="#2c9c2c"/>
<rect x="304.00" y="101.73" width="0.9" height="0.9" fill="#2c9c2c"/>
<rect x="311.18" y="92.72" width="0.9" height="0.9" fill="#2c9c2c"/>
<rect x="283.25" y="118.92" width="0.9" height="0.9" fill="#2c9c2c"/>
<rect x="278.49" y="124.29" width="0.9" height="0.9" fill="#2c9c2c"/>
<rect x="300.93" y="102.50" width="0.9" height="0.9" fill="#2c9c2c"/>
<rect x="291.22" y="112.05" width="0.9" height="0.9" fill="#2c9c2c"/>
<rect x="322.97" y="80.31" width="0.9" height="0.9" fill="#2c9c2c"/>
<rect x="290.36" y="113.44" width="0.9" height="0.9" fill="#2c9c2c"/>
<rect x="285.62" y="120.63" width="0.9" height="0.9" fill="#2c9c2c"/>
<rect x="267.97" y="134.96" width="0.9" height="0.9" fill="#2c9c2c"/>
<rect x="277.03" y="131.41" width="0.9" height="0.9" fill="#2c9c2c"/>
<rect x="283.72" y="120.35" width="0.9" height="0.9" fill="#2c9c2c"/>
<rect x="269.14" y="132.70" width="0.9" height="0.9" fill="#2c9c2c"/>
<rect x="301.73" y="106.98" width="0.9" height="0.9" fill="#2c9c2c"/>
<rect x="293.50" y="110.44" width="0.9" height="0.9" fill="#2c9c2c"/>
<rect x="281.32" y="121.68" width="0.9" height="0.9" fill="#2c9c2c"/>
<rect x="299.90" y="103.26" width="0.9" height="0.9" fill="#2c9c2c"/>
<rect x="309.17" y="94.08" width="0.9" height="0.9" fill="#2c9c2c"/>
<rect x="324.03" y="82.20" width="0.9" height="0.9" fill="#2c9c2c"/>
<rect x="303.55" y="101.41" width="0.9" height="0.9" fill="#2c9c2c"/>
<rect x="299.69" y="103.07" width="0.9" height="0.9" fill="#2c9c2c"/>
<rect x="292.11" y="114.75" width="0.9" height="0.9" fill="#2c9c2c"/>
<rect x="283.76" y="124.23" width="0.9" height="0.9" fill="#2c9c2c"/>
<rect x="293.42" y="111.73" width="0.9" height="0.9" fill="#2c9c2c"/>
<rect x="292.93" y="112.35" width="0.9" height="0.9" fill="#2c9c2c"/>
<rect x="270.13" y="132.89" width="0.9" height="0.9" fill="#2c9c2c"/>
<rect x="283.34" y="118.79" width="0.9" height="0.9" fill="#2c9c2c"/>
<rect x="289.10" y="124.19" width="0.9" height="0.9" fill="#2c9c2c"/>
<rect x="278.41" y="123.24" width="0.9" height="0.9" fill="#2c9c2c"/>
<rect x="298.84" y="110.34" width="0.9" height="0.9" fill="#2c9c2c"/>
<rect x="299.75" y="103.10" width="0.9" height="0.9" fill="#2c9c2c"/>
<rect x="281.14" y="121.37" width="0.9" height="0.9" fill="#2c9c2c"/>
<rect x="317.13" y="89.67" width="0.9" height="0.9" fill="#2c9c2c"/>
<rect x="317.38" y="85.72" width="0.9" height="0.9" fill="#2c9c2c"/>
<rect x="308.65" y="96.50" width="0.9" height="0.9" fill="#2c9c2c"/>
<rect x="272.70" y="133.41" width="0.9" height="0.9" fill="#2c9c2c"/>
<rect x="308.66" y="95.03" width="0.9" height="0.9" fill="#2c9c2c"/>
<rect x="275.84" y="126.92" width="0.9" height="0.9" fill="#2c9c2c"/>
<rect x="290.84" y="112.78" width="0.9" height="0.9" fill="#2c9c2c"/>
<rect x="327.65" y="82.26" width="0.9" height="0.9" fill="#2c9c2c"/>
<rect x="285.09" y="119.36" width="0.9" height="0.9" fill="#2c9c2c"/>
<rect x="272.54" y="131.82" width="0.9" height="0.9" fill="#2c9c2c"/>
<rect x="271.46" y="131.73" width="0.9" height="0.9" fill="#2c9c2c"/>
<rect x="302.40" y="101.03" width="0.9" height="0.9" fill="#2c9c2c"/>
<rect x="322.20" y="81.56" width="0.9" height="0.9" fill="#2c9c2c"/>
<rect x="298.10" y="107.31" width="0.9" height="0.9" fill="#2c9c2c"/>
<rect x="271.95" y="132.57" width="0.9" height="0.9" fill="#2c9c2c"/>
<rect x="285.45" y="117.39" width="0.9" height="0.9" fill="#2c9c2c"/>
<rect x="276.12" y="130.32" width="0.9" height="0.9" fill="#2c9c2c"/>
<rect x="293.34" y="109.21" width="0.9" height="0.9" fill="#2c9c2c"/>
<rect x="304.90" y="98.05" width="0.9" height="0.9" fill="#2c9c2c"/>
<rect x="282.83" y="125.50" width="0.9" height="0.9" fill="#2c9c2c"/>
<rect x="316.41" y="91.27" width="0.9" height="0.9" fill="#2c9c2c"/>
<rect x="302.02" y="101.89" width="0.9" height="0.9" fill="#2c9c2c"/>
<rect x="315.09" y="87.85" width="0.9" height="0.9" fill="#2c9c2c"/>
<rect x="268.96" y="133.84" width="0.9" height="0.9" fill="#2c9c2c"/>
<rect x="292.18" y="111.68" width="0.9" height="0.9" fill="#2c9c2c"/>
<rect x="318.63" y="92.85" width="0.9" height="0.9" fill="#2c9c2c"/>
<rect x="316.65" y="86.64" width="0.9" height="0.9" fill="#2c9c2c"/>
<rect x="279.27" y="122.84" width="0.9" height="0.9" fill="#2c9c2c"/>
<rect x="282.15" y="122.67" width="0.9" height="0.9" fill="#2c9c2c"/>
<rect x="319.65" y="83.90" width="0.9" height="0.9" fill="#2c9c2c"/>
<rect x="312.54" y="92.65" width="0.9" height="0.9" fill="#2c9c2c"/>
<rect x="271.80" y="135.30" width="0.9" height="0.9" fill="#2c9c2c"/>
<rect x="294.76" y="109.89" width="0.9" height="0.9" fill="#2c9c2c"/>
<rect x="284.78" y="123.11" width="0.9" height="0.9" fill="#2c9c2c"/>
<rect x="307.30" y="98.70" width="0.9" height="0.9" fill="#2c9c2c"/>
<rect x="356.18" y="45.54" width="0.9" height="0.9" fill="#2c9c2c"/>
<rect x="301.98" y="101.22" width="0.9" height="0.9" fill="#2c9c2c"/>
<rect x="280.32" y="121.69" width="0.9" height="0.9" fill="#2c9c2c"/>
<rect x="291.37" y="111.84" width="0.9" height="0.9" fill="#2c9c2c"/>
<rect x="283.74" y="121.52" width="0.9" height="0.9" fill="#2c9c2c"/>
<rect x="306.13" y="98.79" width="0.9" height="0.9" fill="#2c9c2c"/>
<rect x="270.62" y="132.10" width="0.9" height="0.9" fill="#2c9c2c"/>
<rect x="276.80" y="126.87" width="0.9" height="0.9" fill="#2c9c2c"/>
<rect x="326.53" y="77.61" width="0.9" height="0.9" fill="#2c9c2c"/>
<rect x="315.02" y="87.54" width="0.9" height="0.9" fill="#2c9c2c"/>
<rect x="290.85" y="113.21" width="0.9" height="0.9" fill="#2c9c2c"/>
<rect x="278.30" y="125.88" width="0.9" height="0.9" fill="#2c9c2c"/>
<rect x="274.42" y="128.16" width="0.9" height="0.9" fill="#2c9c2c"/>
<rect x="281.85" y="123.57" width="0.9" height="0.9" fill="#2c9c2c"/>
<rect x="327.08" y="75.86" width="0.9" height="0.9" fill="#2c9c2c"/>
<rect x="277.41" y="125.25" width="0.9" height="0.9" fill="#2c9c2c"/>
<rect x="270.08" y="131.48" width="0.9" height="0.9" fill="#2c9c2c"/>
<rect x="301.67" y="113.27" width="0.9" height="0.9" fill="#2c9c2c"/>
<rect x="269.00" y="139.81" width="0.9" height="0.9" fill="#2c9c2c"/>
<rect x="319.24" y="85.42" width="0.9" height="0.9" fill="#2c9c2c"/>
<rect x="267.72" y="133.76" width="0.9" height="0.9" fill="#2c9c2c"/>
<rect x="267.35" y="137.25" width="0.9" height="0.9" fill="#2c9c2c"/>
<rect x="288.83" y="113.50" width="0.9" height="0.9" fill="#2c9c2c"/>
<rect x="300.26" y="102.98" width="0.9" height="0.9" fill="#2c9c2c"/>
<rect x="290.08" y="114.86" width="0.9" height="0.9" fill="#2c9c2c"/>
<rect x="276.61" y="128.77" width="0.9" height="0.9" fill="#2c9c2c"/>
<rect x="287.87" y="114.91" width="0.9" height="0.9" fill="#2c9c2c"/>
<rect x="288.61" y="116.93" width="0.9" height="0.9" fill="#2c9c2c"/>
<rect x="288.85" y="123.12" width="0.9" height="0.9" fill="#2c9c2c"/>
<rect x="292.03" y="110.69" width="0.9" height="0.9" fill="#2c9c2c"/>
<rect x="291.80" y="112.35" width="0.9" height="0.9" fill="#2c9c2c"/>
<rect x="315.40" y="90.14" width="0.9" height="0.9" fill="#2c9c2c"/>
<rect x="267.34" y="138.53" width="0.9" height="0.9" fill="#2c9c2c"/>
<rect x="277.32" y="127.77" width="0.9" height="0.9" fill="#2c9c2c"/>
<rect x="293.38" y="111.57" width="0.9" height="0.9" fill="#2c9c2c"/>
<rect x="314.31" y="90.80" width="0.9" height="0.9" fill="#2c9c2c"/>
<rect x="309.34" y="94.55" width="0.9" height="0.9" fill="#2c9c2c"/>
<rect x="287.68" y="114.34" width="0.9" height="0.9" fill="#2c9c2c"/>
<rect x="303.32" y="100.44" width="0.9" height="0.9" fill="#2c9c2c"/>
<rect x="303.04" y="103.98" width="0.9" height="0.9" fill="#2c9c2c"/>
<rect x="287.25" y="117.82" width="0.9" height="0.9" fill="#2c9c2c"/>
<rect x="275.50" y="126.56" width="0.9" height="0.9" fill="#2c9c2c"/>
<rect x="293.00" y="109.02" width="0.9" height="0.9" fill="#2c9c2c"/>
<rect x="265.81" y="136.84" width="0.9" height="0.9" fill="#2c9c2c"/>
<rect x="279.87" y="130.51" width="0.9" height="0.9" fill="#2c9c2c"/>
<rect x="306.96" y="96.05" width="0.9" height="0.9" fill="#2c9c2c"/>
<rect x="293.00" y="127.53" width="0.9" height="0.9" fill="#2c9c2c"/>
<rect x="280.33" y="124.87" width="0.9" height="0.9" fill="#2c9c2c"/>
<rect x="290.01" y="114.84" width="0.9" height="0.9" fill="#2c9c2c"/>
<rect x="281.12" y="121.84" width="0.9" height="0.9" fill="#2c9c2c"/>
<rect x="288.41" y="114.80" width="0.9" height="0.9" fill="#2c9c2c"/>
<rect x="285.50" y="120.84" width="0.9" height="0.9" fill="#2c9c2c"/>
<rect x="302.32" y="105.77" width="0.9" height="0.9" fill="#2c9c2c"/>
<rect x="301.30" y="102.38" width="0.9" height="0.9" fill="#2c9c2c"/>
<rect x="276.99" y="126.66" width="0.9" height="0.9" fill="#2c9c2c"/>
<rect x="280.51" y="121.19" width="0.9" height="0.9" fill="#2c9c2c"/>
<rect x="317.25" y="88.47" width="0.9" height="0.9" fill="#2c9c2c"/>
<rect x="313.58" y="89.25" width="0.9" height="0.9" fill="#2c9c2c"/>
<rect x="308.09" y="103.12" width="0.9" height="0.9" fill="#2c9c2c"/>
<rect x="271.07" y="130.41" width="0.9" height="0.9" fill="#2c9c2c"/>
<rect x="303.97" y="99.63" width="0.9" height="0.9" fill="#2c9c2c"/>
<rect x="285.32" y="126.98" width="0.9" height="0.9" fill="#2c9c2c"/>
<rect x="302.03" y="102.43" width="0.9" height="0.9" fill="#2c9c2c"/>
<rect x="279.64" y="123.71" width="0.9" height="0.9" fill="#2c9c2c"/>
<rect x="278.50" y="126.76" width="0.9" height="0.9" fill="#2c9c2c"/>
<rect x="301.16" y="101.33" width="0.9" height="0.9" fill="#2c9c2c"/>
<rect x="297.53" y="105.20" width="0.9" height="0.9" fill="#2c9c2c"/>
<rect x="275.04" y="126.85" width="0.9" height="0.9" fill="#2c9c2c"/>
<rect x="316.00" y="88.28" width="0.9" height="0.9" fill="#2c9c2c"/>
<rect x="284.73" y="122.39" width="0.9" height="0.9" fill="#2c9c2c"/>
<rect x="308.42" y="100.87" width="0.9" height="0.9" fill="#2c9c2c"/>
<rect x="269.22" y="134.88" width="0.9" height="0.9" fill="#2c9c2c"/>
<rect x="281.54" y="120.77" width="0.9" height="0.9" fill="#2c9c2c"/>
<rect x="277.90" y="123.71" width="0.9" height="0.9" fill="#2c9c2c"/>
<rect x="299.58" y="104.56" width="0.9" height="0.9" fill="#2c9c2c"/>
<rect x="307.49" y="95.20" width="0.9" height="0.9" fill="#2c9c2c"/>
<rect x="283.83" y="118.90" width="0.9" height="0.9" fill="#2c9c2c"/>
<rect x="287.85" y="121.28" width="0.9" height="0.9" fill="#2c9c2c"/>
<rect x="279.82" y="122.21" width="0.9" height="0.9" fill="#2c9c2c"/>
<rect x="335.39" y="70.08" width="0.9" height="0.9" fill="#2c9c2c"/>
<rect x="305.77" y="99.74" width="0.9" height="0.9" fill="#2c9c2c"/>
<rect x="277.22" y="126.91" width="0.9" height="0.9" fill="#2c9c2c"/>
<rect x="268.60" y="133.37" width="0.9" height="0.9" fill="#2c9c2c"/>
<rect x="302.06" y="101.34" width="0.9" height="0.9" fill="#2c9c2c"/>
<rect x="281.95" y="119.99" width="0.9" height="0.9" fill="#2c9c2c"/>
<rect x="292.48" y="115.96" width="0.9" height="0.9" fill="#2c9c2c"/>
<rect x="302.60" y="100.73" width="0.9" height="0.9" fill="#2c9c2c"/>
<rect x="323.94" y="82.19" width="0.9" height="0.9" fill="#2c9c2c"/>
<rect x="300.29" y="114.69" width="0.9" height="0.9" fill="#2c9c2c"/>
<rect x="296.91" y="105.79" width="0.9" height="0.9" fill="#2c9c2c"/>
<rect x="285.33" y="117.14" width="0.9" height="0.9" fill="#2c9c2c"/>
<rect x="307.93" y="95.45" width="0.9" height="0.9" fill="#2c9c2c"/>
<rect x="289.74" y="114.38" width="0.9" height="0.9" fill="#2c9c2c"/>
<rect x="267.55" y="135.10" width="0.9" height="0.9" fill="#2c9c2c"/>
<rect x="278.80" y="122.99" width="0.9" height="0.9" fill="#2c9c2c"/>
<rect x="320.85" y="82.17" width="0.9" height="0.9" fill="#2c9c2c"/>
<rect x="319.12" y="84.63" width="0.9" height="0.9" fill="#2c9c2c"/>
<rect x="275.44" y="127.08" width="0.9" height="0.9" fill="#2c9c2c"/>
<rect x="311.24" y="91.42" width="0.9" height="0.9" fill="#2c9c2c"/>
<rect x="286.36" y="117.85" width="0.9" height="0.9" fill="#2c9c2c"/>
<rect x="342.44" y="61.37" width="0.9" height="0.9" fill="#2c9c2c"/>
<rect x="284.03" y="122.86" width="0.9" height="0.9" fill="#2c9c2c"/>
<rect x="312.84" y="92.78" width="0.9" height="0.9" fill="#2c9c2c"/>
<rect x="308.14" y="95.08" width="0.9" height="0.9" fill="#2c9c2c"/>
<rect x="279.58" y="124.65" width="0.9" height="0.9" fill="#2c9c2c"/>
<rect x="285.09" y="121.82" width="0.9" height="0.9" fill="#2c9c2c"/>
<rect x="276.36" y="127.28" width="0.9" height="0.9" fill="#2c9c2c"/>
<rect x="282.43" y="120.65" width="0.9" height="0.9" fill="#2c9c2c"/>
<rect x="273.97" y="128.52" width="0.9" height="0.9" fill="#2c9c2c"/>
<rect x="270.52" y="131.44" width="0.9" height="0.9" fill="#2c9c2c"/>
<rect x="303.99" y="98.78" width="0.9" height="0.9" fill="#2c9c2c"/>
<rect x="307.88" y="97.34" width="0.9" height="0.9" fill="#2c9c2c"/>
<rect x="299.09" y="103.84" width="0.9" height="0.9" fill="#2c9c2c"/>
<rect x="292.59" y="113.93" width="0.9" height="0.9" fill="#2c9c2c"/>
<rect x="272.72" y="132.01" width="0.9" height="0.9" fill="#2c9c2c"/>
<rect x="275.59" y="127.17" width="0.9" height="0.9" fill="#2c9c2c"/>
<rect x="281.48" y="121.92" width="0.9" height="0.9" fill="#2c9c2c"/>
<rect x="276.43" y="125.89" width="0.9" height="0.9" fill="#2c9c2c"/>
<rect x="288.38" y="115.40" width="0.9" height="0.9" fill="#2c9c2c"/>
<rect x="294.56" y="111.83" width="0.9" height="0.9" fill="#2c9c2c"/>
<rect x="292.63" y="110.86" width="0.9" height="0.9" fill="#2c9c2c"/>
<rect x="298.42" y="107.53" width="0.9" height="0.9" fill="#2c9c2c"/>
<rect x="325.38" y="79.13" width="0.9" height="0.9" fill="#2c9c2c"/>
<rect x="271.06" y="133.69" width="0.9" height="0.9" fill="#2c9c2c"/>
<rect x="275.44" y="142.04" width="0.9" height="0.9" fill="#2c9c2c"/>
<rect x="270.44" y="132.99" width="0.9" height="0.9" fill="#2c9c2c"/>
<rect x="274.53" y="130.02" width="0.9" height="0.9" fill="#2c9c2c"/>
<rect x="289.39" y="118.27" width="0.9" height="0.9" fill="#2c9c2c"/>
<rect x="295.82" y="107.12" width="0.9" height="0.9" fill="#2c9c2c"/>
<rect x="297.84" y="105.40" width="0.9" height="0.9" fill="#2c9c2c"/>
<rect x="289.22" y="112.92" width="0.9" height="0.9" fill="#2c9c2c"/>
<rect x="294.16" y="114.02" width="0.9" height="0.9" fill="#2c9c2c"/>
<rect x="291.58" y="112.34" width="0.9" height="0.9" fill="#2c9c2c"/>
<rect x="278.28" y="124.72" width="0.9" height="0.9" fill="#2c9c2c"/>
<rect x="295.70" y="106.35" width="0.9" height="0.9" fill="#2c9c2c"/>
<rect x="277.76" y="125.11" width="0.9" height="0.9" fill="#2c9c2c"/>
<rect x="290.59" y="115.29" width="0.9" height="0.9" fill="#2c9c2c"/>
<rect x="303.53" y="99.30" width="0.9" height="0.9" fill="#2c9c2c"/>
<rect x="308.31" y="94.27" width="0.9" height="0.9" fill="#2c9c2c"/>
<rect x="321.09" y="86.41" width="0.9" height="0.9" fill="#2c9c2c"/>
<rect x="290.58" y="117.36" width="0.9" height="0.9" fill="#2c9c2c"/>
<rect x="317.50" y="85.84" width="0.9" height="0.9" fill="#2c9c2c"/>
<rect x="310.03" y="93.14" width="0.9" height="0.9" fill="#2c9c2c"/>
<rect x="297.21" y="105.20" width="0.9" height="0.9" fill="#2c9c2c"/>
<rect x="268.57" y="138.96" width="0.9" height="0.9" fill="#2c9c2c"/>
<rect x="304.45" y="99.97" width="0.9" height="0.9" fill="#2c9c2c"/>
<rect x="269.68" y="132.98" width="0.9" height="0.9" fill="#2c9c2c"/>
<rect x="291.82" y="110.36" width="0.9" height="0.9" fill="#2c9c2c"/>
<rect x="293.39" y="109.14" width="0.9" height="0.9" fill="#2c9c2c"/>
<rect x="270.23" y="131.77" width="0.9" height="0.9" fill="#2c9c2c"/>
<rect x="317.64" y="85.68" width="0.9" height="0.9" fill="#2c9c2c"/>
<rect x="332.87" y="70.38" width="0.9" height="0.9" fill="#2c9c2c"/>
<rect x="308.52" y="94.90" width="0.9" height="0.9" fill="#2c9c2c"/>
<rect x="289.38" y="114.81" width="0.9" height="0.9" fill="#2c9c2c"/>
<rect x="293.16" y="109.89" width="0.9" height="0.9" fill="#2c9c2c"/>
<rect x="272.34" y="130.20" width="0.9" height="0.9" fill="#2c9c2c"/>
<rect x="265.64" y="136.26" width="0.9" height="0.9" fill="#2c9c2c"/>
<rect x="282.17" y="121.91" width="0.9" height="0.9" fill="#2c9c2c"/>
<rect x="293.66" y="110.94" width="0.9" height="0.9" fill="#2c9c2c"/>
<rect x="286.37" y="115.72" width="0.9" height="0.9" fill="#2c9c2c"/>
<rect x="282.12" y="119.88" width="0.9" height="0.9" fill="#2c9c2c"/>
<rect x="269.59" y="134.11" width="0.9" height="0.9" fill="#2c9c2c"/>
<rect x="307.11" y="96.38" width="0.9" height="0.9" fill="#2c9c2c"/>
<rect x="283.00" y="118.85" width="0.9" height="0.9" fill="#2c9c2c"/>
<rect x="294.20" y="109.31" width="0.9" height="0.9" fill="#2c9c2c"/>
<rect x="304.28" y="98.38" width="0.9" height="0.9" fill="#2c9c2c"/>
<rect x="287.73" y="115.36" width="0.9" height="0.9" fill="#2c9c2c"/>
<rect x="282.96" y="123.79" width="0.9" height="0.9" fill="#2c9c2c"/>
<rect x="267.06" y="137.93" width="0.9" height="0.9" fill="#2c9c2c"/>
<rect x="278.83" y="126.08" width="0.9" height="0.9" fill="#2c9c2c"/>
<rect x="313.26" y="97.36" width="0.9" height="0.9" fill="#2c9c2c"/>
<rect x="296.71" y="105.84" width="0.9" height="0.9" fill="#2c9c2c"/>
<rect x="276.93" y="128.27" width="0.9" height="0.9" fill="#2c9c2c"/>
<rect x="282.05" y="120.18" width="0.9" height="0.9" fill="#2c9c2c"/>
<rect x="309.36" y="95.15" width="0.9" height="0.9" fill="#2c9c2c"/>
<rect x="313.89" y="91.27" width="0.9" height="0.9" fill="#2c9c2c"/>
<rect x="287.99" y="114.79" width="0.9" height="0.9" fill="#2c9c2c"/>
<rect x="281.11" y="122.63" width="0.9" height="0.9" fill="#2c9c2c"/>
<rect x="295.52" y="109.51" width="0.9" height="0.9" fill="#2c9c2c"/>
<rect x="288.56" y="115.33" width="0.9" height="0.9" fill="#2c9c2c"/>
<rect x="267.03" y="138.15" width="0.9" height="0.9" fill="#2c9c2c"/>
<rect x="303.95" y="98.71" width="0.9" height="0.9" fill="#2c9c2c"/>
<rect x="277.14" y="132.73" width="0.9" height="0.9" fill="#2c9c2c"/>
<rect x="269.58" y="132.29" width="0.9" height="0.9" fill="#2c9c2c"/>
<rect x="287.74" y="115.21" width="0.9" height="0.9" fill="#2c9c2c"/>
<rect x="318.07" y="88.68" width="0.9" height="0.9" fill="#2c9c2c"/>
<rect x="289.20" y="119.10" width="0.9" height="0.9" fill="#2c9c2c"/>
<rect x="315.04" y="87.95" width="0.9" height="0.9" fill="#2c9c2c"/>
<rect x="303.63" y="100.45" width="0.9" height="0.9" fill="#2c9c2c"/>
<rect x="302.96" y="100.53" width="0.9" height="0.9" fill="#2c9c2c"/>
<rect x="295.29" y="110.37" width="0.9" height="0.9" fill="#2c9c2c"/>
<rect x="302.95" y="101.16" width="0.9" height="0.9" fill="#2c9c2c"/>
<rect x="277.70" y="123.88" width="0.9" height="0.9" fill="#2c9c2c"/>
<rect x="272.01" y="131.75" width="0.9" height="0.9" fill="#2c9c2c"/>
<rect x="271.60" y="131.90" width="0.9" height="0.9" fill="#2c9c2c"/>
<rect x="287.30" y="117.03" width="0.9" height="0.9" fill="#2c9c2c"/>
<rect x="298.05" y="105.55" width="0.9" height="0.9" fill="#2c9c2c"/>
<rect x="295.75" y="115.99" width="0.9" height="0.9" fill="#2c9c2c"/>
<rect x="273.90" y="130.96" width="0.9" height="0.9" fill="#2c9c2c"/>
<rect x="314.01" y="91.66" width="0.9" height="0.9" fill="#2c9c2c"/>
<rect x="301.63" y="103.38" width="0.9" height="0.9" fill="#2c9c2c"/>
<rect x="292.30" y="112.69" width="0.9" height="0.9" fill="#2c9c2c"/>
<rect x="302.09" y="100.37" width="0.9" height="0.9" fill="#2c9c2c"/>
<rect x="296.34" y="105.91" width="0.9" height="0.9" fill="#2c9c2c"/>
<rect x="267.91" y="137.00" width="0.9" height="0.9" fill="#2c9c2c"/>
<rect x="291.45" y="113.29" width="0.9" height="0.9" fill="#2c9c2c"/>
<rect x="297.21" y="109.23" width="0.9" height="0.9" fill="#2c9c2c"/>
<rect x="293.01" y="109.00" width="0.9" height="0.9" fill="#2c9c2c"/>
<rect x="282.83" y="120.33" width="0.9" height="0.9" fill="#2c9c2c"/>
<rect x="278.52" y="124.70" width="0.9" height="0.9" fill="#2c9c2c"/>
<rect x="299.35" y="105.51" width="0.9" height="0.9" fill="#2c9c2c"/>
<rect x="273.53" y="128.65" width="0.9" height="0.9" fill="#2c9c2c"/>
<rect x="279.27" y="130.27" width="0.9" height="0.9" fill="#2c9c2c"/>
<rect x="327.68" y="80.22" width="0.9" height="0.9" fill="#2c9c2c"/>
<rect x="358.76" y="58.32" width="0.9" height="0.9" fill="#2c9c2c"/>
<rect x="336.90" y="68.20" width="0.9" height="0.9" fill="#2c9c2c"/>
<rect x="265.51" y="135.91" width="0.9" height="0.9" fill="#2c9c2c"/>
<rect x="304.44" y="98.35" width="0.9" height="0.9" fill="#2c9c2c"/>
<rect x="292.77" y="109.36" width="0.9" height="0.9" fill="#2c9c2c"/>
<rect x="311.91" y="91.10" width="0.9" height="0.9" fill="#2c9c2c"/>
<rect x="315.33" y="87.40" width="0.9" height="0.9" fill="#2c9c2c"/>
<rect x="297.51" y="111.60" width="0.9" height="0.9" fill="#2c9c2c"/>
<rect x="286.22" y="119.64" width="0.9" height="0.9" fill="#2c9c2c"/>
<rect x="306.96" y="96.12" width="0.9" height="0.9" fill="#2c9c2c"/>
<rect x="299.30" y="105.15" width="0.9" height="0.9" fill="#2c9c2c"/>
<rect x="266.44" y="136.87" width="0.9" height="0.9" fill="#2c9c2c"/>
<rect x="292.00" y="115.03" width="0.9" height="0.9" fill="#2c9c2c"/>
<rect x="330.13" y="76.21" width="0.9" height="0.9" fill="#2c9c2c"/>
<rect x="312.11" y="92.11" width="0.9" height="0.9" fill="#2c9c2c"/>
<rect x="272.98" y="131.20" width="0.9" height="0.9" fill="#2c9c2c"/>
<rect x="272.62" y="129.76" width="0.9" height="0.9" fill="#2c9c2c"/>
<rect x="296.89" y="106.93" width="0.9" height="0.9" fill="#2c9c2c"/>
<rect x="279.29" y="122.62" width="0.9" height="0.9" fill="#2c9c2c"/>
<rect x="305.87" y="96.57" width="0.9" height="0.9" fill="#2c9c2c"/>
<rect x="318.38" y="84.98" width="0.9" height="0.9" fill="#2c9c2c"/>
<rect x="295.41" y="108.12" width="0.9" height="0.9" fill="#2c9c2c"/>
<rect x="303.23" y="100.17" width="0.9" height="0.9" fill="#2c9c2c"/>
<rect x="279.27" y="123.22" width="0.9" height="0.9" fill="#2c9c2c"/>
<rect x="293.70" y="113.11" width="0.9" height="0.9" fill="#2c9c2c"/>
<rect x="303.62" y="98.99" width="0.9" height="0.9" fill="#2c9c2c"/>
<rect x="349.89" y="59.23" width="0.9" height="0.9" fill="#2c9c2c"/>
<rect x="294.48" y="114.97" width="0.9" height="0.9" fill="#2c9c2c"/>
<rect x="288.89" y="113.32" width="0.9" height="0.9" fill="#2c9c2c"/>
<rect x="272.81" y="130.64" width="0.9" height="0.9" fill="#2c9c2c"/>
<rect x="301.83" y="101.59" width="0.9" height="0.9" fill="#2c9c2c"/>
<rect x="301.18" y="103.96" width="0.9" height="0.9" fill="#2c9c2c"/>
<rect x="293.52" y="110.30" width="0.9" height="0.9" fill="#2c9c2c"/>
<rect x="311.11" y="95.10" width="0.9" height="0.9" fill="#2c9c2c"/>
<rect x="292.72" y="109.66" width="0.9" height="0.9" fill="#2c9c2c"/>
<rect x="272.68" y="129.09" width="0.9" height="0.9" fill="#2c9c2c"/>
<rect x="299.90" y="104.14" width="0.9" height="0.9" fill="#2c9c2c"/>
<rect x="323.23" y="81.71" width="0.9" height="0.9" fill="#2c9c2c"/>
<rect x="334.46" y="69.72" width="0.9" height="0.9" fill="#2c9c2c"/>
<rect x="270.62" y="131.05" width="0.9" height="0.9" fill="#2c9c2c"/>
<rect x="300.30" y="108.28" width="0.9" height="0.9" fill="#2c9c2c"/>
<rect x="320.61" y="82.39" width="0.9" height="0.9" fill="#2c9c2c"/>
<rect x="313.98" y="94.31" width="0.9" height="0.9" fill="#2c9c2c"/>
<rect x="307.06" y="97.80" width="0.9" height="0.9" fill="#2c9c2c"/>
<rect x="322.62" y="83.74" width="0.9" height="0.9" fill="#2c9c2c"/>
<rect x="288.00" y="113.94" width="0.9" height="0.9" fill="#2c9c2c"/>
<rect x="314.63" y="89.63" width="0.9" height="0.9" fill="#2c9c2c"/>
<rect x="267.19" y="134.16" width="0.9" height="0.9" fill="#2c9c2c"/>
<rect x="285.28" y="121.67" width="0.9" height="0.9" fill="#2c9c2c"/>
<rect x="322.37" y="90.83" width="0.9" height="0.9" fill="#2c9c2c"/>
<rect x="303.32" y="99.63" width="0.9" height="0.9" fill="#2c9c2c"/>
<rect x="316.93" y="89.72" width="0.9" height="0.9" fill="#2c9c2c"/>
<rect x="286.22" y="118.79" width="0.9" height="0.9" fill="#2c9c2c"/>
<rect x="292.28" y="111.55" width="0.9" height="0.9" fill="#2c9c2c"/>
<rect x="286.21" y="122.91" width="0.9" height="0.9" fill="#2c9c2c"/>
<rect x="285.34" y="118.68" width="0.9" height="0.9" fill="#2c9c2c"/>
<rect x="287.05" y="122.34" width="0.9" height="0.9" fill="#2c9c2c"/>
<rect x="289.64" y="115.96" width="0.9" height="0.9" fill="#2c9c2c"/>
<rect x="346.17" y="56.22" width="0.9" height="0.9" fill="#2c9c2c"/>
<rect x="327.13" y="76.80" width="0.9" height="0.9" fill="#2c9c2c"/>
<rect x="276.93" y="128.79" width="0.9" height="0.9" fill="#2c9c2c"/>
<rect x="268.81" y="133.82" width="0.9" height="0.9" fill="#2c9c2c"/>
<rect x="294.44" y="109.34" width="0.9" height="0.9" fill="#2c9c2c"/>
<rect x="278.65" y="124.30" width="0.9" height="0.9" fill="#2c9c2c"/>
<rect x="295.12" y="111.35" width="0.9" height="0.9" fill="#2c9c2c"/>
<rect x="275.62" y="127.15" width="0.9" height="0.9" fill="#2c9c2c"/>
<rect x="281.09" y="121.13" width="0.9" height="0.9" fill="#2c9c2c"/>
<rect x="286.52" y="116.36" width="0.9" height="0.9" fill="#2c9c2c"/>
<rect x="324.69" y="78.25" width="0.9" height="0.9" fill="#2c9c2c"/>
<rect x="293.92" y="110.58" width="0.9" height="0.9" fill="#2c9c2c"/>
<rect x="290.06" y="111.99" width="0.9" height="0.9" fill="#2c9c2c"/>
<rect x="306.33" y="97.25" width="0.9" height="0.9" fill="#2c9c2c"/>
<rect x="338.39" y="65.49" width="0.9" height="0.9" fill="#2c9c2c"/>
<rect x="309.10" y="98.71" width="0.9" height="0.9" fill="#2c9c2c"/>
<rect x="281.08" y="120.65" width="0.9" height="0.9" fill="#2c9c2c"/>
<rect x="308.22" y="98.15" width="0.9" height="0.9" fill="#2c9c2c"/>
<rect x="303.42" y="101.68" width="0.9" height="0.9" fill="#2c9c2c"/>
<rect x="287.99" y="118.54" width="0.9" height="0.9" fill="#2c9c2c"/>
<rect x="271.55" y="131.14" width="0.9" height="0.9" fill="#2c9c2c"/>
<rect x="303.66" y="103.75" width="0.9" height="0.9" fill="#2c9c2c"/>
<rect x="296.22" y="109.42" width="0.9" height="0.9" fill="#2c9c2c"/>
<rect x="300.51" y="108.10" width="0.9" height="0.9" fill="#2c9c2c"/>
<rect x="312.09" y="97.19" width="0.9" height="0.9" fill="#2c9c2c"/>
<rect x="320.42" y="82.66" width="0.9" height="0.9" fill="#2c9c2c"/>
<rect x="307.27" y="99.16" width="0.9" height="0.9" fill="#2c9c2c"/>
<rect x="303.83" y="109.07" width="0.9" height="0.9" fill="#2c9c2c"/>
<rect x="285.13" y="122.03" width="0.9" height="0.9" fill="#2c9c2c"/>
<rect x="283.92" y="118.10" width="0.9" height="0.9" fill="#2c9c2c"/>
<rect x="289.62" y="114.00" width="0.9" height="0.9" fill="#2c9c2c"/>
<rect x="316.47" y="87.24" width="0.9" height="0.9" fill="#2c9c2c"/>
<rect x="290.60" y="112.00" width="0.9" height="0.9" fill="#2c9c2c"/>
<rect x="303.58" y="102.72" width="0.9" height="0.9" fill="#2c9c2c"/>
<rect x="332.20" y="72.43" width="0.9" height="0.9" fill="#2c9c2c"/>
<rect x="280.74" y="122.34" width="0.9" height="0.9" fill="#2c9c2c"/>
<rect x="293.03" y="111.78" width="0.9" height="0.9" fill="#2c9c2c"/>
<rect x="318.68" y="88.10" width="0.9" height="0.9" fill="#2c9c2c"/>
<rect x="273.35" y="129.82" width="0.9" height="0.9" fill="#2c9c2c"/>
<rect x="265.91" y="136.60" width="0.9" height="0.9" fill="#2c9c2c"/>
<rect x="300.07" y="103.55" width="0.9" height="0.9" fill="#2c9c2c"/>
<rect x="288.51" y="113.72" width="0.9" height="0.9" fill="#2c9c2c"/>
<rect x="298.21" y="104.10" width="0.9" height="0.9" fill="#2c9c2c"/>
<rect x="269.56" y="133.51" width="0.9" height="0.9" fill="#2c9c2c"/>
<rect x="279.74" y="125.23" width="0.9" height="0.9" fill="#2c9c2c"/>
<rect x="270.55" y="132.13" width="0.9" height="0.9" fill="#2c9c2c"/>
<rect x="311.51" y="94.92" width="0.9" height="0.9" fill="#2c9c2c"/>
<rect x="315.33" y="87.41" width="0.9" height="0.9" fill="#2c9c2c"/>
<rect x="309.65" y="104.43" width="0.9" height="0.9" fill="#2c9c2c"/>
<rect x="286.55" y="116.54" width="0.9" height="0.9" fill="#2c9c2c"/>
<rect x="314.31" y="91.54" width="0.9" height="0.9" fill="#2c9c2c"/>
<rect x="286.57" y="121.09" width="0.9" height="0.9" fill="#2c9c2c"/>
<rect x="269.11" y="138.50" width="0.9" height="0.9" fill="#2c9c2c"/>
<rect x="293.48" y="108.69" width="0.9" height="0.9" fill="#2c9c2c"/>
<rect x="278.10" y="124.66" width="0.9" height="0.9" fill="#2c9c2c"/>
<rect x="309.90" y="93.03" width="0.9" height="0.9" fill="#2c9c2c"/>
<rect x="298.14" y="105.96" width="0.9" height="0.9" fill="#2c9c2c"/>
<rect x="271.59" y="133.37" width="0.9" height="0.9" fill="#2c9c2c"/>
<rect x="342.70" y="65.52" width="0.9" height="0.9" fill="#2c9c2c"/>
<rect x="316.44" y="89.25" width="0.9" height="0.9" fill="#2c9c2c"/>
<rect x="284.21" y="117.84" width="0.9" height="0.9" fill="#2c9c2c"/>
<rect x="303.25" y="99.00" width="0.9" height="0.9" fill="#2c9c2c"/>
<rect x="305.88" y="107.54" width="0.9" height="0.9" fill="#2c9c2c"/>
<rect x="295.26" y="106.84" width="0.9" height="0.9" fill="#2c9c2c"/>
<rect x="330.66" y="76.05" width="0.9" height="0.9" fill="#2c9c2c"/>
<rect x="289.08" y="113.73" width="0.9" height="0.9" fill="#2c9c2c"/>
<rect x="306.31" y="98.25" width="0.9" height="0.9" fill="#2c9c2c"/>
<rect x="305.08" y="98.96" width="0.9" height="0.9" fill="#2c9c2c"/>
<rect x="317.56" y="85.10" width="0.9" height="0.9" fill="#2c9c2c"/>
<rect x="328.72" y="81.95" width="0.9" height="0.9" fill="#2c9c2c"/>
<rect x="280.52" y="122.87" width="0.9" height="0.9" fill="#2c9c2c"/>
<rect x="314.43" y="89.20" width="0.9" height="0.9" fill="#2c9c2c"/>
<rect x="271.15" y="130.32" width="0.9" height="0.9" fill="#2c9c2c"/>
<rect x="294.72" y="109.27" width="0.9" height="0.9" fill="#2c9c2c"/>
<rect x="267.28" y="136.63" width="0.9" height="0.9" fill="#2c9c2c"/>
<rect x="312.76" y="97.46" width="0.9" height="0.9" fill="#2c9c2c"/>
<rect x="298.84" y="104.09" width="0.9" height="0.9" fill="#2c9c2c"/>
<rect x="287.73" y="114.10" width="0.9" height="0.9" fill="#2c9c2c"/>
<rect x="266.97" y="136.99" width="0.9" height="0.9" fill="#2c9c2c"/>
<rect x="281.16" y="124.00" width="0.9" height="0.9" fill="#2c9c2c"/>
<rect x="297.91" y="106.98" width="0.9" height="0.9" fill="#2c9c2c"/>
<rect x="306.32" y="99.31" width="0.9" height="0.9" fill="#2c9c2c"/>
<rect x="272.55" y="129.30" width="0.9" height="0.9" fill="#2c9c2c"/>
<rect x="281.76" y="120.79" width="0.9" height="0.9" fill="#2c9c2c"/>
<rect x="327.97" y="81.90" width="0.9" height="0.9" fill="#2c9c2c"/>
<rect x="304.23" y="99.37" width="0.9" height="0.9" fill="#2c9c2c"/>
<rect x="302.90" y="102.74" width="0.9" height="0.9" fill="#2c9c2c"/>
<rect x="327.48" y="80.33" width="0.9" height="0.9" fill="#2c9c2c"/>
<rect x="285.98" y="117.53" width="0.9" height="0.9" fill="#2c9c2c"/>
<rect x="285.83" y="116.07" width="0.9" height="0.9" fill="#2c9c2c"/>
<rect x="303.30" y="102.33" width="0.9" height="0.9" fill="#2c9c2c"/>
<rect x="292.38" y="110.44" width="0.9" height="0.9" fill="#2c9c2c"/>
<rect x="271.11" y="137.84" width="0.9" height="0.9" fill="#2c9c2c"/>
<rect x="287.35" y="116.36" width="0.9" height="0.9" fill="#2c9c2c"/>
<rect x="267.26" y="134.27" width="0.9" height="0.9" fill="#2c9c2c"/>
<rect x="294.79" y="117.58" width="0.9" height="0.9" fill="#2c9c2c"/>
<rect x="293.61" y="109.54" width="0.9" height="0.9" fill="#2c9c2c"/>
<rect x="274.73" y="128.36" width="0.9" height="0.9" fill="#2c9c2c"/>
<rect x="267.32" y="136.54" width="0.9" height="0.9" fill="#2c9c2c"/>
<rect x="275.49" y="126.43" width="0.9" height="0.9" fill="#2c9c2c"/>
<rect x="284.15" y="124.42" width="0.9" height="0.9" fill="#2c9c2c"/>
<rect x="305.11" y="98.53" width="0.9" height="0.9" fill="#2c9c2c"/>
<rect x="284.40" y="119.99" width="0.9" height="0.9" fill="#2c9c2c"/>
<rect x="281.13" y="131.08" width="0.9" height="0.9" fill="#2c9c2c"/>
<rect x="296.27" y="116.88" width="0.9" height="0.9" fill="#2c9c2c"/>
<rect x="276.36" y="127.31" width="0.9" height="0.9" fill="#2c9c2c"/>
<rect x="272.17" y="136.58" width="0.9" height="0.9" fill="#2c9c2c"/>
<rect x="291.58" y="111.64" width="0.9" height="0.9" fill="#2c9c2c"/>
<rect x="313.49" y="93.37" width="0.9" height="0.9" fill="#2c9c2c"/>
<rect x="301.46" y="102.10" width="0.9" height="0.9" fill="#2c9c2c"/>
<rect x="298.20" y="105.87" width="0.9" height="0.9" fill="#2c9c2c"/>
<rect x="306.80" y="98.48" width="0.9" height="0.9" fill="#2c9c2c"/>
<rect x="303.48" y="99.38" width="0.9" height="0.9" fill="#2c9c2c"/>
<rect x="304.19" y="99.15" width="0.9" height="0.9" fill="#2c9c2c"/>
<rect x="288.41" y="127.34" width="0.9" height="0.9" fill="#2c9c2c"/>
<rect x="292.40" y="123.54" width="0.9" height="0.9" fill="#2c9c2c"/>
<rect x="292.04" y="112.13" width="0.9" height="0.9" fill="#2c9c2c"/>
<rect x="322.91" y="82.20" width="0.9" height="0.9" fill="#2c9c2c"/>
<rect x="268.35" y="133.33" width="0.9" height="0.9" fill="#2c9c2c"/>
<rect x="271.53" y="131.60" width="0.9" height="0.9" fill="#2c9c2c"/>
<rect x="326.79" y="80.37" width="0.9" height="0.9" fill="#2c9c2c"/>
<rect x="284.61" y="120.05" width="0.9" height="0.9" fill="#2c9c2c"/>
<rect x="271.01" y="134.39" width="0.9" height="0.9" fill="#2c9c2c"/>
<rect x="300.17" y="103.74" width="0.9" height="0.9" fill="#2c9c2c"/>
<rect x="304.50" y="99.34" width="0.9" height="0.9" fill="#2c9c2c"/>
<rect x="284.50" y="118.33" width="0.9" height="0.9" fill="#2c9c2c"/>
<rect x="309.98" y="94.18" width="0.9" height="0.9" fill="#2c9c2c"/>
<rect x="314.05" y="94.79" width="0.9" height="0.9" fill="#2c9c2c"/>
<rect x="279.19" y="124.78" width="0.9" height="0.9" fill="#2c9c2c"/>
<rect x="329.39" y="75.35" width="0.9" height="0.9" fill="#2c9c2c"/>
<rect x="328.51" y="76.81" width="0.9" height="0.9" fill="#2c9c2c"/>
<rect x="294.00" y="110.45" width="0.9" height="0.9" fill="#2c9c2c"/>
<rect x="293.28" y="113.08" width="0.9" height="0.9" fill="#2c9c2c"/>
<rect x="299.44" y="104.64" width="0.9" height="0.9" fill="#2c9c2c"/>
<rect x="303.41" y="99.78" width="0.9" height="0.9" fill="#2c9c2c"/>
<rect x="308.31" y="95.51" width="0.9" height="0.9" fill="#2c9c2c"/>
<rect x="291.30" y="112.10" width="0.9" height="0.9" fill="#2c9c2c"/>
<rect x="271.71" y="134.85" width="0.9" height="0.9" fill="#2c9c2c"/>
<rect x="272.29" y="130.56" width="0.9" height="0.9" fill="#2c9c2c"/>
<rect x="273.64" y="129.49" width="0.9" height="0.9" fill="#2c9c2c"/>
<rect x="295.05" y="114.39" width="0.9" height="0.9" fill="#2c9c2c"/>
<rect x="311.60" y="91.03" width="0.9" height="0.9" fill="#2c9c2c"/>
<rect x="296.21" y="106.13" width="0.9" height="0.9" fill="#2c9c2c"/>
<rect x="305.71" y="97.21" width="0.9" height="0.9" fill="#2c9c2c"/>
<rect x="286.03" y="116.48" width="0.9" height="0.9" fill="#2c9c2c"/>
<rect x="273.37" y="129.62" width="0.9" height="0.9" fill="#2c9c2c"/>
<rect x="305.85" y="100.47" width="0.9" height="0.9" fill="#2c9c2c"/>
<rect x="272.08" y="134.22" width="0.9" height="0.9" fill="#2c9c2c"/>
<rect x="284.60" y="117.47" width="0.9" height="0.9" fill="#2c9c2c"/>
<rect x="320.71" y="82.70" width="0.9" height="0.9" fill="#2c9c2c"/>
<rect x="327.69" y="75.26" width="0.9" height="0.9" fill="#2c9c2c"/>
<rect x="288.98" y="117.35" width="0.9" height="0.9" fill="#2c9c2c"/>
<rect x="320.86" y="82.75" width="0.9" height="0.9" fill="#2c9c2c"/>
<rect x="289.39" y="113.56" width="0.9" height="0.9" fill="#2c9c2c"/>
<rect x="281.56" y="124.08" width="0.9" height="0.9" fill="#2c9c2c"/>
<rect x="305.78" y="96.56" width="0.9" height="0.9" fill="#2c9c2c"/>
<rect x="302.17" y="101.16" width="0.9" height="0.9" fill="#2c9c2c"/>
<rect x="302.95" y="99.63" width="0.9" height="0.9" fill="#2c9c2c"/>
<rect x="299.89" y="102.61" width="0.9" height="0.9" fill="#2c9c2c"/>
<rect x="277.90" y="126.50" width="0.9" height="0.9" fill="#2c9c2c"/>
<rect x="309.81" y="95.43" width="0.9" height="0.9" fill="#2c9c2c"/>
<rect x="312.13" y="93.50" width="0.9" height="0.9" fill="#2c9c2c"/>
<rect x="271.69" y="130.04" width="0.9" height="0.9" fill="#2c9c2c"/>
<rect x="274.89" y="127.67" width="0.9" height="0.9" fill="#2c9c2c"/>
<rect x="288.37" y="118.78" width="0.9" height="0.9" fill="#2c9c2c"/>
<rect x="276.12" y="126.72" width="0.9" height="0.9" fill="#2c9c2c"/>
<rect x="300.33" y="102.38" width="0.9" height="0.9" fill="#2c9c2c"/>
<rect x="286.05" y="117.03" width="0.9" height="0.9" fill="#2c9c2c"/>
<rect x="295.68" y="109.31" width="0.9" height="0.9" fill="#2c9c2c"/>
<rect x="296.75" y="106.62" width="0.9" height="0.9" fill="#2c9c2c"/>
<rect x="308.73" y="97.44" width="0.9" height="0.9" fill="#2c9c2c"/>
<rect x="304.49" y="101.46" width="0.9" height="0.9" fill="#2c9c2c"/>
<rect x="330.54" y="72.92" width="0.9" height="0.9" fill="#2c9c2c"/>
<rect x="297.15" y="108.01" width="0.9" height="0.9" fill="#2c9c2c"/>
<rect x="276.33" y="125.44" width="0.9" height="0.9" fill="#2c9c2c"/>
<rect x="308.47" y="96.50" width="0.9" height="0.9" fill="#2c9c2c"/>
<rect x="275.38" y="126.40" width="0.9" height="0.9" fill="#2c9c2c"/>
<rect x="301.54" y="102.35" width="0.9" height="0.9" fill="#2c9c2c"/>
<rect x="320.16" y="82.93" width="0.9" height="0.9" fill="#2c9c2c"/>
<rect x="275.25" y="129.14" width="0.9" height="0.9" fill="#2c9c2c"/>
<rect x="272.45" y="129.47" width="0.9" height="0.9" fill="#2c9c2c"/>
<rect x="312.84" y="89.78" width="0.9" height="0.9" fill="#2c9c2c"/>
<rect x="273.89" y="128.61" width="0.9" height="0.9" fill="#2c9c2c"/>
<rect x="294.35" y="118.46" width="0.9" height="0.9" fill="#2c9c2c"/>
<rect x="290.62" y="113.94" width="0.9" height="0.9" fill="#2c9c2c"/>
<rect x="320.54" y="82.63" width="0.9" height="0.9" fill="#2c9c2c"/>
<rect x="290.37" y="111.68" width="0.9" height="0.9" fill="#2c9c2c"/>
<rect x="301.73" y="101.08" width="0.9" height="0.9" fill="#2c9c2c"/>
<rect x="307.83" y="94.60" width="0.9" height="0.9" fill="#2c9c2c"/>
<rect x="309.57" y="93.31" width="0.9" height="0.9" fill="#2c9c2c"/>
<rect x="292.69" y="111.59" width="0.9" height="0.9" fill="#2c9c2c"/>
<rect x="295.65" y="109.94" width="0.9" height="0.9" fill="#2c9c2c"/>
<rect x="278.13" y="130.68" width="0.9" height="0.9" fill="#2c9c2c"/>
<rect x="272.07" y="131.01" width="0.9" height="0.9" fill="#2c9c2c"/>
<rect x="307.70" y="94.92" width="0.9" height="0.9" fill="#2c9c2c"/>
<rect x="301.19" y="105.96" width="0.9" height="0.9" fill="#2c9c2c"/>
<rect x="304.96" y="105.81" width="0.9" height="0.9" fill="#2c9c2c"/>
<rect x="293.64" y="114.70" width="0.9" height="0.9" fill="#2c9c2c"/>
<rect x="299.00" y="103.86" width="0.9" height="0.9" fill="#2c9c2c"/>
<rect x="351.29" y="50.73" width="0.9" height="0.9" fill="#2c9c2c"/>
<rect x="279.64" y="124.56" width="0.9" height="0.9" fill="#2c9c2c"/>
<rect x="316.08" y="87.37" width="0.9" height="0.9" fill="#2c9c2c"/>
<rect x="339.52" y="64.98" width="0.9" height="0.9" fill="#2c9c2c"/>
<rect x="294.17" y="110.17" width="0.9" height="0.9" fill="#2c9c2c"/>
<rect x="287.26" y="119.42" width="0.9" height="0.9" fill="#2c9c2c"/>
<rect x="290.95" y="115.65" width="0.9" height="0.9" fill="#2c9c2c"/>
<rect x="287.81" y="118.77" width="0.9" height="0.9" fill="#2c9c2c"/>
<rect x="286.58" y="116.89" width="0.9" height="0.9" fill="#2c9c2c"/>
<rect x="294.24" y="110.06" width="0.9" height="0.9" fill="#2c9c2c"/>
<rect x="284.76" y="117.47" width="0.9" height="0.9" fill="#2c9c2c"/>
<rect x="320.01" y="83.83" width="0.9" height="0.9" fill="#2c9c2c"/>
<rect x="279.00" y="124.54" width="0.9" height="0.9" fill="#2c9c2c"/>
<rect x="296.73" y="114.28" width="0.9" height="0.9" fill="#2c9c2c"/>
<rect x="292.08" y="112.71" width="0.9" height="0.9" fill="#2c9c2c"/>
<rect x="266.45" y="135.28" width="0.9" height="0.9" fill="#2c9c2c"/>
<rect x="295.97" y="109.25" width="0.9" height="0.9" fill="#2c9c2c"/>
<rect x="273.30" y="128.27" width="0.9" height="0.9" fill="#2c9c2c"/>
<rect x="299.97" y="102.67" width="0.9" height="0.9" fill="#2c9c2c"/>
<rect x="287.69" y="116.71" width="0.9" height="0.9" fill="#2c9c2c"/>
<rect x="274.80" y="127.80" width="0.9" height="0.9" fill="#2c9c2c"/>
<rect x="302.69" y="102.26" width="0.9" height="0.9" fill="#2c9c2c"/>
<rect x="308.02" y="104.17" width="0.9" height="0.9" fill="#2c9c2c"/>
<rect x="360.81" y="29.75" width="0.8" height="0.8" fill="#ff6060"/>
<rect x="369.49" y="32.09" width="0.8" height="0.8" fill="#c8c8c8"/>
<rect x="367.25" y="29.15" width="0.8" height="0.8" fill="#c8c8c8"/>
<rect x="363.12" y="29.47" width="0.8" height="0.8" fill="#ff6060"/>
<rect x="378.26" y="27.09" width="0.8" height="0.8" fill="#50a850"/>
<rect x="382.23" y="19.65" width="0.8" height="0.8" fill="#c8c8c8"/>
<rect x="351.60" y="44.27" width="0.8" height="0.8" fill="#ff6060"/>
<rect x="378.35" y="15.24" width="0.8" height="0.8" fill="#ff6060"/>
<rect x="370.56" y="39.18" width="0.8" height="0.8" fill="#50a850"/>
<rect x="354.00" y="37.20" width="0.8" height="0.8" fill="#ff6060"/>
<rect x="371.45" y="19.43" width="0.8" height="0.8" fill="#ff6060"/>
<rect x="377.85" y="17.21" width="0.8" height="0.8" fill="#ff6060"/>
<rect x="369.40" y="29.57" width="0.8" height="0.8" fill="#c8c8c8"/>
<rect x="373.38" y="21.05" width="0.8" height="0.8" fill="#ff6060"/>
<rect x="355.53" y="36.61" width="0.8" height="0.8" fill="#ff6060"/>
<rect x="355.32" y="46.66" width="0.8" height="0.8" fill="#50a850"/>
<rect x="373.81" y="26.21" width="0.8" height="0.8" fill="#c8c8c8"/>
<rect x="356.16" y="53.06" width="0.8" height="0.8" fill="#50a850"/>
<rect x="370.03" y="44.62" width="0.8" height="0.8" fill="#50a850"/>
<rect x="353.08" y="44.76" width="0.8" height="0.8" fill="#c8c8c8"/>
<rect x="367.03" y="37.88" width="0.8" height="0.8" fill="#50a850"/>
<rect x="360.76" y="30.30" width="0.8" height="0.8" fill="#ff6060"/>
<rect x="364.98" y="42.78" width="0.8" height="0.8" fill="#50a850"/>
<rect x="351.42" y="46.43" width="0.8" height="0.8" fill="#c8c8c8"/>
<rect x="360.66" y="38.38" width="0.8" height="0.8" fill="#c8c8c8"/>
<rect x="358.93" y="34.36" width="0.8" height="0.8" fill="#ff6060"/>
<rect x="362.83" y="43.29" width="0.8" height="0.8" fill="#50a850"/>
<rect x="353.93" y="36.99" width="0.8" height="0.8" fill="#ff6060"/>
<rect x="377.84" y="16.39" width="0.8" height="0.8" fill="#ff6060"/>
<rect x="371.95" y="24.52" width="0.8" height="0.8" fill="#c8c8c8"/>
<rect x="298.82" y="102.61" width="0.9" height="0.9" fill="#cdcdcd"/>
<rect x="301.59" y="92.05" width="0.9" height="0.9" fill="#cdcdcd"/>
<rect x="325.20" y="71.81" width="0.9" height="0.9" fill="#cdcdcd"/>
<rect x="274.12" y="118.68" width="0.9" height="0.9" fill="#cdcdcd"/>
<rect x="272.82" y="122.68" width="0.9" height="0.9" fill="#cdcdcd"/>
<rect x="317.84" y="78.03" width="0.9" height="0.9" fill="#cdcdcd"/>
<rect x="305.09" y="90.60" width="0.9" height="0.9" fill="#cdcdcd"/>
<rect x="287.00" y="105.82" width="0.9" height="0.9" fill="#cdcdcd"/>
<rect x="309.86" y="88.42" width="0.9" height="0.9" fill="#cdcdcd"/>
<rect x="290.62" y="109.30" width="0.9" height="0.9" fill="#cdcdcd"/>
<rect x="312.33" y="82.38" width="0.9" height="0.9" fill="#cdcdcd"/>
<rect x="306.49" y="91.45" width="0.9" height="0.9" fill="#cdcdcd"/>
<rect x="278.62" y="114.87" width="0.9" height="0.9" fill="#cdcdcd"/>
<rect x="293.30" y="102.35" width="0.9" height="0.9" fill="#cdcdcd"/>
<rect x="352.37" y="45.72" width="0.9" height="0.9" fill="#cdcdcd"/>
<rect x="269.24" y="125.56" width="0.9" height="0.9" fill="#cdcdcd"/>
<rect x="285.52" y="118.28" width="0.9" height="0.9" fill="#cdcdcd"/>
<rect x="293.84" y="100.33" width="0.9" height="0.9" fill="#cdcdcd"/>
<rect x="287.13" y="112.66" width="0.9" height="0.9" fill="#cdcdcd"/>
<rect x="310.86" y="88.52" width="0.9" height="0.9" fill="#cdcdcd"/>
<rect x="301.52" y="99.80" width="0.9" height="0.9" fill="#cdcdcd"/>
<rect x="343.37" y="57.08" width="0.9" height="0.9" fill="#cdcdcd"/>
<rect x="271.54" y="126.09" width="0.9" height="0.9" fill="#cdcdcd"/>
<rect x="287.33" y="110.10" width="0.9" height="0.9" fill="#cdcdcd"/>
<rect x="306.68" y="88.50" width="0.9" height="0.9" fill="#cdcdcd"/>
<rect x="312.11" y="82.91" width="0.9" height="0.9" fill="#cdcdcd"/>
<rect x="264.40" y="129.93" width="0.9" height="0.9" fill="#cdcdcd"/>
<rect x="299.27" y="99.86" width="0.9" height="0.9" fill="#cdcdcd"/>
<rect x="354.93" y="50.51" width="0.9" height="0.9" fill="#cdcdcd"/>
<rect x="271.42" y="124.62" width="0.9" height="0.9" fill="#cdcdcd"/>
<rect x="281.69" y="113.39" width="0.9" height="0.9" fill="#cdcdcd"/>
<rect x="297.24" y="100.50" width="0.9" height="0.9" fill="#cdcdcd"/>
<rect x="295.16" y="105.66" width="0.9" height="0.9" fill="#cdcdcd"/>
<rect x="306.07" y="90.49" width="0.9" height="0.9" fill="#cdcdcd"/>
<rect x="265.37" y="128.80" width="0.9" height="0.9" fill="#cdcdcd"/>
<rect x="300.24" y="97.77" width="0.9" height="0.9" fill="#cdcdcd"/>
<rect x="277.69" y="118.86" width="0.9" height="0.9" fill="#cdcdcd"/>
<rect x="287.86" y="113.15" width="0.9" height="0.9" fill="#cdcdcd"/>
<rect x="288.42" y="106.47" width="0.9" height="0.9" fill="#cdcdcd"/>
<rect x="277.93" y="123.47" width="0.9" height="0.9" fill="#cdcdcd"/>
<rect x="266.34" y="132.22" width="0.9" height="0.9" fill="#cdcdcd"/>
<rect x="297.60" y="105.24" width="0.9" height="0.9" fill="#cdcdcd"/>
<rect x="276.78" y="121.59" width="0.9" height="0.9" fill="#cdcdcd"/>
<rect x="309.50" y="91.64" width="0.9" height="0.9" fill="#cdcdcd"/>
<rect x="338.96" y="59.23" width="0.9" height="0.9" fill="#cdcdcd"/>
<rect x="288.57" y="112.91" width="0.9" height="0.9" fill="#cdcdcd"/>
<rect x="297.09" y="100.89" width="0.9" height="0.9" fill="#cdcdcd"/>
<rect x="306.65" y="96.60" width="0.9" height="0.9" fill="#cdcdcd"/>
<rect x="307.48" y="83.08" width="0.9" height="0.9" fill="#cdcdcd"/>
<rect x="337.89" y="60.00" width="0.9" height="0.9" fill="#cdcdcd"/>
<rect x="283.89" y="112.74" width="0.9" height="0.9" fill="#cdcdcd"/>
<rect x="280.29" y="115.36" width="0.9" height="0.9" fill="#cdcdcd"/>
<rect x="313.06" y="80.76" width="0.9" height="0.9" fill="#cdcdcd"/>
<rect x="291.97" y="104.36" width="0.9" height="0.9" fill="#cdcdcd"/>
<rect x="289.76" y="105.25" width="0.9" height="0.9" fill="#cdcdcd"/>
<rect x="329.10" y="63.60" width="0.9" height="0.9" fill="#cdcdcd"/>
<rect x="303.03" y="88.80" width="0.9" height="0.9" fill="#cdcdcd"/>
<rect x="294.01" y="102.50" width="0.9" height="0.9" fill="#cdcdcd"/>
<rect x="284.65" y="114.38" width="0.9" height="0.9" fill="#cdcdcd"/>
<rect x="288.38" y="106.03" width="0.9" height="0.9" fill="#cdcdcd"/>
<rect x="290.48" y="105.92" width="0.9" height="0.9" fill="#cdcdcd"/>
<rect x="339.32" y="54.84" width="0.9" height="0.9" fill="#cdcdcd"/>
<rect x="300.03" y="99.83" width="0.9" height="0.9" fill="#cdcdcd"/>
<rect x="308.96" y="82.60" width="0.9" height="0.9" fill="#cdcdcd"/>
<rect x="282.65" y="110.04" width="0.9" height="0.9" fill="#cdcdcd"/>
<rect x="273.56" y="125.30" width="0.9" height="0.9" fill="#cdcdcd"/>
<rect x="312.15" y="85.47" width="0.9" height="0.9" fill="#cdcdcd"/>
<rect x="300.11" y="94.33" width="0.9" height="0.9" fill="#cdcdcd"/>
<rect x="270.23" y="130.71" width="0.9" height="0.9" fill="#cdcdcd"/>
<rect x="290.26" y="104.16" width="0.9" height="0.9" fill="#cdcdcd"/>
<rect x="347.99" y="49.79" width="0.9" height="0.9" fill="#cdcdcd"/>
<rect x="346.94" y="54.39" width="0.9" height="0.9" fill="#cdcdcd"/>
<rect x="321.87" y="74.20" width="0.9" height="0.9" fill="#cdcdcd"/>
<rect x="278.22" y="116.19" width="0.9" height="0.9" fill="#cdcdcd"/>
<rect x="307.50" y="91.22" width="0.9" height="0.9" fill="#cdcdcd"/>
<rect x="306.73" y="89.94" width="0.9" height="0.9" fill="#cdcdcd"/>
<rect x="293.01" y="101.41" width="0.9" height="0.9" fill="#cdcdcd"/>
<rect x="303.14" y="96.91" width="0.9" height="0.9" fill="#cdcdcd"/>
<rect x="278.12" y="124.91" width="0.9" height="0.9" fill="#cdcdcd"/>
<rect x="307.62" y="89.80" width="0.9" height="0.9" fill="#cdcdcd"/>
<rect x="327.43" y="70.56" width="0.9" height="0.9" fill="#cdcdcd"/>
<rect x="314.57" y="78.77" width="0.9" height="0.9" fill="#cdcdcd"/>
<rect x="261.60" y="132.57" width="0.9" height="0.9" fill="#cdcdcd"/>
<rect x="292.33" y="108.63" width="0.9" height="0.9" fill="#cdcdcd"/>
<rect x="311.36" y="85.66" width="0.9" height="0.9" fill="#cdcdcd"/>
<rect x="266.05" y="130.61" width="0.9" height="0.9" fill="#cdcdcd"/>
<rect x="292.82" y="102.26" width="0.9" height="0.9" fill="#cdcdcd"/>
<rect x="275.69" y="118.12" width="0.9" height="0.9" fill="#cdcdcd"/>
<rect x="271.73" y="121.05" width="0.9" height="0.9" fill="#cdcdcd"/>
<rect x="295.58" y="110.66" width="0.9" height="0.9" fill="#cdcdcd"/>
<rect x="276.88" y="121.69" width="0.9" height="0.9" fill="#cdcdcd"/>
<rect x="272.65" y="118.92" width="0.9" height="0.9" fill="#cdcdcd"/>
<rect x="310.98" y="86.90" width="0.9" height="0.9" fill="#cdcdcd"/>
<rect x="264.60" y="126.53" width="0.9" height="0.9" fill="#cdcdcd"/>
<rect x="268.36" y="130.46" width="0.9" height="0.9" fill="#cdcdcd"/>
<rect x="327.31" y="71.32" width="0.9" height="0.9" fill="#cdcdcd"/>
<rect x="280.87" y="109.79" width="0.9" height="0.9" fill="#cdcdcd"/>
<rect x="340.76" y="59.57" width="0.9" height="0.9" fill="#cdcdcd"/>
<rect x="327.18" y="70.51" width="0.9" height="0.9" fill="#cdcdcd"/>
<rect x="291.05" y="103.67" width="0.9" height="0.9" fill="#cdcdcd"/>
<rect x="282.14" y="113.32" width="0.9" height="0.9" fill="#cdcdcd"/>
<rect x="266.71" y="130.17" width="0.9" height="0.9" fill="#cdcdcd"/>
<rect x="263.96" y="131.86" width="0.9" height="0.9" fill="#cdcdcd"/>
<rect x="309.83" y="83.77" width="0.9" height="0.9" fill="#cdcdcd"/>
<rect x="272.14" y="117.71" width="0.9" height="0.9" fill="#cdcdcd"/>
<rect x="279.28" y="116.73" width="0.9" height="0.9" fill="#cdcdcd"/>
<rect x="276.39" y="125.65" width="0.9" height="0.9" fill="#cdcdcd"/>
<rect x="343.06" y="56.83" width="0.9" height="0.9" fill="#cdcdcd"/>
<rect x="294.27" y="104.74" width="0.9" height="0.9" fill="#cdcdcd"/>
<rect x="284.14" y="112.97" width="0.9" height="0.9" fill="#cdcdcd"/>
<rect x="326.94" y="70.16" width="0.9" height="0.9" fill="#cdcdcd"/>
<rect x="295.96" y="102.75" width="0.9" height="0.9" fill="#cdcdcd"/>
<rect x="312.38" y="86.37" width="0.9" height="0.9" fill="#cdcdcd"/>
<rect x="269.89" y="127.84" width="0.9" height="0.9" fill="#cdcdcd"/>
<rect x="297.52" y="92.68" width="0.9" height="0.9" fill="#cdcdcd"/>
<rect x="322.20" y="73.79" width="0.9" height="0.9" fill="#cdcdcd"/>
<rect x="270.76" y="126.90" width="0.9" height="0.9" fill="#cdcdcd"/>
<rect x="332.35" y="65.54" width="0.9" height="0.9" fill="#cdcdcd"/>
<rect x="261.49" y="131.41" width="0.9" height="0.9" fill="#cdcdcd"/>
<rect x="326.35" y="71.73" width="0.9" height="0.9" fill="#cdcdcd"/>
<rect x="279.88" y="116.62" width="0.9" height="0.9" fill="#cdcdcd"/>
<rect x="302.85" y="90.61" width="0.9" height="0.9" fill="#cdcdcd"/>
<rect x="307.72" y="91.73" width="0.9" height="0.9" fill="#cdcdcd"/>
<rect x="304.81" y="90.67" width="0.9" height="0.9" fill="#cdcdcd"/>
<rect x="263.23" y="134.09" width="0.9" height="0.9" fill="#cdcdcd"/>
<rect x="324.19" y="76.47" width="0.9" height="0.9" fill="#cdcdcd"/>
<rect x="272.58" y="130.28" width="0.9" height="0.9" fill="#cdcdcd"/>
<rect x="322.53" y="75.25" width="0.9" height="0.9" fill="#cdcdcd"/>
<rect x="260.65" y="131.68" width="0.9" height="0.9" fill="#cdcdcd"/>
<rect x="303.79" y="96.24" width="0.9" height="0.9" fill="#cdcdcd"/>
<rect x="316.25" y="86.37" width="0.9" height="0.9" fill="#cdcdcd"/>
<rect x="306.60" y="93.96" width="0.9" height="0.9" fill="#cdcdcd"/>
<rect x="286.14" y="116.11" width="0.9" height="0.9" fill="#cdcdcd"/>
<rect x="267.10" y="133.42" width="0.9" height="0.9" fill="#cdcdcd"/>
<rect x="284.76" y="110.27" width="0.9" height="0.9" fill="#cdcdcd"/>
<rect x="297.46" y="96.80" width="0.9" height="0.9" fill="#cdcdcd"/>
<rect x="317.25" y="87.02" width="0.9" height="0.9" fill="#cdcdcd"/>
<rect x="332.10" y="67.43" width="0.9" height="0.9" fill="#cdcdcd"/>
<rect x="323.22" y="75.66" width="0.9" height="0.9" fill="#cdcdcd"/>
<rect x="275.37" y="117.92" width="0.9" height="0.9" fill="#cdcdcd"/>
<rect x="277.68" y="122.12" width="0.9" height="0.9" fill="#cdcdcd"/>
<rect x="319.65" y="85.05" width="0.9" height="0.9" fill="#cdcdcd"/>
<rect x="269.37" y="128.00" width="0.9" height="0.9" fill="#cdcdcd"/>
<rect x="318.39" y="80.82" width="0.9" height="0.9" fill="#cdcdcd"/>
<rect x="281.04" y="117.07" width="0.9" height="0.9" fill="#cdcdcd"/>
<rect x="275.15" y="125.60" width="0.9" height="0.9" fill="#cdcdcd"/>
<rect x="309.92" y="83.88" width="0.9" height="0.9" fill="#cdcdcd"/>
<rect x="282.21" y="114.29" width="0.9" height="0.9" fill="#cdcdcd"/>
<rect x="307.03" y="91.89" width="0.9" height="0.9" fill="#cdcdcd"/>
<rect x="281.96" y="118.11" width="0.9" height="0.9" fill="#cdcdcd"/>
<rect x="289.08" y="108.13" width="0.9" height="0.9" fill="#cdcdcd"/>
<rect x="294.40" y="98.02" width="0.9" height="0.9" fill="#cdcdcd"/>
<rect x="299.96" y="97.57" width="0.9" height="0.9" fill="#cdcdcd"/>
<rect x="361.93" y="36.51" width="0.9" height="0.9" fill="#cdcdcd"/>
<rect x="291.93" y="107.71" width="0.9" height="0.9" fill="#cdcdcd"/>
<rect x="283.23" y="112.40" width="0.9" height="0.9" fill="#cdcdcd"/>
<rect x="264.19" y="130.82" width="0.9" height="0.9" fill="#cdcdcd"/>
<rect x="268.57" y="122.57" width="0.9" height="0.9" fill="#cdcdcd"/>
<rect x="333.25" y="64.76" width="0.9" height="0.9" fill="#cdcdcd"/>
<rect x="323.81" y="71.77" width="0.9" height="0.9" fill="#cdcdcd"/>
<rect x="309.19" y="91.20" width="0.9" height="0.9" fill="#cdcdcd"/>
<rect x="304.89" y="93.84" width="0.9" height="0.9" fill="#cdcdcd"/>
<rect x="339.83" y="61.31" width="0.9" height="0.9" fill="#cdcdcd"/>
<rect x="301.04" y="93.01" width="0.9" height="0.9" fill="#cdcdcd"/>
<rect x="296.85" y="95.31" width="0.9" height="0.9" fill="#cdcdcd"/>
<rect x="293.68" y="101.27" width="0.9" height="0.9" fill="#cdcdcd"/>
<rect x="291.57" y="107.24" width="0.9" height="0.9" fill="#cdcdcd"/>
<rect x="322.35" y="79.53" width="0.9" height="0.9" fill="#cdcdcd"/>
<rect x="310.20" y="87.19" width="0.9" height="0.9" fill="#cdcdcd"/>
<rect x="299.57" y="98.59" width="0.9" height="0.9" fill="#cdcdcd"/>
<rect x="277.69" y="123.11" width="0.9" height="0.9" fill="#cdcdcd"/>
<rect x="288.62" y="103.51" width="0.9" height="0.9" fill="#cdcdcd"/>
<rect x="339.39" y="65.21" width="0.9" height="0.9" fill="#cdcdcd"/>
<rect x="329.35" y="71.99" width="0.9" height="0.9" fill="#cdcdcd"/>
<rect x="300.29" y="98.33" width="0.9" height="0.9" fill="#cdcdcd"/>
<rect x="296.64" y="100.15" width="0.9" height="0.9" fill="#cdcdcd"/>
<rect x="284.71" y="116.93" width="0.9" height="0.9" fill="#cdcdcd"/>
<rect x="295.82" y="101.10" width="0.9" height="0.9" fill="#cdcdcd"/>
<rect x="320.15" y="80.69" width="0.9" height="0.9" fill="#cdcdcd"/>
<rect x="326.99" y="72.29" width="0.9" height="0.9" fill="#cdcdcd"/>
<rect x="281.00" y="119.50" width="0.9" height="0.9" fill="#cdcdcd"/>
<rect x="272.43" y="125.75" width="0.9" height="0.9" fill="#cdcdcd"/>
<rect x="281.09" y="112.15" width="0.9" height="0.9" fill="#cdcdcd"/>
<rect x="298.76" y="96.48" width="0.9" height="0.9" fill="#cdcdcd"/>
<rect x="278.24" y="117.60" width="0.9" height="0.9" fill="#cdcdcd"/>
<rect x="280.76" y="115.13" width="0.9" height="0.9" fill="#cdcdcd"/>
<rect x="280.69" y="116.32" width="0.9" height="0.9" fill="#cdcdcd"/>
<rect x="333.39" y="62.55" width="0.9" height="0.9" fill="#cdcdcd"/>
<rect x="276.13" y="115.92" width="0.9" height="0.9" fill="#cdcdcd"/>
<rect x="304.03" y="88.34" width="0.9" height="0.9" fill="#cdcdcd"/>
<rect x="293.06" y="104.83" width="0.9" height="0.9" fill="#cdcdcd"/>
<rect x="285.46" y="112.77" width="0.9" height="0.9" fill="#cdcdcd"/>
<rect x="290.30" y="111.99" width="0.9" height="0.9" fill="#cdcdcd"/>
<rect x="303.92" y="97.93" width="0.9" height="0.9" fill="#cdcdcd"/>
<rect x="309.36" y="86.33" width="0.9" height="0.9" fill="#cdcdcd"/>
<rect x="312.48" y="86.84" width="0.9" height="0.9" fill="#cdcdcd"/>
<rect x="287.34" y="104.23" width="0.9" height="0.9" fill="#cdcdcd"/>
<rect x="281.58" y="115.08" width="0.9" height="0.9" fill="#cdcdcd"/>
<rect x="296.84" y="102.29" width="0.9" height="0.9" fill="#cdcdcd"/>
<rect x="269.11" y="128.87" width="0.9" height="0.9" fill="#cdcdcd"/>
<rect x="333.46" y="62.46" width="0.9" height="0.9" fill="#cdcdcd"/>
<rect x="309.51" y="90.00" width="0.9" height="0.9" fill="#cdcdcd"/>
<rect x="294.37" y="104.70" width="0.9" height="0.9" fill="#cdcdcd"/>
<rect x="291.48" y="98.17" width="0.9" height="0.9" fill="#cdcdcd"/>
<rect x="262.86" y="127.71" width="0.9" height="0.9" fill="#cdcdcd"/>
<rect x="277.27" y="117.06" width="0.9" height="0.9" fill="#cdcdcd"/>
<rect x="269.63" y="126.02" width="0.9" height="0.9" fill="#cdcdcd"/>
<rect x="286.81" y="109.38" width="0.9" height="0.9" fill="#cdcdcd"/>
<rect x="314.49" y="82.90" width="0.9" height="0.9" fill="#cdcdcd"/>
<rect x="272.87" y="122.78" width="0.9" height="0.9" fill="#cdcdcd"/>
<rect x="330.93" y="70.64" width="0.9" height="0.9" fill="#cdcdcd"/>
<rect x="300.04" y="98.84" width="0.9" height="0.9" fill="#cdcdcd"/>
<rect x="298.93" y="98.37" width="0.9" height="0.9" fill="#cdcdcd"/>
<rect x="318.95" y="80.29" width="0.9" height="0.9" fill="#cdcdcd"/>
<rect x="286.37" y="112.09" width="0.9" height="0.9" fill="#cdcdcd"/>
<rect x="287.89" y="105.53" width="0.9" height="0.9" fill="#cdcdcd"/>
<rect x="305.36" y="92.96" width="0.9" height="0.9" fill="#cdcdcd"/>
<rect x="307.62" y="86.50" width="0.9" height="0.9" fill="#cdcdcd"/>
<rect x="298.53" y="100.69" width="0.9" height="0.9" fill="#cdcdcd"/>
<rect x="303.03" y="94.00" width="0.9" height="0.9" fill="#cdcdcd"/>
<rect x="337.85" y="63.87" width="0.9" height="0.9" fill="#cdcdcd"/>
<rect x="276.68" y="120.76" width="0.9" height="0.9" fill="#cdcdcd"/>
<rect x="302.25" y="90.30" width="0.9" height="0.9" fill="#cdcdcd"/>
<rect x="362.77" y="35.16" width="0.9" height="0.9" fill="#cdcdcd"/>
<rect x="288.59" y="115.53" width="0.9" height="0.9" fill="#cdcdcd"/>
<rect x="268.80" y="121.48" width="0.9" height="0.9" fill="#cdcdcd"/>
<rect x="327.48" y="73.18" width="0.9" height="0.9" fill="#cdcdcd"/>
<rect x="277.01" y="115.84" width="0.9" height="0.9" fill="#cdcdcd"/>
<rect x="312.59" y="86.63" width="0.9" height="0.9" fill="#cdcdcd"/>
<rect x="297.90" y="99.07" width="0.9" height="0.9" fill="#cdcdcd"/>
<rect x="332.30" y="72.64" width="0.9" height="0.9" fill="#cdcdcd"/>
<rect x="317.42" y="80.48" width="0.9" height="0.9" fill="#cdcdcd"/>
<rect x="309.00" y="92.75" width="0.9" height="0.9" fill="#cdcdcd"/>
<rect x="280.80" y="115.48" width="0.9" height="0.9" fill="#cdcdcd"/>
<rect x="299.18" y="99.56" width="0.9" height="0.9" fill="#cdcdcd"/>
<rect x="297.38" y="96.08" width="0.9" height="0.9" fill="#cdcdcd"/>
<rect x="270.52" y="130.34" width="0.9" height="0.9" fill="#cdcdcd"/>
<rect x="355.04" y="42.55" width="0.9" height="0.9" fill="#cdcdcd"/>
<rect x="304.75" y="99.36" width="0.9" height="0.9" fill="#cdcdcd"/>
<rect x="336.26" y="60.49" width="0.9" height="0.9" fill="#cdcdcd"/>
<rect x="330.96" y="70.36" width="0.9" height="0.9" fill="#cdcdcd"/>
<rect x="300.19" y="97.54" width="0.9" height="0.9" fill="#cdcdcd"/>
<rect x="266.26" y="132.69" width="0.9" height="0.9" fill="#cdcdcd"/>
<rect x="271.53" y="121.23" width="0.9" height="0.9" fill="#cdcdcd"/>
<rect x="286.61" y="116.62" width="0.9" height="0.9" fill="#cdcdcd"/>
<rect x="316.06" y="80.30" width="0.9" height="0.9" fill="#cdcdcd"/>
<rect x="342.08" y="53.74" width="0.9" height="0.9" fill="#cdcdcd"/>
<rect x="267.84" y="135.40" width="0.9" height="0.9" fill="#cdcdcd"/>
<rect x="324.25" y="69.52" width="0.9" height="0.9" fill="#cdcdcd"/>
<rect x="278.80" y="117.15" width="0.9" height="0.9" fill="#cdcdcd"/>
</g>
<text x="287.4" y="8.3" font-size="5.0" font-weight="bold" fill="#222" text-anchor="start" textLength="78.7" lengthAdjust="spacingAndGlyphs" >HFD-F Avg (log2) vs NT Avg (log2)</text>
<text x="309.9" y="141.8" font-size="5.5" font-weight="bold" fill="#222" text-anchor="start" textLength="31.2" lengthAdjust="spacingAndGlyphs" >NT Avg (log2)</text>
<text x="0" y="0" font-size="5.6" font-weight="bold" fill="#222" textLength="38" lengthAdjust="spacingAndGlyphs" transform="translate(259.9 90.7) rotate(-90)">HFD-F Avg (log2)</text>
<text x="255.6" y="157.2" font-size="9.1" font-weight="normal" fill="#1a1a1a" text-anchor="start" textLength="144.3" lengthAdjust="spacingAndGlyphs" xml:space="preserve">The liver expression  of  2825 genes</text>
<text x="255.6" y="168.9" font-size="9.1" font-weight="normal" fill="#1a1a1a" text-anchor="start" textLength="142.4" lengthAdjust="spacingAndGlyphs" xml:space="preserve">was modulated ( ± 1.5 folds) by the</text>
<text x="255.1" y="180.6" font-size="9.1" font-weight="normal" fill="#1a1a1a" text-anchor="start" textLength="150.5" lengthAdjust="spacingAndGlyphs" xml:space="preserve">Western diet in comparison  to chow</text>
<text x="255.6" y="192.8" font-size="9.1" font-weight="normal" fill="#1a1a1a" text-anchor="start" textLength="155.8" lengthAdjust="spacingAndGlyphs" xml:space="preserve">diet.  677  were upregulated and 2148</text>
<text x="255.6" y="204.4" font-size="9.1" font-weight="normal" fill="#1a1a1a" text-anchor="start" textLength="61.0" lengthAdjust="spacingAndGlyphs" xml:space="preserve">downregulated</text>
<text x="413.4" y="10.7" font-size="11.5" font-weight="normal" fill="#000" text-anchor="start" textLength="6.8" lengthAdjust="spacingAndGlyphs" >C</text>
<g stroke="#333" stroke-width="0.5">
<circle cx="507.1" cy="95.7" r="79.7" fill="#ff9191"/>
<circle cx="587.7" cy="96.4" r="80.5" fill="#9999fd"/>
<circle cx="549" cy="161.2" r="80.6" fill="#98cb96"/>
</g>
<clipPath id="ca"><circle cx="507.1" cy="95.7" r="79.7"/></clipPath>
<clipPath id="cb"><circle cx="587.7" cy="96.4" r="80.5"/></clipPath>
<clipPath id="cc"><circle cx="549" cy="161.2" r="80.6"/></clipPath>
<g clip-path="url(#ca)"><circle cx="587.7" cy="96.4" r="80.5" fill="#9455c8" stroke="#333" stroke-width="0.5"/></g>
<g clip-path="url(#ca)"><circle cx="549" cy="161.2" r="80.6" fill="#9b8e62" stroke="#333" stroke-width="0.5"/></g>
<g clip-path="url(#cb)"><circle cx="549" cy="161.2" r="80.6" fill="#5e8e98" stroke="#333" stroke-width="0.5"/></g>
<g clip-path="url(#ca)"><g clip-path="url(#cb)"><circle cx="549" cy="161.2" r="80.6" fill="#5e6b74" stroke="#333" stroke-width="0.5"/></g></g>
<g fill="none" stroke="#333" stroke-width="0.5">
<circle cx="507.1" cy="95.7" r="79.7"/><circle cx="587.7" cy="96.4" r="80.5"/><circle cx="549" cy="161.2" r="80.6"/>
</g>
<text x="534" y="6.9" font-size="5.4" font-weight="bold" fill="#111" text-anchor="start" textLength="28" lengthAdjust="spacingAndGlyphs" >Total: 1.090</text>
<line x1="534" y1="7.55" x2="562" y2="7.55" stroke="#222" stroke-width="0.45"/>
<text x="428.1" y="15.8" font-size="3.8" font-weight="bold" fill="#111" text-anchor="start" textLength="51.2" lengthAdjust="spacingAndGlyphs" >HFD-F vs HFD-F + BAR502</text>
<text x="462.9" y="20.9" font-size="3.8" font-weight="bold" fill="#111" text-anchor="middle" >274</text>
<text x="602.2" y="15.9" font-size="3.8" font-weight="bold" fill="#111" text-anchor="start" textLength="47.1" lengthAdjust="spacingAndGlyphs" >HFD-F vs HFD-F + UDCA</text>
<text x="635.1" y="21" font-size="3.8" font-weight="bold" fill="#111" text-anchor="middle" >475</text>
<text x="504.2" y="246.8" font-size="3.8" font-weight="bold" fill="#111" text-anchor="start" textLength="68.8" lengthAdjust="spacingAndGlyphs" >HFD-F vs HFD-F + UDCA + BAR502</text>
<text x="547.8" y="252.1" font-size="3.8" font-weight="bold" fill="#111" text-anchor="middle" >472</text>
<rect x="470.40" y="64.5" width="3.8" height="3.6" fill="#fff"/>
<text x="472.3" y="75.6" font-size="4.4" font-weight="bold" fill="#fff" text-anchor="middle" >A</text>
<text x="472.3" y="83.0" font-size="3.9" font-weight="normal" fill="#eeeeee" text-anchor="middle" textLength="19.5" lengthAdjust="spacingAndGlyphs" >161 (14,8%)</text>
<rect x="545.80" y="55" width="3.8" height="3.6" fill="#fff"/>
<text x="547.7" y="66.1" font-size="4.4" font-weight="bold" fill="#fff" text-anchor="middle" >AB</text>
<text x="547.7" y="73.5" font-size="3.9" font-weight="normal" fill="#eeeeee" text-anchor="middle" textLength="16.6" lengthAdjust="spacingAndGlyphs" >37 (3,4%)</text>
<rect x="621.60" y="65" width="3.8" height="3.6" fill="#fff"/>
<text x="623.5" y="76.1" font-size="4.4" font-weight="bold" fill="#fff" text-anchor="middle" >B</text>
<text x="623.5" y="83.5" font-size="3.9" font-weight="normal" fill="#eeeeee" text-anchor="middle" textLength="21.4" lengthAdjust="spacingAndGlyphs" >340 (31,2%)</text>
<rect x="545.70" y="96.2" width="3.8" height="3.6" fill="#fff"/>
<text x="547.6" y="107.3" font-size="4.4" font-weight="bold" fill="#fff" text-anchor="middle" >ABC</text>
<text x="547.6" y="114.7" font-size="3.9" font-weight="normal" fill="#eeeeee" text-anchor="middle" textLength="17.2" lengthAdjust="spacingAndGlyphs" >42 (3,9%)</text>
<rect x="492.80" y="137.4" width="3.8" height="3.6" fill="#fff"/>
<text x="494.7" y="148.5" font-size="4.4" font-weight="bold" fill="#fff" text-anchor="middle" >AC</text>
<text x="494.7" y="155.9" font-size="3.9" font-weight="normal" fill="#eeeeee" text-anchor="middle" textLength="17.6" lengthAdjust="spacingAndGlyphs" >34 (3,1%)</text>
<rect x="599.00" y="137.1" width="3.8" height="3.6" fill="#fff"/>
<text x="600.9" y="148.2" font-size="4.4" font-weight="bold" fill="#fff" text-anchor="middle" >BC</text>
<text x="600.9" y="155.6" font-size="3.9" font-weight="normal" fill="#eeeeee" text-anchor="middle" textLength="13.7" lengthAdjust="spacingAndGlyphs" >54 (5%)</text>
<rect x="546.30" y="186.2" width="3.8" height="3.6" fill="#fff"/>
<text x="548.2" y="197.29999999999998" font-size="4.4" font-weight="bold" fill="#fff" text-anchor="middle" >C</text>
<text x="548.2" y="204.7" font-size="3.9" font-weight="normal" fill="#eeeeee" text-anchor="middle" textLength="22.3" lengthAdjust="spacingAndGlyphs" >422 (38,7%)</text>
</svg>
</body></html>
